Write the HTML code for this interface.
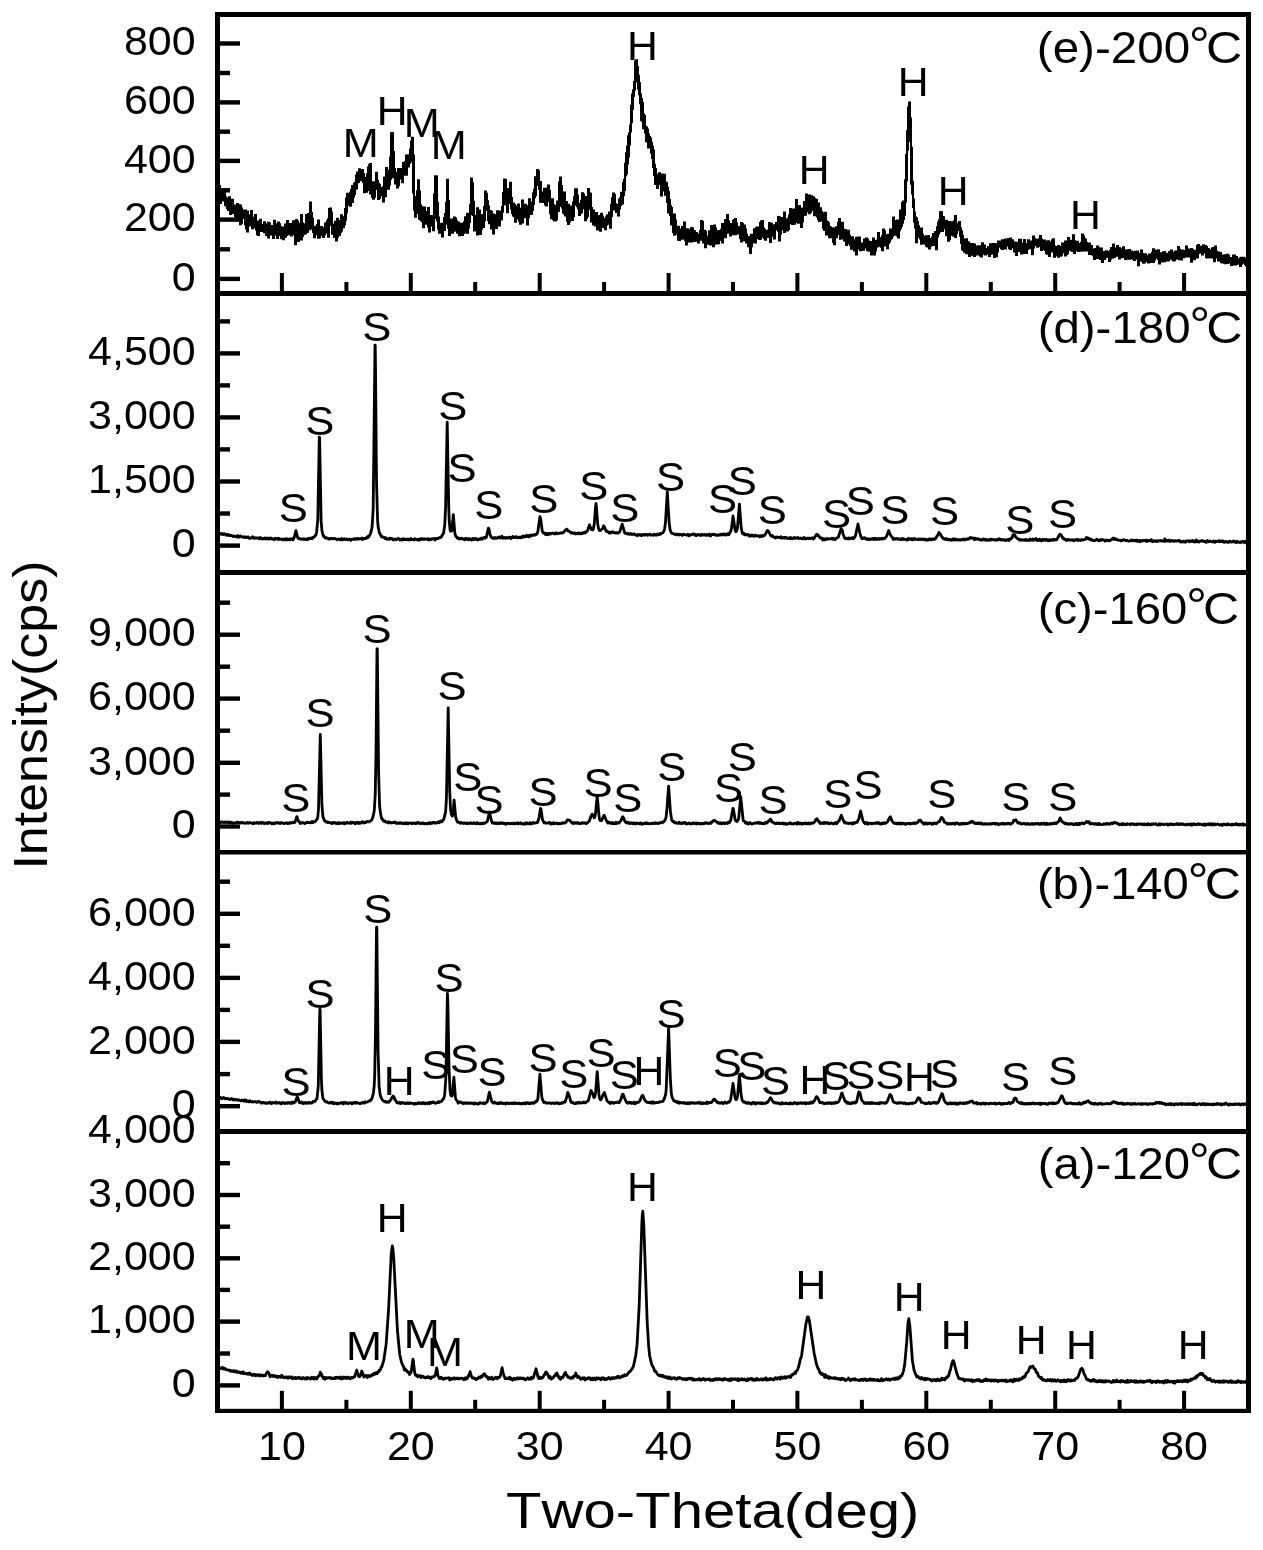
<!DOCTYPE html>
<html><head><meta charset="utf-8"><style>
html,body{margin:0;padding:0;background:#fff;width:1263px;height:1550px;overflow:hidden}
svg{display:block;will-change:transform}
text{font-family:"Liberation Sans",sans-serif;font-kerning:none;fill:#000}
</style></head><body>
<svg width="1263" height="1550" viewBox="0 0 1263 1550">
<rect width="1263" height="1550" fill="#fff"/>
<path d="M217.5,533.4L218.0,534.1 218.8,533.1 219.0,533.5 219.3,533.1 220.6,534.2 220.9,533.6 221.1,534.1 221.4,533.6 221.6,534.2 221.9,533.7 222.1,533.9 222.7,533.6 223.4,534.6 224.2,533.7 224.5,534.4 224.7,533.9 225.2,534.0 226.3,535.2 227.3,534.4 227.8,535.3 228.6,534.7 229.4,535.1 229.6,535.7 231.2,535.3 233.2,536.5 234.3,536.0 234.5,536.3 235.0,536.1 236.3,536.5 236.6,537.0 237.9,535.5 238.6,537.3 240.4,535.9 242.0,537.2 243.3,536.9 244.0,537.5 245.1,536.8 245.9,537.5 247.1,537.5 247.9,536.8 249.5,538.4 250.0,537.9 250.2,538.3 251.0,537.8 251.8,538.0 252.6,536.6 254.1,538.3 255.1,537.6 255.9,538.2 256.7,537.8 257.7,538.1 258.7,537.8 259.5,538.8 260.3,537.6 260.8,538.6 261.3,538.0 262.1,539.0 262.9,539.0 263.6,538.3 264.4,538.6 264.7,537.9 265.4,539.0 266.2,538.2 267.0,538.5 267.5,538.1 268.3,539.2 268.8,538.5 269.8,538.9 270.1,538.0 270.9,538.4 271.4,538.1 272.1,539.1 272.4,538.7 272.7,539.2 273.7,539.0 274.5,539.8 275.2,538.3 276.5,538.9 277.0,538.4 278.1,539.3 278.8,538.3 279.6,539.4 281.4,539.0 282.2,539.9 282.7,539.8 283.0,539.2 283.5,539.1 284.0,539.7 285.5,538.8 286.3,540.0 287.1,538.6 287.6,539.3 288.9,539.5 289.2,539.0 289.7,539.1 289.9,539.8 291.5,538.6 293.0,539.9 294.3,537.1 295.9,530.7 297.7,537.7 298.2,538.4 298.4,538.0 298.9,538.2 300.2,539.1 301.5,538.9 303.1,539.3 303.6,538.7 304.4,539.3 305.1,539.0 305.7,539.4 306.4,539.6 306.7,539.2 307.2,539.6 308.0,538.6 308.7,539.2 309.3,538.3 310.3,538.7 311.3,537.9 312.1,538.7 312.6,537.5 313.1,537.2 313.6,537.5 313.9,536.9 314.4,536.8 316.0,534.7 316.7,531.7 317.8,519.3 319.3,437.1 319.6,437.3 321.1,520.4 321.9,530.5 323.2,535.8 323.7,536.6 324.0,536.2 325.2,538.0 325.8,538.1 326.0,537.6 326.5,537.8 329.1,539.3 329.6,538.4 330.4,538.9 331.2,538.4 332.7,538.8 334.3,538.3 337.1,539.7 337.6,539.1 338.4,539.0 339.9,539.9 340.2,539.4 340.7,539.8 341.5,538.4 342.3,539.7 343.5,539.0 343.8,539.4 344.6,538.8 345.6,539.5 346.6,538.9 347.7,539.9 349.7,539.0 350.8,540.4 352.0,539.1 353.3,539.3 354.4,538.6 355.1,539.4 355.7,538.9 356.4,538.9 356.7,538.4 357.5,539.2 358.2,538.5 358.5,539.2 360.8,538.6 361.3,538.8 361.8,538.1 362.6,539.5 363.1,538.2 363.6,538.8 364.2,538.3 365.7,538.6 366.2,537.6 367.0,538.0 367.8,536.5 368.0,537.4 368.5,537.4 370.6,533.3 372.1,527.1 373.2,508.3 375.0,345.1 375.2,345.2 375.5,367.2 376.5,481.6 377.6,520.5 378.1,526.6 379.4,533.1 380.1,533.8 381.4,536.6 381.9,536.4 383.0,537.3 383.2,536.9 384.5,537.7 385.0,538.6 385.8,537.8 386.8,539.3 387.9,538.8 388.9,539.4 389.7,538.2 390.2,538.1 391.0,539.0 391.5,538.5 392.3,539.0 392.5,538.8 393.3,540.0 394.1,539.2 395.1,539.1 395.9,539.2 396.1,539.8 398.4,538.3 400.0,540.2 400.8,539.3 401.5,539.8 402.0,539.1 402.8,540.0 403.6,538.6 404.6,539.5 405.7,539.7 405.9,539.3 406.7,539.8 407.7,539.0 409.3,540.0 409.8,539.2 410.3,539.2 410.8,538.5 411.3,539.7 413.4,539.3 414.2,540.0 414.9,538.8 417.3,539.9 417.8,539.3 418.3,540.1 418.8,539.6 419.3,540.2 420.3,538.7 420.9,539.4 421.9,538.6 422.7,539.4 424.0,539.3 424.2,538.8 424.7,539.3 425.5,538.9 427.1,539.2 427.8,539.7 428.3,538.6 429.4,539.9 430.1,539.2 431.2,539.4 431.4,538.9 432.2,539.2 433.0,538.6 433.8,539.0 434.0,538.5 435.0,540.0 435.8,538.5 436.1,538.9 437.1,538.5 438.1,538.7 438.9,537.6 440.5,537.7 441.5,536.4 441.7,536.5 442.5,534.7 443.5,533.5 444.8,524.5 445.6,507.0 447.2,422.2 448.7,506.0 449.2,520.2 450.0,529.5 450.5,531.2 451.5,531.2 451.8,530.6 453.3,514.7 454.9,533.5 455.7,536.0 456.2,536.9 456.7,536.9 457.2,538.0 457.5,537.9 457.7,538.3 458.0,537.8 458.8,538.9 459.3,538.6 459.8,539.1 460.6,538.4 460.8,538.7 461.1,538.1 463.1,539.3 464.2,538.7 464.9,539.9 466.0,538.2 466.5,538.9 467.0,538.7 467.8,539.8 468.8,538.5 470.1,539.8 470.9,539.0 471.6,540.1 472.7,538.6 472.9,538.9 473.2,538.5 474.0,539.6 474.7,538.5 475.0,539.1 476.0,538.5 476.8,539.6 477.6,539.5 477.8,540.0 478.9,538.8 480.4,539.3 481.2,538.1 481.7,538.0 482.0,539.2 482.5,539.1 482.7,538.4 483.8,538.2 484.0,537.6 484.5,537.4 484.8,538.0 485.3,538.1 486.3,537.4 488.4,528.1 488.9,528.5 489.9,534.2 491.0,536.9 492.0,537.9 492.5,537.7 493.6,538.5 494.6,537.4 494.8,538.0 495.1,537.8 495.9,538.4 497.2,537.7 497.4,538.0 498.2,537.1 499.0,537.7 499.5,537.0 500.3,538.0 501.8,536.2 502.8,538.3 503.1,537.8 503.9,537.9 504.1,537.4 504.4,537.8 505.4,537.8 505.7,538.4 506.4,537.4 508.0,538.0 509.8,537.1 510.6,538.7 511.1,538.6 511.6,537.4 512.1,537.1 512.4,537.4 512.9,536.4 513.7,537.5 514.4,537.1 515.2,537.6 516.0,536.6 517.0,536.8 517.8,537.9 518.3,537.4 519.1,537.5 519.3,537.1 520.6,537.8 521.4,536.8 521.9,537.4 523.2,536.1 524.0,537.0 524.5,536.2 525.5,536.7 526.5,535.3 527.3,536.6 528.3,535.6 529.1,536.9 530.4,535.1 531.4,536.1 532.2,535.0 533.0,535.2 534.0,534.7 534.8,535.2 535.6,534.2 536.3,534.6 537.1,533.8 537.9,531.1 539.9,516.7 540.7,519.0 542.3,531.5 543.6,533.1 544.3,533.0 545.1,534.3 545.9,533.3 546.4,534.5 547.2,533.5 547.7,534.8 549.0,533.3 549.7,534.2 550.5,533.4 551.3,533.3 551.5,533.7 552.3,533.0 554.1,533.4 554.6,534.0 555.9,532.8 556.7,533.7 557.7,533.2 559.8,533.3 561.1,532.7 561.9,533.2 563.7,532.3 564.9,530.4 565.2,530.5 566.2,529.4 567.0,529.1 568.0,531.0 568.3,530.8 570.1,531.9 570.9,533.0 571.6,532.5 573.5,533.5 574.0,533.0 574.5,533.3 575.0,532.9 575.8,533.9 576.3,533.4 577.8,533.8 578.6,532.8 579.4,533.6 580.4,533.4 580.7,533.8 581.2,533.2 582.0,533.5 582.2,532.9 583.0,533.2 583.2,532.7 584.0,532.9 584.5,532.5 585.3,533.0 586.1,531.5 587.4,531.1 589.4,524.8 591.5,529.7 592.3,529.5 592.8,529.9 593.3,529.2 594.3,523.6 595.6,506.0 596.1,503.5 597.7,524.0 598.5,528.5 599.5,530.7 600.5,530.6 602.6,528.6 603.6,525.8 604.6,527.3 605.9,530.7 606.4,531.4 606.7,530.9 607.0,531.3 607.2,531.0 608.2,531.8 609.0,533.0 609.5,532.4 610.3,533.1 611.1,532.0 612.1,532.5 612.9,531.8 613.1,532.3 615.0,532.8 615.5,532.6 616.0,533.1 616.8,532.6 618.0,533.1 619.8,531.7 622.2,524.1 624.7,532.8 625.3,533.3 626.0,533.1 626.5,533.7 627.3,533.1 628.1,534.0 628.6,533.7 629.6,534.2 630.4,533.4 632.0,534.7 632.7,534.1 633.8,534.2 634.3,533.8 635.1,534.9 636.6,534.9 637.1,535.6 637.9,534.5 638.9,535.1 639.7,534.5 640.2,535.3 641.0,534.7 641.8,535.6 642.3,534.7 643.0,534.9 643.8,534.5 644.6,535.3 645.4,534.3 646.7,535.0 647.2,534.5 647.7,535.4 648.2,534.7 649.5,534.2 650.3,534.4 650.8,535.2 652.1,535.1 652.6,534.7 653.6,535.2 654.4,534.2 655.4,535.1 656.2,534.5 657.0,535.1 658.0,534.0 658.3,534.6 659.3,534.7 660.1,533.5 660.8,534.1 661.3,533.4 662.9,532.8 664.2,530.4 664.7,528.3 665.5,522.1 667.3,492.0 669.1,522.1 670.1,529.8 671.1,532.5 672.7,533.6 674.0,533.8 674.7,534.5 675.8,533.9 676.6,534.8 677.6,534.1 678.9,534.4 679.4,535.0 680.2,534.4 680.7,534.7 681.2,534.4 682.2,535.4 683.3,534.2 683.5,534.5 684.5,534.4 685.3,534.9 687.4,535.1 687.9,534.2 688.7,535.8 689.2,535.7 689.7,534.8 690.7,535.1 691.0,534.7 692.5,534.4 693.3,533.8 693.6,534.5 694.6,534.7 694.9,535.2 695.6,534.6 696.4,535.6 696.9,534.8 697.7,535.1 699.0,534.4 699.2,534.8 700.0,534.8 700.5,535.6 701.6,534.3 701.8,534.5 702.1,534.2 702.8,535.1 703.6,535.1 704.4,534.5 704.6,534.9 705.2,534.8 705.9,535.4 706.2,534.6 707.0,535.0 707.2,534.7 708.0,535.3 708.3,534.6 708.5,535.0 709.3,534.0 710.6,536.0 711.9,534.3 712.1,534.8 712.9,534.3 713.4,534.8 714.2,534.1 715.5,535.2 716.0,534.7 716.8,535.2 717.0,535.0 718.1,535.3 719.1,534.6 719.9,535.1 720.4,534.3 721.4,535.0 721.7,534.4 722.4,534.6 722.7,534.0 723.2,534.1 723.7,535.0 724.5,533.9 725.8,534.5 726.0,535.1 726.6,534.9 727.3,533.6 727.8,534.3 728.6,534.0 728.9,534.7 729.6,532.9 730.4,532.2 731.5,528.5 733.0,516.0 735.3,531.0 735.8,531.6 736.4,531.5 737.1,529.6 737.6,526.1 739.4,504.1 741.2,528.0 742.3,533.3 742.5,533.5 743.1,533.1 743.6,534.2 744.1,533.5 744.3,533.7 744.9,534.8 746.9,534.5 747.7,535.1 748.5,534.5 749.5,536.2 750.3,535.6 750.8,536.0 751.6,535.1 752.3,535.8 752.6,535.3 752.8,535.5 753.6,536.3 755.2,535.1 755.4,535.7 755.9,535.5 756.7,536.1 757.7,535.6 758.5,535.8 759.5,536.9 760.3,535.8 761.6,536.6 762.4,535.4 762.9,536.1 763.4,535.5 764.2,535.8 766.0,533.3 766.8,531.2 767.5,530.5 768.6,531.3 770.4,535.3 770.6,535.1 771.4,536.2 772.2,535.6 773.0,536.8 773.2,536.5 774.0,537.2 774.5,537.1 775.3,538.0 776.0,537.0 776.3,537.5 777.1,537.0 778.1,537.6 778.4,537.3 779.4,537.5 779.9,537.2 780.2,537.7 780.9,536.6 782.0,538.3 784.0,537.4 784.8,538.2 785.3,537.2 785.8,538.0 787.1,537.7 787.6,538.5 789.2,538.0 789.4,538.5 790.2,537.4 790.7,538.6 791.5,537.9 792.8,538.7 794.3,537.4 794.6,538.2 795.1,538.3 795.4,537.9 797.7,538.2 798.0,537.5 798.7,538.6 800.5,538.0 801.6,538.7 802.6,538.9 803.6,537.7 803.9,538.2 804.1,537.5 804.4,538.2 804.7,537.9 804.9,538.9 805.2,538.5 805.4,538.8 805.7,538.3 806.5,538.8 807.2,538.1 808.8,538.7 809.3,538.0 810.1,538.7 812.4,537.8 813.2,539.1 813.7,538.1 814.4,538.0 816.3,534.6 816.8,534.3 817.3,535.3 818.1,534.9 818.3,535.2 819.9,537.8 820.9,538.3 821.2,537.8 821.7,537.8 822.7,540.0 823.2,539.1 823.5,538.8 823.7,539.1 824.0,538.7 825.0,540.0 826.6,538.6 826.8,539.0 827.6,538.7 827.9,539.2 829.4,538.8 830.9,538.8 831.7,538.2 832.5,539.3 833.3,538.2 833.5,538.7 834.3,538.6 834.6,539.5 835.1,539.7 836.4,538.2 838.4,537.0 841.0,528.7 842.3,530.4 843.1,534.2 844.9,538.5 845.9,538.6 847.2,538.2 848.0,539.0 848.7,537.9 850.0,538.9 851.8,537.8 852.1,538.2 852.3,537.8 853.1,538.8 854.1,538.1 855.4,536.0 858.0,524.0 859.8,532.9 861.1,537.3 862.1,538.8 862.6,538.6 862.9,537.9 864.5,538.4 864.7,537.8 865.0,538.4 865.2,537.9 866.8,539.5 867.3,538.7 868.1,539.5 868.8,538.8 869.9,539.6 870.9,539.3 871.4,538.6 872.2,539.1 872.7,538.4 873.5,539.5 874.2,538.4 874.8,538.3 875.5,539.3 875.8,538.4 876.6,539.5 877.6,538.9 877.9,539.1 878.6,538.4 879.4,539.4 879.9,538.6 880.7,538.9 881.5,538.4 882.0,539.1 882.5,538.3 883.3,538.8 884.3,538.6 885.8,537.4 886.6,536.3 888.7,530.5 889.5,533.2 891.8,537.1 892.3,537.1 893.1,539.2 893.3,538.9 893.6,539.4 893.8,539.0 894.6,539.2 895.1,538.5 895.4,539.2 896.2,538.5 896.4,538.9 897.2,538.4 898.0,539.1 898.7,539.4 899.5,538.8 901.1,539.7 901.8,538.7 902.6,538.4 903.4,539.5 904.4,539.1 906.7,540.0 907.5,538.9 907.8,540.0 908.5,538.3 910.1,539.4 911.1,538.7 911.6,539.4 912.4,538.7 912.9,539.8 914.2,538.4 915.0,539.4 915.2,538.9 917.5,539.7 918.1,539.7 918.8,538.8 920.1,539.7 920.9,538.9 921.7,539.4 922.4,539.0 923.0,539.7 923.5,539.3 924.3,539.8 924.8,539.1 925.5,539.9 925.8,539.4 926.6,539.3 927.3,540.2 927.6,539.9 927.9,540.2 928.4,540.0 929.1,538.8 929.7,538.9 930.2,539.8 931.2,538.9 931.7,539.7 933.3,538.8 933.8,539.5 935.8,538.4 936.9,536.2 937.7,535.6 938.9,532.4 940.7,534.7 942.0,537.3 942.8,537.6 943.3,538.8 943.8,538.7 944.9,539.4 945.6,538.5 946.2,539.7 946.7,539.7 946.9,538.9 948.2,539.9 948.7,540.0 949.0,539.4 950.3,539.4 951.1,540.2 951.8,540.3 952.6,539.1 953.1,539.8 953.9,538.8 954.1,539.7 954.7,540.1 954.9,539.3 955.7,539.5 956.0,539.1 957.2,540.1 958.8,539.7 959.6,540.1 960.1,539.5 960.9,540.1 962.7,539.1 962.9,539.7 963.7,539.1 964.2,539.9 964.7,539.5 965.2,539.9 966.5,538.9 967.6,539.4 968.3,538.5 968.8,538.5 969.1,538.9 970.1,537.5 971.2,538.1 971.7,537.8 972.2,538.4 973.5,538.0 974.5,539.7 975.3,538.3 975.8,539.4 977.3,538.7 977.6,539.1 978.4,538.9 979.4,539.8 980.4,539.6 981.2,540.2 981.7,539.5 982.5,539.8 983.3,538.9 984.0,540.0 984.8,539.9 985.3,539.3 986.1,540.3 986.9,539.5 988.4,540.4 989.2,539.6 990.0,540.1 990.7,539.1 991.3,539.8 991.8,539.4 992.0,539.9 993.6,539.4 994.4,540.0 994.9,539.7 995.6,540.1 996.4,539.5 996.9,540.0 998.0,539.8 998.5,538.9 999.3,539.2 999.5,538.7 1000.3,540.0 1001.6,539.5 1002.3,540.0 1002.9,539.6 1003.6,539.7 1004.4,540.3 1005.4,539.7 1006.2,540.6 1008.0,539.3 1009.1,540.4 1010.3,538.7 1010.9,538.9 1011.6,537.8 1012.1,537.8 1012.9,534.9 1013.4,534.7 1014.7,535.0 1015.8,537.0 1017.3,538.6 1018.3,538.8 1019.1,540.0 1019.6,539.3 1020.9,540.2 1021.2,539.7 1022.2,540.2 1023.0,539.7 1024.0,540.3 1025.3,539.5 1025.8,539.6 1026.1,540.4 1026.8,539.7 1027.6,540.4 1028.4,539.9 1029.4,540.5 1030.2,539.0 1031.5,540.1 1032.0,540.1 1032.8,539.0 1033.5,540.3 1034.8,539.2 1035.1,539.5 1035.9,538.5 1036.9,540.5 1037.7,539.6 1038.7,540.5 1039.7,539.2 1041.5,540.9 1042.6,539.2 1043.3,540.3 1044.4,539.5 1044.6,540.0 1045.4,539.5 1045.9,540.4 1046.7,539.5 1047.7,540.6 1048.5,539.7 1049.5,540.8 1050.3,539.7 1050.8,540.4 1051.3,540.4 1051.6,539.6 1052.4,540.1 1053.4,539.3 1054.2,540.2 1054.9,539.6 1056.5,539.3 1056.7,539.8 1059.8,534.2 1060.3,534.2 1061.4,535.3 1062.7,538.3 1063.4,538.0 1064.2,539.4 1065.0,539.6 1065.5,539.2 1066.8,540.6 1067.3,539.7 1068.1,539.9 1068.3,539.4 1069.9,540.2 1071.2,539.7 1073.0,540.4 1073.2,539.8 1074.0,540.8 1074.8,540.0 1076.3,539.8 1076.8,539.2 1077.6,539.6 1077.9,540.5 1078.4,540.4 1078.6,539.8 1080.2,540.6 1081.5,539.6 1081.7,540.0 1082.5,539.8 1082.8,540.1 1085.1,539.2 1085.6,539.3 1086.1,537.7 1086.9,538.5 1087.1,537.8 1087.7,537.7 1088.4,538.8 1088.7,538.3 1089.2,538.5 1090.0,539.6 1090.2,539.1 1090.8,539.1 1091.0,539.7 1091.3,539.2 1092.3,540.5 1092.6,540.3 1094.4,540.7 1095.1,540.2 1095.4,540.5 1095.9,539.8 1096.7,539.9 1096.9,539.3 1098.5,540.7 1099.3,540.9 1100.0,539.7 1100.3,540.1 1100.6,539.7 1101.1,539.9 1101.3,540.4 1102.1,539.5 1103.9,539.9 1104.9,541.1 1106.2,540.7 1106.7,539.9 1107.5,540.5 1108.8,540.4 1109.1,540.8 1109.6,540.2 1110.3,540.5 1111.6,539.2 1112.2,539.0 1112.7,539.3 1113.4,537.9 1114.5,539.3 1114.7,538.7 1115.2,538.6 1116.0,539.6 1116.5,539.2 1117.8,540.1 1120.1,540.1 1120.9,540.9 1121.2,540.3 1122.5,540.6 1123.5,539.6 1125.8,540.7 1126.6,540.2 1128.6,541.2 1129.2,540.8 1130.7,540.9 1131.5,540.0 1132.0,540.0 1132.5,540.9 1132.8,540.5 1134.1,540.3 1134.3,540.6 1135.1,540.1 1135.3,541.0 1136.6,540.1 1137.4,541.4 1137.7,541.0 1138.4,541.1 1139.2,540.4 1139.7,541.8 1140.5,540.4 1140.8,541.2 1141.5,540.9 1141.8,541.2 1142.3,541.1 1142.6,540.5 1142.8,540.8 1143.1,540.3 1144.9,540.6 1145.7,540.2 1146.2,541.3 1146.9,540.3 1147.5,541.4 1148.2,540.5 1148.8,540.7 1150.0,540.5 1150.6,540.9 1151.3,539.6 1152.1,541.5 1152.6,541.6 1154.2,540.9 1154.4,541.2 1155.2,540.6 1156.7,541.6 1157.3,540.6 1157.8,541.1 1159.8,540.5 1160.1,541.0 1160.6,540.9 1160.9,540.4 1162.4,541.1 1163.7,540.8 1164.0,541.3 1164.7,538.9 1165.5,541.3 1166.5,540.2 1167.8,541.1 1169.1,540.1 1169.9,541.5 1171.9,540.4 1172.2,540.9 1173.0,540.8 1173.5,541.3 1174.3,540.8 1174.5,541.3 1175.6,540.7 1176.8,541.2 1177.6,540.6 1178.4,540.9 1179.2,540.4 1180.2,541.9 1180.7,541.2 1181.5,541.8 1181.7,541.3 1182.3,541.3 1182.8,542.0 1183.5,541.3 1185.4,542.3 1186.1,540.9 1187.2,541.2 1188.4,540.7 1189.2,541.8 1190.0,540.8 1191.5,541.4 1192.3,540.6 1192.6,541.0 1192.8,540.8 1193.1,541.5 1193.6,540.9 1194.4,541.9 1194.6,541.2 1195.4,542.0 1196.2,540.0 1196.9,541.6 1197.5,541.0 1198.0,541.0 1198.8,542.1 1199.8,541.2 1200.8,541.2 1201.6,540.5 1202.9,541.3 1203.7,540.9 1204.4,541.5 1205.7,541.3 1206.2,542.4 1207.3,540.5 1208.0,541.9 1209.1,541.7 1209.8,540.9 1210.1,541.3 1210.9,541.3 1211.1,541.7 1211.9,541.5 1212.2,541.9 1213.4,541.0 1213.7,541.4 1214.0,541.0 1214.7,542.4 1215.8,541.3 1216.5,541.7 1217.6,541.1 1218.9,541.5 1219.1,540.8 1219.6,540.7 1219.9,541.7 1220.1,541.3 1220.4,541.7 1221.4,541.5 1222.2,540.7 1222.7,541.7 1223.5,541.3 1224.3,542.3 1225.3,541.5 1225.6,541.9 1226.3,541.5 1227.4,542.4 1228.1,541.8 1228.9,542.2 1229.4,541.2 1230.2,541.8 1231.0,541.6 1231.5,542.1 1232.8,541.7 1233.3,541.0 1234.1,542.0 1234.6,541.8 1234.8,542.1 1235.1,541.5 1236.4,542.6 1237.2,541.2 1237.4,541.8 1238.4,542.2 1239.2,542.0 1240.0,542.7 1240.5,541.9 1240.8,541.8 1241.0,542.3 1242.1,542.1 1242.8,541.3 1243.6,542.0 1243.9,541.6 1244.6,542.8 1245.9,541.3 1247.5,542.0 1248.5,541.5" fill="none" stroke="#000" stroke-width="2.8" stroke-linejoin="round"/>
<path d="M217.5,822.0L218.5,822.7 219.0,822.1 219.8,822.9 220.3,822.0 220.9,822.6 221.6,821.8 223.7,822.6 224.5,821.9 225.7,822.5 226.8,822.0 227.8,822.7 228.6,822.0 228.8,822.4 229.9,822.1 230.1,822.7 231.4,822.2 232.2,823.6 233.5,822.8 236.3,822.8 237.1,822.1 237.6,822.7 238.1,822.3 239.9,822.6 240.7,823.1 241.5,822.2 242.2,822.8 243.3,822.6 244.6,823.4 244.8,823.1 246.4,823.0 246.9,822.5 248.2,823.3 249.5,822.4 252.3,823.5 253.6,822.8 254.1,823.5 254.6,823.0 255.6,823.2 256.7,822.4 256.9,823.1 258.2,822.6 259.0,823.4 259.5,822.7 260.3,822.7 260.5,822.4 261.3,823.4 262.6,822.3 262.9,822.9 263.6,822.9 264.2,823.8 264.7,823.1 265.4,823.2 265.7,822.7 266.5,823.4 267.2,823.0 267.5,823.5 268.3,822.5 268.8,823.0 269.3,822.4 269.8,823.1 271.1,823.0 271.9,823.9 273.2,822.8 273.7,822.8 273.9,823.6 274.5,823.8 275.2,823.5 275.5,822.8 276.5,822.5 277.0,823.0 277.8,822.6 278.6,823.2 279.1,822.8 279.9,823.5 280.6,822.6 281.2,823.0 281.7,822.6 284.0,823.7 285.0,823.1 286.1,823.2 286.3,822.7 287.1,823.4 287.4,822.9 288.1,823.5 289.4,822.7 290.2,823.2 290.7,822.5 291.5,822.9 292.8,822.7 293.0,822.3 293.8,822.8 294.6,822.1 294.8,822.4 296.9,816.6 298.4,820.9 298.9,821.9 299.5,821.8 300.2,823.4 301.3,823.3 301.5,822.7 302.6,822.5 305.1,823.6 306.2,822.5 307.2,822.2 308.0,822.7 308.5,822.4 310.3,822.9 310.8,822.4 311.6,822.6 312.1,821.4 313.1,822.7 313.9,821.7 315.4,821.4 317.2,818.8 317.8,816.8 318.5,809.1 320.3,734.4 321.9,804.3 322.9,816.6 324.5,820.8 325.8,822.0 326.5,821.4 327.8,822.7 328.3,822.2 330.1,822.6 331.7,823.6 332.5,822.6 333.0,823.2 334.0,822.5 335.0,822.7 335.3,823.2 336.1,822.9 336.6,823.5 337.4,823.1 338.1,823.6 338.9,822.6 339.7,823.6 341.2,822.8 343.0,823.5 343.8,822.6 344.6,823.8 345.1,823.2 346.4,822.7 346.6,822.9 346.9,822.5 347.4,822.5 347.7,823.1 349.5,822.9 349.7,823.2 350.5,822.1 351.3,823.4 352.0,822.3 352.8,822.7 353.3,822.3 354.9,823.8 355.4,822.9 356.2,823.3 356.7,822.2 357.5,823.1 358.2,822.6 358.7,823.5 359.5,822.6 360.3,823.3 361.3,822.2 362.4,822.4 362.6,821.6 363.4,823.0 364.4,822.4 365.4,822.8 366.7,821.4 367.5,821.8 368.5,821.5 369.1,821.9 371.9,819.8 372.9,817.0 374.2,811.3 375.2,795.1 376.0,753.7 377.0,648.9 377.3,648.7 378.6,772.8 379.6,806.2 380.7,814.4 381.4,817.8 382.2,819.4 382.7,819.1 383.5,821.1 384.0,821.4 385.0,821.0 385.8,822.2 387.4,822.2 387.9,822.8 388.6,821.7 389.4,822.7 390.2,822.3 391.7,823.1 393.0,822.4 394.1,822.7 394.8,821.9 396.1,823.4 397.4,822.7 398.2,823.5 399.2,823.3 400.0,822.4 400.8,823.2 401.3,822.9 402.0,823.6 402.3,823.1 402.8,823.1 403.6,823.7 404.1,822.9 404.9,823.7 405.7,823.0 406.2,823.6 406.9,822.8 408.0,823.9 408.5,823.2 409.8,823.0 411.1,823.1 411.8,823.7 412.4,823.0 413.1,823.4 413.4,822.9 414.2,823.5 415.5,822.9 416.0,823.6 416.7,823.4 417.8,822.2 419.6,823.6 420.9,823.0 421.6,823.7 422.2,823.7 422.9,822.9 424.0,823.3 424.2,823.9 425.0,823.4 425.2,823.8 426.8,823.2 427.6,824.0 428.3,823.2 429.1,823.3 429.6,822.6 430.4,823.7 431.2,822.8 432.2,823.3 433.2,822.2 433.8,822.7 434.5,822.5 435.0,823.3 435.6,822.6 437.1,823.0 438.4,821.7 439.4,822.7 439.9,821.5 440.7,820.9 442.0,821.8 443.8,819.1 445.6,812.1 446.4,799.4 448.2,707.9 449.7,791.1 450.5,808.7 451.3,814.1 452.3,816.1 453.1,812.4 454.1,800.2 455.7,817.1 456.7,820.5 457.7,822.3 459.3,822.2 460.6,823.4 461.6,822.5 463.7,823.5 464.4,822.8 466.2,823.6 467.3,823.0 468.5,823.8 469.3,823.1 470.1,823.1 470.4,822.6 471.1,823.5 471.6,823.1 472.4,823.6 473.4,823.1 473.7,823.3 474.0,822.8 475.8,823.8 477.1,822.6 477.8,823.6 478.6,823.4 479.1,823.9 479.9,823.3 480.7,823.8 481.4,823.3 482.5,823.7 483.0,823.0 483.8,823.5 484.5,822.9 485.3,823.0 487.4,821.3 489.4,812.0 491.5,820.9 492.5,823.1 493.0,823.2 493.3,822.8 494.1,823.4 494.6,822.8 495.9,823.5 496.9,822.9 497.7,823.8 498.2,822.9 500.3,823.6 501.0,822.6 503.1,823.5 503.9,822.9 504.6,823.9 505.1,824.0 505.9,823.6 506.2,824.2 507.5,823.1 509.5,823.8 509.8,823.4 510.6,823.7 511.1,823.3 511.9,823.9 513.7,823.1 514.7,823.9 514.9,823.3 516.0,823.6 517.5,822.7 518.3,823.9 520.6,822.8 521.4,823.8 522.2,823.4 522.9,824.2 523.7,823.5 525.3,824.2 526.0,822.8 526.5,823.3 527.3,822.9 527.6,823.7 528.3,823.4 529.1,823.8 530.2,822.6 530.9,824.0 531.4,823.4 532.5,823.5 533.2,822.5 533.8,823.0 535.0,823.1 536.1,822.9 536.6,822.2 537.4,822.6 537.9,822.0 539.2,817.0 540.5,808.3 541.0,809.3 542.5,819.7 544.1,822.9 544.8,822.4 546.1,823.2 547.7,823.2 549.5,822.4 550.8,824.2 552.3,822.9 552.8,823.8 553.6,822.7 554.6,823.8 556.7,823.0 557.5,824.0 558.8,823.4 559.5,823.8 559.8,823.5 560.0,823.8 560.3,823.5 561.1,823.7 562.1,823.0 562.9,823.3 564.2,822.6 564.9,823.1 566.2,822.1 567.0,820.4 567.8,819.7 568.0,820.1 569.6,820.2 570.9,822.0 571.6,821.8 572.2,823.0 573.2,823.1 573.5,823.7 574.5,822.5 576.5,823.4 577.6,822.4 577.8,822.8 578.6,822.9 579.1,823.7 581.2,823.1 581.4,823.4 582.2,822.6 583.8,823.3 584.5,822.7 585.1,822.8 586.1,823.8 586.9,822.9 587.9,822.4 588.9,821.0 589.2,821.4 589.4,821.0 591.0,816.1 592.0,814.3 592.3,814.2 592.8,815.5 593.3,815.9 594.1,817.8 594.6,817.6 595.6,812.9 597.2,795.7 599.0,815.6 599.5,819.2 600.5,820.6 601.3,820.2 601.5,820.6 603.9,815.3 604.4,815.4 606.2,820.4 608.0,823.1 608.8,822.0 609.8,823.0 611.1,822.8 611.6,823.5 612.1,822.4 613.4,823.7 614.2,822.9 614.4,823.4 615.5,823.6 616.0,822.2 616.8,823.4 618.3,822.3 619.1,823.0 620.6,821.1 622.7,816.7 623.7,818.0 624.5,820.7 625.3,821.4 625.5,822.3 625.8,822.1 626.0,822.6 626.3,822.2 627.1,823.1 628.6,822.2 629.4,823.6 630.4,823.4 631.2,822.7 633.0,823.7 633.8,822.8 635.6,824.0 636.3,823.0 636.6,823.5 637.4,823.2 639.2,823.8 640.0,823.2 640.7,823.7 641.0,823.0 641.8,824.4 642.3,823.8 642.5,824.1 643.0,824.0 643.3,823.5 643.8,823.6 644.6,823.1 644.8,823.6 645.4,823.7 645.9,822.8 646.7,823.6 647.2,823.7 647.7,823.0 648.5,823.7 649.5,823.9 651.0,823.2 651.8,823.6 652.1,823.2 652.8,823.7 654.6,822.9 655.2,823.5 655.7,822.8 656.2,823.3 657.0,823.1 658.5,823.6 659.3,822.7 659.8,823.1 661.6,822.1 662.4,822.8 663.1,821.8 663.9,821.7 665.0,820.2 666.0,817.6 667.0,808.4 668.6,786.1 670.4,811.4 671.7,820.1 672.9,821.6 673.5,821.2 673.7,821.4 674.5,822.7 674.7,822.5 675.3,822.9 676.0,822.4 676.6,823.1 677.6,823.4 679.1,822.3 679.6,823.4 680.9,823.2 681.4,823.6 682.0,822.8 682.5,823.4 683.0,823.3 683.3,822.9 683.5,823.1 685.1,822.4 685.8,823.9 686.6,823.5 687.6,823.9 688.9,823.0 690.0,823.3 690.2,823.9 691.0,824.0 692.0,823.5 692.8,823.7 693.3,822.7 693.6,823.1 694.3,823.1 694.9,823.7 695.9,823.0 696.7,824.0 697.2,823.2 697.9,823.0 698.7,823.7 700.0,823.5 700.8,824.1 701.6,823.2 703.6,823.9 704.4,822.9 705.2,823.3 706.5,822.6 706.7,823.1 708.5,823.6 709.5,822.9 710.8,823.3 711.3,822.2 712.1,822.2 713.2,820.7 714.4,820.2 715.2,821.1 716.0,821.1 716.5,822.1 717.3,822.1 718.1,823.2 718.8,822.7 719.9,823.5 720.4,823.5 720.9,822.8 721.7,823.8 722.2,823.9 722.7,823.1 723.7,822.7 724.2,822.8 724.8,823.7 726.8,822.7 727.3,822.8 727.6,823.6 728.6,822.0 729.4,822.6 730.7,820.6 733.0,808.3 733.5,809.5 735.1,819.5 735.6,820.8 736.9,821.6 737.1,820.9 738.2,819.9 738.7,818.4 740.7,796.7 743.1,819.7 743.6,820.9 744.9,821.7 745.6,823.2 745.9,823.4 746.9,822.6 748.2,824.2 749.0,823.1 749.2,823.5 750.0,822.5 750.3,823.3 752.1,824.1 754.4,822.9 755.2,823.3 755.7,823.0 757.2,823.1 757.5,822.5 758.3,823.1 758.8,822.4 759.5,823.4 760.6,822.7 760.8,823.2 761.1,822.9 761.9,823.6 763.2,823.3 764.2,823.9 764.7,823.0 765.2,823.2 765.7,822.2 766.5,823.2 766.8,822.5 767.3,822.8 768.6,820.6 769.3,820.8 770.4,819.3 771.1,819.7 771.9,822.0 772.7,822.0 774.5,823.4 774.8,823.2 775.5,823.7 776.6,822.9 777.1,823.5 778.1,823.4 778.4,822.9 779.7,823.8 779.9,823.2 781.2,823.7 782.5,822.9 783.8,824.1 785.1,823.2 785.8,824.4 786.1,824.0 786.4,824.4 786.9,824.2 787.1,823.6 787.9,824.1 790.0,822.8 790.7,823.8 791.3,823.2 792.3,824.0 793.3,824.2 794.1,823.4 795.4,823.4 795.9,822.9 796.9,824.2 797.7,822.4 798.2,823.7 799.0,822.9 799.5,823.8 800.5,823.3 800.8,823.7 801.6,823.3 802.1,824.3 802.6,823.4 803.9,823.7 804.1,823.2 805.2,823.0 805.9,823.6 806.5,823.3 807.0,823.9 807.5,823.3 808.3,823.5 808.5,822.9 809.6,824.1 810.8,822.9 811.4,823.5 812.1,822.9 813.2,823.2 815.0,821.5 815.7,819.6 817.0,818.8 818.8,821.8 819.1,821.4 819.9,823.3 820.6,823.3 820.9,823.7 821.9,822.8 823.5,823.6 824.0,822.4 824.8,823.3 825.5,822.6 825.8,823.0 827.1,823.3 827.6,822.6 828.1,823.5 828.9,823.1 829.9,823.7 830.9,822.8 833.3,824.0 835.6,822.5 836.4,823.9 838.4,821.3 839.2,820.8 841.3,815.2 844.1,822.3 844.9,822.0 845.4,823.1 846.2,822.7 847.2,823.4 848.0,823.2 848.7,823.6 849.5,823.0 851.3,823.4 851.6,823.2 852.3,824.1 853.1,822.8 853.9,823.6 854.7,823.3 855.4,822.3 856.5,822.1 857.2,822.4 858.0,820.1 858.8,819.1 860.6,811.0 862.9,820.6 863.7,822.1 865.0,823.7 865.2,822.9 865.5,823.1 865.7,822.8 866.0,823.4 867.0,822.6 867.3,823.9 867.8,824.3 869.1,823.2 870.1,823.5 871.2,823.1 871.7,823.9 873.7,823.1 875.3,823.5 876.1,822.7 876.8,823.3 877.3,822.6 878.1,823.4 879.1,822.8 880.2,824.1 880.9,823.6 881.2,824.1 882.0,823.0 882.5,823.6 883.0,823.0 883.8,823.5 884.8,822.7 885.6,823.4 887.6,821.7 889.5,817.6 890.5,816.8 892.0,820.9 893.1,822.3 894.6,823.5 895.4,823.1 896.9,823.9 898.0,822.9 898.7,823.9 899.0,823.7 899.8,823.9 900.3,823.0 901.1,824.1 901.8,823.3 902.6,823.7 903.6,823.2 903.9,823.9 904.4,824.0 904.7,823.7 905.4,824.4 905.7,824.0 906.0,824.3 906.7,823.3 908.8,823.6 909.3,823.1 910.6,824.0 911.1,823.3 911.9,823.5 912.7,823.1 913.9,823.6 914.7,822.7 916.0,823.5 917.8,822.1 918.1,822.3 918.8,820.4 919.6,820.6 919.9,820.2 920.1,820.6 920.4,820.2 922.4,822.9 923.0,822.6 923.7,824.1 924.3,823.8 924.5,824.1 925.3,823.1 926.1,823.8 926.3,823.2 926.8,823.2 927.3,824.1 928.4,823.2 929.1,823.7 929.9,823.1 931.0,823.1 932.0,824.2 932.2,823.8 933.3,824.0 933.5,823.2 934.0,822.9 934.3,823.4 934.8,823.0 936.1,823.9 938.7,821.4 939.5,821.6 941.3,817.5 941.8,817.4 943.3,819.3 944.4,822.2 944.9,822.1 947.2,824.0 947.7,823.4 948.5,823.4 949.0,824.0 949.5,823.6 950.0,824.0 950.5,823.4 951.3,824.0 952.1,823.4 952.6,823.9 954.1,823.1 954.9,824.3 955.2,823.7 956.5,822.8 957.2,823.4 957.5,823.0 958.3,824.0 958.8,823.6 959.8,824.5 960.9,823.5 961.6,823.6 961.9,824.0 962.9,823.3 963.7,823.9 963.9,823.4 965.0,823.4 965.5,824.0 966.0,823.5 967.3,823.6 968.1,823.0 968.3,823.3 969.1,822.8 969.9,822.8 971.2,821.3 971.9,822.2 972.7,821.5 974.8,823.6 975.5,823.2 976.8,823.6 977.6,822.9 978.1,823.6 979.2,823.0 979.9,823.7 980.4,822.9 981.2,824.0 981.7,823.9 982.0,823.3 983.5,824.3 984.6,823.6 985.3,824.1 985.9,823.7 986.6,824.2 987.4,823.8 988.7,824.2 989.5,823.7 991.5,824.1 992.0,823.4 992.8,823.7 993.1,823.2 993.8,823.5 994.9,823.2 995.6,824.2 996.2,823.6 996.7,823.6 996.9,824.1 997.2,823.5 997.5,823.9 997.7,823.6 998.5,824.7 999.0,824.0 999.8,824.3 1000.3,823.8 1000.8,824.2 1002.6,823.2 1002.9,823.7 1003.4,824.0 1003.9,823.5 1004.7,824.3 1006.2,823.4 1007.0,824.0 1007.8,823.3 1008.5,823.7 1009.6,823.5 1010.3,824.2 1012.7,822.7 1013.7,820.3 1014.5,820.9 1015.8,819.7 1018.1,823.1 1019.4,823.2 1019.6,822.6 1021.2,824.2 1023.7,823.4 1024.5,823.9 1025.0,823.5 1025.8,824.1 1026.1,823.8 1026.8,824.3 1027.9,823.4 1029.4,824.3 1030.2,823.9 1030.7,824.3 1031.0,823.7 1031.7,823.9 1032.2,823.4 1033.0,824.3 1033.8,823.8 1034.6,824.2 1035.1,823.5 1036.9,823.7 1037.4,824.1 1037.9,823.4 1038.7,823.5 1039.5,824.4 1040.2,823.9 1040.8,824.3 1041.5,823.2 1042.3,824.0 1043.1,823.6 1043.3,824.1 1044.4,823.1 1045.7,824.5 1046.7,823.2 1047.5,824.4 1049.0,823.7 1050.0,824.3 1050.8,823.5 1051.3,823.8 1052.1,823.5 1052.4,823.8 1053.1,823.8 1054.7,822.7 1055.4,823.7 1056.5,823.6 1057.2,822.5 1058.5,821.8 1060.1,817.9 1062.1,821.8 1062.9,821.9 1063.7,823.0 1064.0,822.4 1065.2,823.9 1066.0,823.3 1067.3,824.2 1067.8,823.7 1068.6,824.1 1069.1,823.7 1069.9,824.3 1071.4,823.6 1071.9,824.1 1073.2,823.8 1073.7,824.7 1074.5,824.2 1075.0,824.4 1075.8,823.4 1076.3,823.4 1077.1,824.6 1077.6,824.6 1078.4,824.4 1078.9,823.3 1079.4,823.6 1079.7,824.6 1080.7,823.6 1082.5,822.9 1083.8,823.8 1084.6,822.9 1085.3,823.0 1085.9,822.0 1086.6,822.2 1086.9,821.5 1087.9,821.8 1088.4,822.7 1089.2,821.7 1090.2,824.0 1090.8,823.6 1092.6,823.3 1093.6,824.1 1094.6,823.7 1094.9,824.2 1095.4,824.2 1095.9,823.5 1096.9,824.1 1097.2,824.7 1097.7,824.7 1098.5,823.5 1098.7,824.1 1099.0,823.8 1099.3,824.2 1099.5,823.5 1100.8,824.7 1103.6,824.3 1103.9,823.8 1105.2,824.3 1106.5,823.5 1107.0,824.1 1108.0,823.5 1109.3,824.4 1111.4,823.0 1111.9,823.0 1112.7,823.8 1113.7,822.5 1114.2,822.9 1115.0,822.5 1116.5,823.4 1116.8,823.0 1117.6,823.6 1117.8,823.3 1118.6,824.3 1119.6,824.8 1120.4,823.9 1120.7,824.4 1120.9,824.1 1121.9,824.7 1122.7,823.5 1124.0,824.6 1124.8,824.0 1126.3,824.8 1126.8,823.8 1127.4,823.7 1127.6,824.0 1129.7,824.1 1130.2,824.8 1131.2,823.7 1131.5,824.1 1132.3,823.8 1133.5,824.5 1134.3,823.9 1135.1,824.7 1135.6,824.3 1136.4,824.7 1136.9,824.0 1137.4,824.3 1138.7,823.9 1139.2,824.3 1140.2,823.9 1141.0,824.4 1142.0,823.9 1142.8,824.8 1144.1,824.0 1144.9,824.1 1145.1,824.7 1146.7,824.1 1147.5,824.9 1148.2,823.6 1148.8,824.3 1149.5,824.5 1149.8,824.2 1150.6,825.0 1151.1,824.3 1152.1,823.9 1152.9,824.5 1153.6,823.7 1154.4,824.2 1155.7,823.7 1157.3,825.0 1158.3,824.9 1159.3,823.8 1160.1,824.9 1160.9,823.9 1161.4,824.4 1162.2,823.9 1162.9,824.7 1164.2,824.6 1165.0,824.0 1166.8,824.5 1167.3,824.0 1168.1,825.2 1168.9,824.1 1169.6,824.5 1170.7,823.8 1171.4,824.6 1171.7,824.1 1172.7,824.6 1173.2,824.1 1174.0,824.8 1175.8,824.1 1176.6,824.3 1177.1,823.5 1177.6,824.3 1178.6,824.2 1179.2,824.7 1180.2,823.8 1181.0,824.3 1181.7,823.9 1182.5,824.4 1183.0,823.9 1184.3,824.7 1185.6,824.9 1185.9,824.5 1186.6,824.8 1187.4,824.0 1188.4,824.8 1190.2,824.0 1191.0,825.1 1191.8,824.0 1192.1,825.2 1193.3,823.8 1194.4,824.0 1194.6,824.5 1196.2,824.3 1196.7,824.7 1197.2,824.2 1198.0,824.2 1198.2,823.6 1199.0,824.5 1200.0,824.0 1202.4,825.1 1202.9,824.4 1203.7,824.6 1204.2,823.9 1204.9,825.4 1205.7,824.2 1206.2,824.8 1207.0,824.1 1207.5,824.1 1208.0,824.8 1208.8,823.7 1209.3,824.4 1210.1,824.2 1210.4,824.7 1211.1,823.6 1212.4,825.0 1213.2,823.8 1214.5,825.0 1215.3,824.0 1216.8,824.5 1217.6,823.9 1219.6,825.1 1220.4,824.6 1221.2,824.9 1221.4,824.4 1222.2,825.5 1223.5,824.1 1224.0,824.7 1225.6,824.2 1226.1,824.8 1226.8,824.4 1227.1,824.9 1227.9,823.6 1228.9,824.7 1230.5,824.8 1231.2,824.2 1231.5,825.0 1232.0,825.0 1232.3,824.3 1232.8,824.1 1233.6,824.8 1234.6,824.1 1235.4,824.6 1236.4,823.6 1237.4,824.9 1238.2,824.5 1239.0,825.0 1239.2,824.4 1240.0,824.0 1240.8,824.9 1241.5,824.4 1242.3,824.9 1243.1,823.8 1243.9,825.3 1245.1,824.7 1245.7,824.8 1246.2,824.2 1246.4,824.8 1247.0,824.9 1247.2,824.3 1247.7,824.8 1248.5,824.6" fill="none" stroke="#000" stroke-width="2.8" stroke-linejoin="round"/>
<path d="M217.5,1098.2L218.3,1097.2 218.5,1098.0 219.0,1098.3 220.3,1097.3 221.6,1098.7 223.7,1097.5 225.0,1098.7 226.0,1098.8 226.8,1098.3 227.8,1098.9 228.6,1098.8 228.8,1099.3 229.4,1099.4 229.9,1098.9 230.6,1099.4 231.7,1098.6 232.2,1099.3 233.5,1100.0 234.0,1099.8 234.3,1099.2 235.0,1099.8 235.5,1099.5 236.6,1099.9 237.3,1099.7 237.6,1100.2 239.2,1100.0 240.7,1100.9 241.2,1100.9 242.0,1100.0 243.8,1101.2 244.6,1100.0 245.3,1100.0 245.9,1100.2 246.6,1101.7 247.4,1100.8 247.9,1100.8 249.2,1101.9 250.0,1100.7 250.5,1101.4 251.8,1101.9 252.0,1101.5 252.8,1102.2 254.9,1101.5 256.9,1102.4 258.0,1101.4 258.5,1101.8 259.3,1101.6 259.5,1102.2 260.5,1102.0 261.3,1103.2 261.8,1102.6 263.4,1102.4 264.2,1103.1 264.9,1103.2 265.2,1102.8 266.0,1103.3 266.5,1102.9 267.0,1103.4 268.8,1102.5 269.3,1102.5 269.6,1103.0 270.3,1102.1 271.4,1103.7 272.7,1102.5 273.7,1103.0 274.7,1102.8 275.8,1102.0 276.5,1103.2 277.0,1102.6 278.8,1103.1 279.4,1102.6 279.9,1103.3 280.6,1103.0 281.2,1103.9 282.2,1102.5 282.7,1103.1 284.3,1103.0 285.0,1103.6 285.8,1102.6 287.1,1103.4 287.9,1102.6 288.4,1103.1 289.2,1102.5 289.7,1103.2 290.2,1103.3 290.4,1102.8 291.2,1103.5 292.2,1101.9 293.0,1102.9 293.8,1103.0 294.6,1102.0 295.3,1102.0 296.9,1097.4 297.4,1096.8 299.5,1102.7 300.0,1102.1 300.8,1102.8 301.5,1102.0 302.0,1102.9 302.6,1102.5 303.1,1103.6 303.8,1102.7 304.1,1103.3 305.1,1102.5 305.7,1103.2 306.2,1103.3 306.9,1102.6 307.7,1103.2 309.3,1102.2 309.8,1103.0 311.6,1103.2 312.9,1101.5 313.6,1102.0 314.2,1101.4 314.7,1101.5 315.2,1101.1 316.2,1099.3 317.0,1098.8 318.3,1085.5 319.8,1009.2 320.1,1009.3 321.4,1079.4 321.9,1090.0 322.9,1098.3 325.5,1101.9 326.8,1101.7 328.3,1102.8 329.6,1103.2 330.4,1102.4 331.4,1102.1 332.7,1103.4 333.5,1102.6 334.0,1103.7 335.5,1103.1 336.8,1103.8 337.4,1103.0 338.1,1103.7 338.4,1103.4 339.2,1103.6 341.5,1102.5 343.0,1104.0 343.5,1103.7 344.1,1102.3 344.8,1103.2 345.6,1103.3 346.1,1102.5 346.9,1103.3 347.7,1102.9 348.4,1103.7 349.2,1102.8 350.2,1102.9 350.8,1102.6 351.8,1103.9 352.3,1103.3 352.6,1103.6 353.1,1103.3 353.3,1102.6 355.1,1102.5 355.4,1103.2 356.2,1102.2 356.7,1103.1 358.5,1103.0 360.0,1103.6 360.8,1103.0 361.6,1103.3 362.6,1102.4 364.2,1103.1 364.7,1102.9 365.2,1101.8 365.7,1102.4 367.5,1102.0 368.5,1101.2 369.6,1101.1 370.1,1100.2 370.9,1100.3 372.4,1097.1 373.4,1093.0 374.2,1085.8 374.7,1075.0 375.5,1032.4 376.5,927.3 376.8,927.2 378.1,1051.8 379.1,1086.1 380.1,1094.5 381.4,1098.5 382.5,1100.0 384.5,1101.7 384.8,1101.8 385.6,1101.3 386.3,1102.3 387.6,1101.9 388.6,1102.4 389.7,1100.9 389.9,1101.2 393.0,1095.9 394.1,1097.1 394.8,1099.7 396.1,1100.9 396.9,1102.7 397.2,1102.4 398.7,1103.1 399.5,1102.3 400.5,1103.6 401.3,1102.5 401.5,1103.2 403.1,1102.7 403.9,1103.3 404.1,1102.9 405.1,1103.5 405.9,1103.1 406.2,1103.6 407.7,1102.8 408.0,1103.2 408.5,1103.5 408.8,1103.2 409.0,1103.5 409.3,1102.9 410.6,1102.8 411.1,1103.4 413.1,1103.4 414.4,1104.3 415.2,1103.2 416.0,1103.8 416.2,1103.4 417.0,1103.9 418.3,1102.7 418.5,1103.3 419.1,1103.4 419.3,1102.9 419.6,1103.4 420.3,1103.0 420.9,1103.7 421.4,1103.2 421.9,1103.4 422.7,1102.6 423.7,1103.6 424.7,1103.0 425.2,1103.9 425.8,1102.9 426.3,1103.4 427.1,1103.2 427.3,1103.7 428.9,1102.5 429.6,1103.7 430.4,1102.2 430.9,1103.1 431.4,1103.1 431.9,1102.2 432.7,1102.5 433.0,1102.0 433.8,1102.7 434.0,1102.2 434.8,1103.0 435.8,1103.3 436.6,1102.6 437.9,1102.7 438.6,1101.5 439.4,1102.4 441.0,1101.3 441.7,1101.3 442.5,1099.6 443.3,1099.2 444.3,1096.7 444.8,1093.3 445.9,1076.7 447.4,993.3 447.9,1004.8 449.0,1067.0 450.0,1090.1 450.8,1095.3 451.8,1096.1 452.3,1095.1 453.9,1077.1 455.4,1097.2 455.9,1099.4 457.5,1101.4 458.2,1103.1 459.0,1102.1 459.5,1101.9 460.3,1102.2 460.8,1101.9 461.3,1102.5 462.1,1102.6 462.4,1103.3 462.9,1103.6 463.9,1102.7 465.2,1103.4 465.7,1102.7 466.5,1103.4 468.0,1102.8 468.8,1103.5 469.6,1102.9 470.1,1103.3 471.1,1102.9 471.9,1103.4 472.9,1103.1 473.7,1103.9 474.5,1102.8 475.0,1102.9 475.2,1103.8 476.0,1103.1 477.8,1104.3 478.6,1103.2 479.4,1103.6 480.1,1102.5 480.4,1103.0 482.2,1103.4 482.7,1102.9 483.8,1102.9 484.0,1103.7 484.5,1103.9 484.8,1103.3 485.3,1103.5 485.8,1102.7 486.6,1102.5 487.4,1101.4 489.4,1092.1 491.7,1101.6 492.5,1102.1 492.8,1102.8 494.1,1103.1 494.8,1102.1 495.1,1102.8 496.9,1103.5 497.7,1103.0 498.2,1103.9 499.5,1102.7 499.7,1103.1 500.8,1103.3 501.3,1102.4 502.1,1103.3 502.3,1102.9 503.6,1103.7 504.6,1103.2 505.7,1104.0 505.9,1103.6 506.2,1103.8 506.4,1102.8 508.0,1103.5 508.8,1103.0 509.3,1103.6 511.6,1103.0 512.1,1103.7 512.9,1103.0 513.4,1103.8 514.9,1102.7 515.7,1103.8 517.0,1103.2 518.3,1103.6 519.1,1103.1 519.6,1103.7 519.8,1103.3 520.6,1103.8 521.1,1103.5 521.4,1103.9 522.2,1103.5 522.4,1103.8 523.7,1102.9 524.5,1103.8 525.5,1102.9 525.8,1103.3 526.0,1103.1 526.3,1103.8 527.1,1102.7 527.8,1102.6 528.9,1103.6 529.6,1103.2 529.9,1103.7 530.4,1103.2 531.4,1102.9 531.7,1103.3 532.5,1102.7 533.2,1103.3 533.5,1102.8 534.3,1103.1 534.5,1102.6 535.3,1102.3 535.8,1101.1 536.6,1101.5 537.4,1100.5 537.9,1098.1 539.9,1074.2 541.7,1096.2 542.3,1099.1 543.8,1102.5 545.1,1102.1 545.9,1103.1 548.2,1102.8 549.5,1103.2 550.5,1102.8 551.5,1103.5 553.3,1102.8 554.4,1103.5 554.9,1103.5 555.2,1103.1 556.2,1103.1 556.4,1102.7 557.7,1103.0 558.2,1103.6 558.8,1103.1 559.5,1103.9 560.8,1103.1 561.6,1103.4 562.1,1102.5 562.9,1103.0 563.7,1102.1 564.9,1102.1 566.2,1099.0 567.8,1092.4 568.8,1094.4 570.6,1101.0 571.1,1102.2 571.9,1102.7 572.7,1102.2 573.7,1103.4 575.0,1103.7 575.5,1103.7 576.3,1102.6 576.8,1103.1 577.6,1102.6 577.8,1103.2 578.1,1102.7 578.3,1103.0 579.4,1102.2 580.2,1103.2 582.2,1102.9 583.5,1102.0 584.3,1102.8 584.8,1102.2 585.6,1102.8 588.4,1100.4 591.0,1090.5 592.8,1093.9 593.8,1097.5 594.6,1097.3 594.8,1096.7 595.6,1092.4 597.2,1071.6 599.0,1094.9 599.5,1097.8 600.5,1099.9 601.3,1099.3 603.1,1094.6 604.4,1092.4 607.0,1100.8 608.8,1102.5 609.3,1102.2 610.1,1103.6 610.8,1102.5 611.1,1103.0 611.6,1102.9 611.9,1102.1 613.1,1103.2 613.7,1102.8 614.2,1103.1 614.7,1102.5 617.0,1102.6 617.3,1102.1 617.8,1102.0 619.1,1102.8 620.9,1099.4 622.2,1094.8 622.7,1094.2 622.9,1094.7 623.2,1094.3 624.0,1096.9 626.5,1102.3 627.1,1102.4 627.6,1103.2 628.4,1102.4 628.9,1102.8 629.4,1102.3 630.4,1103.0 631.2,1102.5 632.0,1103.5 632.5,1102.8 633.5,1103.2 634.3,1102.1 635.1,1103.8 635.6,1102.7 636.9,1102.8 637.6,1102.1 638.4,1102.4 639.7,1101.1 642.0,1095.7 642.8,1095.3 644.8,1100.2 646.7,1102.3 647.4,1102.1 648.5,1102.7 649.7,1102.2 650.8,1103.1 651.3,1102.2 652.1,1103.0 652.8,1101.8 653.6,1103.2 654.4,1102.5 655.4,1102.9 656.2,1102.5 657.7,1102.7 658.8,1102.4 659.3,1101.7 660.1,1102.0 662.9,1101.4 664.2,1099.0 665.7,1094.2 666.2,1089.3 668.6,1028.4 670.4,1080.2 671.4,1094.0 672.2,1097.6 674.0,1101.0 674.2,1100.7 675.0,1101.4 675.5,1101.1 676.6,1102.2 677.1,1101.6 677.8,1102.8 678.4,1102.9 678.9,1102.0 679.4,1102.4 679.6,1103.3 680.7,1102.3 682.7,1103.2 683.5,1102.4 683.8,1102.9 684.3,1103.1 684.5,1102.7 685.6,1103.5 685.8,1102.9 687.4,1103.7 687.9,1102.8 689.2,1103.7 689.7,1102.6 690.5,1103.2 690.7,1102.8 691.5,1103.0 691.8,1102.6 692.5,1103.1 693.0,1102.7 693.6,1103.2 694.9,1103.3 695.1,1103.0 696.7,1103.1 697.7,1102.4 698.5,1103.2 699.5,1102.3 699.8,1103.1 700.0,1102.8 700.8,1103.6 701.6,1103.5 702.1,1102.7 702.8,1103.7 703.1,1103.0 703.6,1102.8 704.4,1103.4 705.7,1103.1 706.2,1103.5 707.0,1101.9 708.0,1103.4 709.5,1102.3 711.3,1102.7 713.9,1099.1 714.7,1099.3 715.7,1100.9 716.2,1100.6 717.0,1102.2 717.8,1102.9 718.8,1102.4 720.1,1103.4 721.9,1102.4 722.9,1103.7 724.8,1102.1 725.5,1103.0 726.6,1103.0 727.3,1102.5 727.6,1102.8 728.6,1101.6 729.4,1102.0 730.7,1099.3 733.0,1083.5 735.1,1097.7 735.6,1099.4 736.4,1099.6 737.1,1098.1 737.6,1095.7 739.4,1074.7 741.0,1094.0 742.0,1099.6 742.5,1100.8 743.8,1102.2 744.3,1102.3 744.6,1101.7 746.4,1103.3 747.4,1102.7 747.9,1103.2 748.5,1102.6 749.0,1103.3 750.0,1103.1 751.3,1104.1 752.6,1102.4 753.4,1103.3 754.1,1102.4 755.4,1104.1 756.2,1103.1 756.7,1103.5 757.5,1102.7 758.8,1103.3 759.3,1102.8 760.1,1103.5 761.4,1102.7 762.1,1103.8 762.9,1103.1 763.2,1103.5 764.4,1103.2 765.2,1103.5 766.0,1102.7 766.5,1102.9 767.0,1102.6 767.3,1102.0 767.5,1102.5 770.4,1097.6 773.2,1102.1 774.2,1102.4 774.5,1102.8 774.8,1102.6 775.0,1103.1 776.0,1102.6 776.8,1103.2 777.6,1103.0 777.8,1103.4 778.6,1102.9 780.4,1104.2 780.7,1103.4 780.9,1103.6 781.2,1103.2 781.5,1103.6 782.0,1102.5 782.7,1103.7 783.5,1103.4 784.5,1103.6 786.1,1102.9 786.9,1103.8 787.9,1103.4 789.2,1104.1 790.0,1102.7 790.7,1103.8 791.5,1103.2 792.5,1103.8 793.1,1103.4 793.6,1103.5 794.3,1102.4 795.1,1103.2 795.9,1102.9 796.7,1103.9 796.9,1103.6 797.2,1103.8 798.0,1102.8 799.8,1103.4 800.8,1102.8 801.0,1103.1 801.8,1102.8 802.3,1103.6 804.1,1102.6 805.2,1104.0 805.9,1102.7 806.7,1103.5 807.2,1103.0 808.5,1103.5 809.3,1102.6 809.8,1103.3 810.6,1102.2 811.4,1103.2 811.9,1103.1 812.6,1101.7 813.4,1102.3 814.4,1100.8 816.3,1096.8 816.8,1096.6 817.8,1097.8 819.9,1102.7 820.4,1102.2 821.9,1102.8 822.4,1102.5 823.2,1103.5 823.5,1102.9 824.8,1103.7 825.5,1103.1 826.6,1103.6 827.1,1102.9 828.1,1102.9 828.4,1103.2 829.1,1102.8 829.7,1103.3 830.2,1102.8 830.4,1103.2 831.2,1103.0 831.7,1103.9 832.7,1102.8 833.5,1103.1 833.8,1102.7 834.8,1103.5 835.6,1102.3 836.1,1102.5 836.6,1102.2 837.4,1102.8 838.7,1101.7 840.5,1097.3 841.5,1093.5 842.0,1093.0 845.1,1101.5 846.2,1101.4 846.9,1103.2 847.4,1102.5 848.0,1102.5 848.2,1103.2 848.7,1103.4 849.0,1102.7 849.5,1103.0 849.8,1103.7 851.0,1103.2 851.6,1103.5 852.3,1102.5 852.9,1103.1 853.6,1102.6 853.9,1103.0 854.7,1102.0 855.4,1103.0 856.7,1101.5 858.5,1092.8 859.0,1091.7 860.1,1093.1 861.1,1098.1 862.1,1100.7 863.4,1101.8 864.2,1103.2 865.0,1102.9 866.0,1103.6 867.0,1102.6 867.3,1103.3 867.8,1103.5 868.3,1103.1 869.1,1103.3 869.3,1102.7 870.4,1103.6 871.4,1102.4 871.9,1103.2 872.4,1102.7 873.2,1103.4 873.7,1103.0 874.5,1103.4 875.5,1103.1 876.3,1103.7 877.6,1103.1 878.1,1103.6 878.6,1103.2 879.4,1103.9 879.9,1103.5 880.2,1102.5 880.4,1102.8 880.7,1102.5 880.9,1103.0 881.2,1102.6 882.2,1103.0 882.5,1102.6 883.3,1103.1 884.0,1102.9 885.1,1103.3 885.3,1103.0 885.6,1103.3 885.8,1102.7 886.1,1103.0 887.1,1101.9 890.0,1094.4 891.3,1095.8 893.3,1101.9 896.7,1103.3 897.7,1102.9 898.2,1103.2 899.0,1102.5 899.8,1103.2 901.8,1102.7 903.6,1103.6 904.4,1102.8 906.0,1104.0 906.7,1103.3 908.3,1104.0 908.5,1103.7 909.3,1103.9 910.3,1103.1 911.6,1103.2 912.1,1103.6 912.7,1102.9 914.2,1103.0 915.7,1102.2 918.3,1097.7 918.8,1098.2 919.6,1098.1 921.4,1102.4 921.7,1101.9 923.2,1102.9 925.0,1103.2 925.3,1103.9 925.8,1103.8 926.1,1103.1 926.8,1103.6 927.6,1103.4 929.1,1102.3 929.9,1103.7 931.5,1103.2 931.7,1103.4 933.5,1102.3 934.0,1102.9 934.8,1102.2 936.1,1103.4 936.9,1102.5 937.7,1103.0 938.7,1101.4 941.8,1093.5 942.6,1094.2 943.8,1099.2 944.9,1101.6 945.4,1102.4 946.7,1103.3 946.9,1103.1 947.7,1104.0 949.0,1103.3 949.8,1103.7 950.5,1102.7 951.8,1104.0 953.1,1102.9 953.9,1103.7 954.7,1103.0 954.9,1103.4 955.2,1103.1 956.0,1104.3 956.7,1103.1 957.5,1103.6 957.8,1103.4 958.0,1104.2 958.3,1103.7 958.5,1104.0 958.8,1103.1 959.0,1103.6 960.1,1102.7 961.6,1103.5 962.9,1103.4 963.4,1102.7 964.7,1103.7 965.5,1103.1 966.0,1103.4 966.5,1102.4 967.6,1103.1 968.3,1102.2 969.4,1102.4 970.1,1101.5 970.4,1101.8 971.2,1101.1 972.4,1101.2 973.7,1103.2 975.8,1102.8 976.3,1103.2 976.8,1102.4 977.6,1104.1 979.4,1103.2 980.7,1104.3 981.2,1104.2 982.0,1103.1 983.0,1103.8 983.8,1103.0 985.1,1104.2 985.9,1103.2 986.4,1103.7 988.2,1103.6 988.7,1104.1 990.0,1103.2 992.3,1103.7 994.4,1103.5 994.6,1103.0 995.6,1104.2 996.9,1103.4 998.2,1103.6 999.3,1103.0 999.5,1103.6 1000.5,1103.4 1001.3,1104.3 1002.1,1103.8 1002.3,1104.0 1002.6,1103.5 1003.4,1104.0 1004.4,1103.5 1007.2,1103.7 1007.8,1103.1 1008.5,1103.0 1008.8,1102.4 1010.3,1103.7 1011.4,1102.5 1012.7,1102.6 1013.2,1102.1 1013.9,1099.1 1015.0,1097.9 1016.0,1098.4 1016.8,1100.6 1017.8,1101.9 1020.6,1103.5 1021.2,1102.6 1021.9,1103.5 1022.2,1102.9 1023.0,1103.9 1023.2,1103.3 1024.0,1103.8 1024.8,1103.6 1025.0,1104.1 1025.8,1103.5 1026.3,1104.1 1027.1,1103.2 1027.9,1104.0 1029.2,1103.4 1029.9,1103.9 1030.4,1103.2 1031.2,1103.8 1032.2,1103.2 1032.5,1103.6 1032.8,1102.9 1033.0,1103.4 1033.3,1102.9 1035.1,1104.0 1035.9,1103.3 1036.6,1103.7 1038.9,1103.4 1039.2,1104.1 1040.0,1103.1 1040.8,1104.6 1041.0,1103.9 1042.3,1103.3 1044.1,1103.7 1044.4,1103.4 1045.1,1103.9 1045.9,1103.5 1047.7,1104.4 1048.0,1103.8 1049.3,1102.9 1050.0,1103.6 1051.3,1103.0 1051.6,1103.5 1052.1,1103.6 1052.6,1103.0 1053.1,1103.0 1053.4,1103.8 1054.2,1102.9 1054.7,1103.6 1056.7,1103.1 1057.5,1102.4 1058.3,1102.5 1061.6,1095.7 1062.4,1096.4 1064.7,1102.4 1065.8,1103.4 1066.5,1103.5 1066.8,1103.0 1068.1,1103.7 1068.8,1103.1 1070.4,1103.1 1071.2,1103.4 1071.4,1103.0 1072.5,1103.9 1073.2,1103.4 1073.5,1103.8 1073.7,1103.3 1074.3,1103.3 1074.8,1103.9 1076.3,1103.6 1077.4,1104.0 1078.1,1103.2 1078.6,1103.9 1079.4,1102.7 1080.7,1104.3 1081.2,1103.8 1082.0,1103.9 1082.5,1103.2 1083.0,1103.4 1083.5,1102.3 1084.8,1102.9 1085.6,1101.7 1086.1,1102.3 1086.9,1101.3 1087.4,1101.3 1088.2,1100.7 1089.7,1102.8 1090.8,1102.7 1091.5,1103.8 1092.0,1103.2 1092.8,1103.7 1093.6,1103.7 1094.1,1104.4 1094.6,1104.1 1094.9,1103.2 1096.4,1104.1 1097.2,1103.6 1098.0,1104.4 1099.0,1103.4 1099.3,1103.8 1100.8,1103.1 1101.6,1104.3 1102.1,1103.8 1103.6,1104.1 1108.0,1103.4 1109.1,1103.9 1110.3,1103.6 1110.6,1103.1 1111.4,1103.4 1112.2,1102.2 1112.9,1102.4 1113.7,1101.5 1114.5,1102.4 1115.2,1102.2 1115.5,1102.8 1116.3,1102.4 1117.3,1103.4 1118.1,1102.9 1118.6,1103.8 1120.1,1103.2 1121.2,1103.2 1121.7,1103.7 1122.2,1103.1 1123.0,1104.3 1123.7,1103.6 1124.0,1104.2 1124.8,1103.8 1125.3,1104.1 1125.8,1103.6 1126.6,1104.0 1127.6,1103.3 1128.1,1103.9 1128.9,1103.4 1131.0,1104.6 1131.7,1103.5 1132.8,1104.0 1133.5,1103.6 1134.1,1104.2 1134.8,1103.3 1135.6,1104.1 1136.4,1104.2 1137.7,1104.2 1138.2,1103.6 1139.5,1103.7 1140.8,1104.4 1141.5,1103.6 1142.0,1104.3 1142.8,1103.6 1143.6,1104.2 1145.9,1103.5 1147.5,1104.6 1149.0,1103.6 1149.3,1104.0 1150.0,1103.6 1150.3,1103.9 1151.8,1103.7 1152.6,1104.2 1153.4,1103.6 1154.2,1103.6 1154.4,1103.1 1155.5,1103.6 1156.2,1102.3 1157.0,1102.7 1157.3,1102.4 1158.0,1103.1 1159.1,1102.2 1160.1,1103.5 1161.4,1102.4 1162.7,1103.9 1163.7,1103.9 1164.0,1103.3 1164.5,1103.3 1165.5,1104.7 1166.0,1104.8 1167.3,1103.9 1168.1,1104.5 1168.3,1104.2 1168.6,1104.6 1169.1,1103.7 1169.9,1104.2 1170.4,1103.4 1171.4,1104.7 1172.7,1104.0 1174.3,1105.0 1174.8,1103.9 1176.1,1103.8 1176.8,1104.3 1177.4,1103.8 1178.1,1104.5 1179.2,1104.0 1179.9,1104.0 1180.7,1103.4 1181.2,1103.6 1181.7,1104.7 1182.5,1103.7 1185.1,1104.4 1185.4,1104.1 1185.6,1104.5 1186.1,1104.5 1186.4,1103.8 1186.6,1104.2 1187.4,1103.6 1188.7,1104.5 1189.5,1103.5 1190.8,1104.5 1191.5,1103.8 1192.1,1104.4 1192.6,1103.5 1193.1,1103.8 1193.3,1104.8 1194.4,1103.3 1195.4,1104.8 1196.2,1104.3 1197.2,1104.9 1197.7,1104.2 1199.5,1103.7 1200.6,1104.0 1201.1,1104.7 1203.1,1103.5 1203.9,1104.6 1204.4,1104.7 1205.2,1103.8 1206.0,1104.8 1206.5,1103.9 1207.0,1104.5 1207.5,1103.9 1209.1,1104.6 1210.1,1104.1 1210.9,1104.6 1212.2,1104.1 1212.9,1105.0 1213.7,1103.9 1214.5,1104.5 1215.0,1104.1 1215.8,1104.5 1217.3,1103.5 1218.1,1104.3 1218.6,1103.9 1219.4,1104.4 1220.7,1103.8 1221.4,1105.0 1221.7,1104.7 1222.2,1104.9 1223.0,1104.0 1223.8,1104.3 1224.5,1103.6 1225.0,1104.3 1226.3,1103.1 1227.6,1104.5 1228.1,1104.5 1228.9,1105.2 1229.7,1103.9 1230.2,1104.2 1230.7,1103.9 1231.2,1104.7 1232.3,1104.3 1233.6,1104.7 1234.1,1103.9 1234.6,1103.9 1234.8,1104.5 1235.4,1103.9 1236.1,1104.4 1236.9,1104.0 1237.7,1104.4 1239.0,1103.7 1240.3,1105.0 1242.3,1103.8 1243.3,1104.7 1243.6,1104.0 1243.9,1104.2 1244.1,1103.9 1244.6,1104.3 1245.4,1104.0 1245.7,1104.4 1246.4,1103.5 1246.7,1103.9 1247.2,1103.4 1248.5,1104.5" fill="none" stroke="#000" stroke-width="2.8" stroke-linejoin="round"/>
<path d="M217.5,1368.3L218.5,1367.5 219.0,1368.4 219.8,1368.0 220.3,1368.6 220.6,1368.2 221.6,1368.3 222.4,1367.3 223.7,1369.1 224.2,1368.2 224.7,1369.1 225.5,1368.6 226.5,1369.8 228.3,1369.8 229.1,1370.5 229.4,1370.2 230.1,1371.1 230.9,1370.5 232.2,1371.6 233.0,1370.8 233.2,1371.1 234.0,1370.7 234.5,1371.9 235.0,1371.2 236.1,1370.9 236.6,1372.3 237.3,1371.6 237.6,1372.2 238.1,1372.3 239.7,1371.9 240.4,1373.0 241.0,1372.7 241.7,1373.2 243.0,1371.8 243.8,1373.6 244.3,1373.4 244.6,1372.9 245.9,1373.8 247.4,1373.3 248.2,1374.3 249.2,1373.1 250.0,1374.0 250.2,1373.4 250.5,1374.3 250.7,1373.9 251.0,1374.7 251.8,1374.5 252.3,1375.5 253.1,1374.4 253.8,1375.1 254.6,1374.3 255.4,1375.9 256.4,1374.9 257.2,1375.2 257.7,1374.7 258.2,1375.5 258.7,1375.1 259.0,1375.7 260.0,1374.8 260.8,1375.9 261.1,1375.4 261.8,1375.6 262.3,1374.9 263.1,1376.0 263.9,1375.4 264.7,1375.6 264.9,1375.3 265.4,1375.7 266.2,1373.6 267.5,1371.7 268.8,1373.0 270.1,1376.7 270.6,1375.4 271.6,1376.1 272.4,1375.2 272.9,1376.4 273.7,1375.7 274.5,1375.7 275.2,1376.8 276.3,1375.9 277.3,1376.7 277.6,1377.6 278.3,1376.6 278.6,1377.0 279.1,1376.3 279.9,1377.1 280.1,1376.8 280.6,1377.2 281.7,1375.2 282.5,1377.3 283.0,1376.5 283.7,1377.6 284.3,1377.2 285.0,1377.7 285.8,1376.9 286.1,1377.6 286.3,1377.1 287.1,1376.9 287.9,1378.2 289.2,1376.8 289.4,1377.6 290.2,1377.1 290.4,1377.8 291.2,1378.2 291.7,1377.8 292.0,1376.9 292.8,1378.8 294.1,1377.7 295.1,1378.5 295.6,1377.5 296.4,1378.6 296.9,1377.6 297.7,1378.2 299.2,1377.3 299.5,1378.1 299.7,1377.9 300.5,1378.7 301.0,1378.0 301.5,1377.9 302.3,1378.9 302.8,1377.7 303.6,1377.6 304.9,1379.1 305.4,1379.0 306.2,1377.6 306.9,1379.0 307.7,1377.5 308.5,1378.3 309.8,1378.2 310.5,1379.1 311.6,1377.2 312.1,1377.5 312.6,1378.6 313.4,1377.4 314.2,1379.1 314.7,1377.6 315.7,1377.7 316.0,1377.4 316.7,1379.0 318.5,1376.1 319.3,1375.8 320.3,1372.3 321.9,1375.0 322.4,1376.8 323.2,1377.6 323.4,1378.7 324.2,1377.5 325.0,1379.3 325.8,1377.5 326.8,1378.4 327.8,1377.6 328.3,1377.9 329.4,1377.5 329.9,1378.1 330.7,1377.6 331.4,1378.1 331.7,1378.8 332.5,1378.1 333.2,1378.2 333.5,1378.6 334.3,1377.9 334.8,1378.6 335.3,1378.3 335.5,1377.5 335.8,1377.9 336.6,1377.4 337.1,1378.1 337.6,1377.3 339.4,1378.3 340.2,1377.0 341.0,1378.8 341.2,1378.2 341.7,1378.3 342.0,1378.9 343.0,1377.0 343.8,1378.4 344.3,1377.4 344.6,1378.1 344.8,1377.6 345.1,1377.9 345.3,1377.1 345.6,1378.3 346.6,1377.3 347.4,1378.6 348.2,1377.1 348.7,1377.9 349.7,1377.6 350.2,1378.9 351.3,1377.5 352.0,1377.3 352.8,1377.9 353.6,1377.0 354.6,1376.9 356.7,1370.1 358.5,1376.1 359.5,1376.7 360.6,1375.1 361.8,1371.0 363.9,1377.0 364.2,1376.4 364.7,1376.3 365.4,1375.5 365.7,1375.8 366.0,1375.5 367.3,1377.5 368.3,1375.5 369.3,1376.4 370.1,1375.8 370.6,1376.4 371.9,1374.6 372.7,1375.2 372.9,1374.5 374.2,1373.3 374.7,1374.4 376.3,1372.5 377.0,1373.7 378.3,1371.5 378.6,1371.3 378.9,1371.8 379.1,1371.5 379.6,1370.0 380.4,1369.7 381.2,1367.2 381.7,1367.0 383.7,1360.7 386.1,1344.6 388.6,1309.2 391.2,1254.4 392.3,1245.9 393.0,1249.3 393.8,1259.2 397.4,1330.0 399.7,1354.2 401.5,1362.3 402.6,1365.0 403.3,1366.0 404.4,1369.8 404.6,1370.1 405.4,1369.0 405.9,1370.3 406.4,1370.8 406.7,1370.5 407.5,1372.1 408.2,1372.2 408.5,1371.9 409.5,1374.6 410.0,1373.5 410.8,1373.0 411.3,1371.2 412.9,1359.1 413.4,1360.6 414.4,1370.9 415.2,1374.7 415.7,1375.2 416.0,1374.8 416.2,1375.7 417.0,1374.9 417.8,1376.9 418.5,1376.0 419.1,1376.4 420.1,1375.5 421.1,1377.6 422.2,1376.1 423.7,1376.8 424.0,1377.5 425.5,1378.0 426.5,1376.9 426.8,1377.4 427.1,1377.1 427.3,1377.7 427.8,1377.7 428.3,1376.6 428.9,1377.3 430.4,1377.7 430.7,1378.7 431.4,1377.0 431.7,1377.5 432.2,1377.4 434.0,1376.1 434.5,1376.6 435.6,1373.7 436.6,1367.9 437.1,1369.4 437.9,1375.7 439.4,1378.5 440.2,1377.8 440.7,1378.2 441.2,1377.3 442.0,1378.5 442.5,1378.9 442.8,1378.2 443.5,1379.3 444.1,1378.6 444.3,1378.9 445.1,1378.1 445.4,1378.6 447.2,1378.0 448.7,1378.3 449.0,1377.8 449.7,1380.0 450.5,1378.6 451.0,1379.0 451.8,1378.3 452.1,1379.2 452.8,1378.4 453.6,1378.8 454.1,1377.8 454.9,1379.0 456.2,1378.1 456.9,1378.8 457.2,1378.2 458.0,1378.5 458.5,1378.0 459.0,1379.0 461.1,1378.2 462.1,1378.2 463.7,1379.7 464.4,1378.3 464.9,1379.4 465.7,1377.7 466.2,1379.0 467.5,1378.3 468.3,1376.0 468.5,1376.4 470.1,1371.6 471.4,1376.2 472.4,1378.0 473.7,1377.9 474.5,1378.7 474.7,1378.1 476.0,1379.0 476.3,1379.7 477.1,1378.4 477.8,1378.6 478.9,1377.1 479.1,1377.7 480.1,1377.9 481.2,1376.1 482.2,1376.7 483.0,1374.7 483.5,1374.3 484.0,1374.5 484.5,1373.6 485.8,1376.3 486.1,1375.9 486.8,1377.1 487.6,1377.0 488.4,1379.2 489.2,1377.6 489.4,1378.3 490.2,1378.2 490.7,1378.9 491.7,1377.1 493.0,1379.6 493.6,1378.8 494.1,1378.9 494.8,1377.7 495.1,1378.4 495.9,1377.3 496.4,1378.3 497.2,1378.7 497.9,1377.3 498.4,1377.9 499.5,1377.2 500.3,1376.1 502.1,1367.7 503.3,1373.8 505.1,1378.5 506.7,1378.2 507.0,1378.7 507.5,1378.7 508.0,1378.0 508.8,1378.8 509.8,1377.1 510.6,1379.2 511.1,1378.2 511.9,1379.3 512.1,1379.1 512.6,1380.2 514.2,1378.2 514.9,1378.5 515.2,1379.5 516.0,1378.4 516.7,1379.1 517.5,1377.7 518.0,1378.7 518.8,1378.4 519.1,1378.8 519.6,1378.7 520.1,1377.8 520.4,1378.4 520.9,1378.5 521.1,1378.1 521.4,1378.6 521.9,1378.4 522.4,1378.7 523.2,1377.9 524.2,1379.3 525.0,1379.2 525.5,1379.9 526.5,1378.5 527.1,1378.2 527.3,1378.5 527.8,1377.8 528.6,1379.2 529.4,1378.3 530.7,1379.2 531.4,1377.3 532.2,1378.3 532.7,1377.8 533.2,1378.0 536.1,1368.8 537.9,1376.8 538.9,1378.5 539.7,1377.0 540.7,1378.4 541.0,1378.0 541.7,1378.1 542.0,1377.4 542.8,1377.5 544.6,1374.2 544.8,1374.7 545.6,1372.3 546.1,1371.9 546.9,1373.3 547.4,1373.5 549.0,1377.7 549.2,1377.9 550.0,1376.5 551.3,1379.1 552.3,1377.9 553.1,1377.5 553.3,1377.8 554.1,1376.0 554.4,1376.2 555.2,1375.6 555.9,1373.6 556.2,1374.1 557.0,1373.0 557.7,1375.7 558.0,1376.2 558.2,1375.7 559.0,1378.0 559.5,1376.9 560.6,1379.3 561.6,1377.6 561.9,1377.7 562.1,1377.3 562.4,1377.8 562.9,1377.5 564.4,1373.7 565.5,1372.3 566.2,1375.1 567.0,1375.2 567.8,1377.1 568.3,1377.4 568.6,1376.7 569.1,1377.7 569.8,1377.6 570.4,1378.4 570.9,1378.4 571.6,1377.6 571.9,1377.9 572.4,1376.9 572.9,1378.0 573.7,1376.2 574.0,1376.8 574.2,1376.0 574.5,1376.2 575.8,1373.0 576.5,1376.0 576.8,1375.3 577.6,1377.5 578.9,1376.5 580.7,1379.4 581.2,1378.7 582.2,1378.4 582.5,1377.8 583.0,1378.8 583.5,1379.0 584.3,1377.7 585.1,1380.0 585.8,1378.6 586.1,1379.1 586.9,1379.1 588.1,1377.7 589.2,1378.6 589.9,1377.8 590.7,1379.7 591.5,1378.6 591.8,1379.2 592.3,1378.1 593.0,1379.7 593.6,1378.4 593.8,1378.7 594.3,1378.1 595.6,1379.8 596.7,1377.8 597.4,1378.9 598.5,1378.0 599.2,1378.9 600.0,1378.2 601.0,1379.9 602.3,1377.7 603.1,1378.5 603.6,1378.5 603.9,1377.9 604.6,1379.6 604.9,1379.3 605.2,1379.6 605.4,1379.0 605.9,1379.3 606.7,1378.8 607.0,1379.3 608.8,1377.5 609.5,1378.3 609.8,1377.9 610.6,1379.3 611.1,1378.1 611.6,1378.3 611.9,1377.8 612.4,1378.6 612.9,1378.5 613.1,1377.7 613.7,1378.3 613.9,1377.8 614.7,1378.2 615.5,1377.4 615.7,1378.0 616.0,1377.6 616.2,1378.0 616.5,1377.1 616.8,1377.6 617.8,1376.2 618.3,1377.2 619.1,1376.9 619.6,1377.9 620.4,1376.6 620.9,1377.4 621.9,1376.3 622.4,1376.7 622.9,1375.7 623.7,1376.3 624.7,1374.6 625.5,1375.4 626.5,1375.5 628.6,1372.6 629.1,1372.0 629.4,1372.2 629.9,1371.2 630.4,1371.3 631.2,1369.8 632.0,1369.2 633.5,1366.0 635.8,1355.3 637.1,1344.2 639.2,1305.6 641.8,1224.8 642.3,1214.6 642.8,1211.2 643.8,1225.0 647.2,1322.7 648.7,1346.6 649.7,1356.0 651.8,1364.8 653.9,1368.6 654.6,1371.1 655.4,1371.0 657.7,1374.6 659.0,1375.5 659.5,1375.5 660.1,1374.9 661.3,1376.2 661.9,1375.4 662.6,1376.3 662.9,1375.5 663.1,1376.0 663.4,1375.8 663.7,1376.9 663.9,1376.2 664.2,1376.7 664.4,1376.4 664.7,1377.3 665.2,1376.8 666.0,1377.4 666.5,1376.7 667.3,1378.1 667.8,1377.1 668.3,1378.5 669.6,1376.9 670.4,1378.6 671.1,1378.0 671.7,1378.9 672.2,1378.0 672.7,1378.5 673.2,1378.1 673.7,1378.2 674.2,1377.6 675.0,1378.8 675.3,1378.9 675.8,1378.3 676.6,1379.2 677.8,1377.8 678.6,1378.6 679.4,1377.5 679.9,1378.3 680.2,1378.0 680.4,1378.3 680.7,1377.9 681.4,1378.6 682.2,1378.6 682.5,1379.2 682.7,1378.7 683.0,1379.4 683.5,1379.4 683.8,1378.8 684.0,1379.3 684.3,1378.7 685.6,1379.7 686.6,1378.6 687.4,1379.5 687.9,1378.7 688.7,1378.9 688.9,1378.3 689.4,1378.2 690.0,1378.9 690.2,1378.7 691.0,1379.0 691.5,1378.1 693.0,1380.2 693.8,1379.0 694.3,1379.9 694.6,1379.6 695.4,1380.0 696.9,1379.4 697.7,1380.0 697.9,1379.5 698.7,1379.7 699.2,1378.6 700.3,1380.2 700.5,1379.3 701.0,1379.3 701.3,1380.1 703.1,1378.5 703.9,1379.5 704.1,1378.9 704.9,1380.2 705.9,1379.4 706.5,1379.2 707.2,1379.7 708.8,1378.9 709.5,1379.0 710.3,1380.5 710.6,1379.9 711.3,1380.1 711.6,1379.6 712.6,1380.5 713.4,1379.1 713.7,1379.9 714.4,1379.6 714.7,1380.1 715.5,1378.6 716.2,1379.3 717.0,1378.9 717.5,1379.8 718.3,1378.7 718.6,1379.4 719.3,1378.8 720.1,1379.6 720.9,1379.0 722.2,1380.1 722.7,1379.3 723.5,1380.1 724.0,1378.7 725.0,1378.6 726.6,1379.9 727.3,1379.2 727.8,1380.0 728.6,1379.4 729.4,1380.6 730.2,1378.9 731.2,1380.4 731.7,1378.7 732.7,1378.8 733.3,1379.4 734.3,1379.4 734.8,1378.7 736.4,1379.7 736.6,1379.1 737.4,1380.3 737.9,1378.7 738.9,1380.5 739.7,1379.3 740.0,1379.6 740.2,1379.2 741.0,1379.8 741.5,1378.9 742.0,1378.7 743.3,1380.0 744.3,1379.0 745.1,1379.3 745.9,1380.5 746.4,1380.0 747.2,1380.5 747.9,1378.7 748.7,1380.0 750.0,1378.8 750.5,1378.6 751.3,1379.3 751.8,1378.5 752.6,1380.1 752.8,1379.7 753.1,1380.0 753.4,1379.2 754.1,1380.0 754.7,1379.4 755.2,1380.4 755.9,1379.0 756.2,1379.8 757.0,1378.5 757.5,1379.9 758.3,1379.4 758.5,1380.0 759.0,1380.1 760.8,1379.0 761.6,1379.9 762.1,1379.0 763.2,1379.9 763.9,1378.7 765.2,1379.7 766.0,1377.9 766.8,1380.1 767.3,1379.0 768.1,1379.8 768.3,1379.4 768.6,1379.7 768.8,1379.0 769.6,1379.7 770.4,1378.4 770.9,1379.2 771.7,1378.9 771.9,1379.5 773.0,1379.8 773.2,1379.5 773.5,1379.9 773.7,1379.0 774.0,1379.2 774.2,1378.6 774.5,1379.1 775.3,1377.8 775.8,1378.6 776.0,1378.2 776.8,1379.1 777.6,1377.8 778.4,1378.3 779.1,1377.7 779.9,1379.2 780.9,1376.9 781.7,1378.2 782.0,1377.8 782.5,1378.3 783.0,1378.1 783.3,1377.4 783.5,1377.8 784.0,1377.5 784.5,1376.6 785.1,1378.1 785.6,1378.3 786.6,1376.8 787.1,1377.5 787.9,1376.6 789.2,1377.0 789.7,1376.1 790.5,1377.5 791.5,1374.9 792.5,1375.1 792.8,1374.1 793.6,1374.1 793.8,1373.8 794.1,1374.1 794.9,1372.3 795.6,1373.4 796.1,1371.3 797.4,1370.2 798.7,1366.6 800.5,1358.4 801.0,1357.8 801.6,1355.5 805.9,1324.0 807.5,1316.9 808.3,1317.0 809.3,1320.3 814.2,1353.5 816.5,1364.3 818.1,1368.7 818.6,1369.0 820.1,1373.0 820.4,1372.8 821.2,1374.3 821.9,1373.2 822.7,1374.8 823.2,1374.2 823.7,1374.4 824.8,1377.4 825.5,1374.8 825.8,1374.9 826.8,1377.4 827.6,1377.7 828.4,1376.4 829.1,1378.5 829.9,1377.2 831.2,1378.2 832.2,1377.8 833.0,1378.4 833.5,1377.8 834.0,1377.9 834.3,1378.5 835.3,1377.6 836.6,1378.9 837.4,1378.5 838.2,1379.0 838.9,1378.5 839.5,1379.0 840.0,1378.8 840.5,1379.8 841.8,1378.2 842.0,1379.4 842.8,1378.8 843.6,1379.1 843.8,1378.6 844.9,1380.3 845.4,1380.0 845.9,1380.5 846.9,1379.5 847.4,1379.6 848.5,1378.0 850.5,1380.6 851.3,1379.6 851.8,1380.1 852.6,1379.0 853.6,1378.8 854.4,1379.9 855.2,1378.7 855.9,1379.8 857.2,1379.8 858.0,1380.2 858.5,1380.0 859.0,1380.5 859.8,1380.2 860.1,1380.4 860.6,1379.5 861.4,1379.9 861.9,1379.1 862.4,1380.3 863.2,1379.4 863.4,1380.4 864.2,1378.9 864.7,1379.6 865.0,1379.0 866.0,1380.1 866.3,1379.5 866.5,1380.7 868.1,1380.1 868.6,1379.4 869.3,1380.2 870.4,1378.8 871.2,1380.1 871.7,1380.2 872.7,1379.3 873.5,1380.3 874.2,1379.3 874.5,1379.9 876.1,1380.3 877.6,1379.4 878.1,1380.7 879.4,1380.2 879.9,1380.9 880.9,1379.7 881.2,1380.0 881.5,1378.7 882.2,1380.6 882.8,1380.8 883.5,1379.8 884.3,1380.1 885.1,1379.4 885.8,1379.4 886.4,1378.7 886.6,1379.4 887.1,1379.8 887.4,1379.4 887.6,1380.0 888.4,1379.1 888.7,1379.7 889.5,1379.2 890.0,1380.2 890.5,1379.4 891.0,1379.7 891.8,1378.9 893.1,1379.1 893.3,1378.6 893.8,1378.7 894.4,1379.4 895.1,1378.0 895.6,1379.4 896.9,1377.8 897.7,1379.0 898.0,1378.3 898.2,1378.7 898.7,1378.5 899.5,1376.7 900.0,1377.7 900.8,1375.8 901.6,1375.8 902.6,1373.7 903.6,1370.3 904.7,1364.6 906.7,1342.2 908.0,1322.9 908.8,1318.7 909.8,1325.4 912.4,1360.7 914.2,1370.8 916.8,1377.0 917.0,1376.4 917.3,1376.9 917.5,1376.2 918.1,1376.4 918.8,1377.7 919.1,1377.4 919.9,1378.4 920.1,1377.9 920.9,1378.9 921.7,1377.4 922.2,1378.4 922.7,1378.3 923.2,1379.2 924.3,1379.7 925.0,1378.3 926.3,1379.8 927.3,1378.4 928.1,1379.0 928.9,1378.9 929.7,1379.7 930.4,1379.4 931.7,1381.0 932.0,1380.4 932.8,1380.4 933.0,1379.7 934.0,1380.2 934.8,1379.6 935.3,1380.6 935.6,1380.1 936.1,1380.0 936.4,1380.9 937.7,1379.1 938.2,1379.8 938.7,1379.7 939.2,1380.7 939.7,1379.8 940.7,1379.5 941.0,1380.2 941.3,1380.1 941.8,1378.1 942.8,1379.6 944.1,1378.8 944.4,1379.8 944.9,1379.9 945.6,1377.9 946.2,1377.6 946.7,1378.1 947.4,1376.4 948.2,1376.5 948.7,1375.7 949.8,1371.2 950.5,1369.9 951.6,1364.2 952.9,1360.7 953.4,1360.7 953.9,1362.1 956.7,1373.1 958.8,1378.5 959.0,1378.0 960.9,1379.2 961.9,1378.9 962.4,1379.3 963.2,1378.9 963.7,1380.3 963.9,1379.4 964.2,1380.3 964.5,1380.0 964.7,1381.1 965.5,1379.8 965.7,1380.1 966.0,1379.7 966.8,1380.0 967.6,1379.7 968.1,1380.3 968.8,1379.6 969.9,1380.4 970.1,1380.2 970.4,1380.7 970.6,1380.4 970.9,1380.9 971.7,1379.7 972.7,1381.7 973.5,1380.6 974.3,1381.2 974.8,1380.3 975.8,1380.9 976.8,1379.7 977.6,1380.3 977.9,1379.8 978.6,1380.8 979.4,1379.6 980.4,1381.3 981.0,1381.6 981.5,1380.8 982.0,1381.2 982.8,1380.7 983.0,1381.4 983.8,1380.0 984.6,1380.8 985.9,1378.9 986.6,1380.6 987.1,1380.8 987.9,1379.7 988.9,1380.4 989.5,1380.0 990.0,1380.8 990.5,1379.9 991.0,1381.1 992.3,1379.9 993.1,1381.0 994.1,1381.2 994.6,1380.0 995.1,1380.0 996.4,1380.8 996.7,1380.2 997.5,1381.6 998.0,1380.9 998.2,1381.4 999.0,1380.3 999.8,1381.1 1001.1,1380.2 1001.6,1380.2 1001.8,1380.7 1002.9,1380.3 1003.1,1380.9 1003.4,1380.5 1003.6,1380.8 1004.4,1380.5 1004.7,1381.0 1005.4,1380.1 1005.7,1380.4 1006.0,1380.0 1006.7,1381.7 1007.5,1380.9 1008.3,1381.2 1008.8,1380.7 1009.3,1381.2 1009.8,1380.2 1010.6,1380.2 1010.9,1379.8 1012.1,1381.3 1012.4,1380.9 1012.7,1381.9 1013.2,1381.7 1013.9,1379.2 1014.5,1380.8 1014.7,1380.4 1015.0,1380.9 1015.2,1380.2 1015.5,1380.8 1015.8,1379.5 1016.3,1379.2 1016.5,1380.1 1017.3,1379.8 1018.3,1380.5 1019.1,1378.7 1019.9,1379.9 1021.2,1378.5 1021.4,1379.0 1021.9,1378.9 1022.5,1377.3 1023.2,1377.9 1024.0,1376.4 1024.5,1376.4 1024.8,1377.2 1026.3,1373.1 1027.9,1372.0 1030.2,1366.6 1031.0,1367.4 1031.7,1366.8 1032.0,1367.0 1032.8,1366.1 1034.1,1368.5 1035.1,1369.1 1036.4,1372.6 1036.9,1372.3 1037.4,1372.8 1038.7,1376.4 1040.2,1377.3 1040.8,1378.5 1041.5,1377.4 1042.8,1380.3 1043.6,1379.5 1043.8,1379.9 1044.4,1379.7 1045.1,1380.5 1046.7,1380.8 1047.7,1379.5 1048.2,1380.0 1049.0,1379.9 1049.3,1380.6 1050.3,1380.2 1050.5,1379.5 1051.6,1381.2 1052.4,1379.7 1052.6,1380.0 1052.9,1379.7 1053.9,1380.9 1054.7,1379.7 1055.2,1381.1 1055.7,1381.2 1056.0,1380.8 1056.2,1381.4 1057.5,1380.5 1057.8,1379.8 1059.1,1381.1 1059.8,1380.8 1060.3,1381.7 1060.9,1380.2 1061.6,1381.5 1062.4,1380.4 1062.7,1381.2 1062.9,1381.0 1063.2,1381.5 1064.0,1379.9 1064.5,1380.0 1065.2,1381.7 1066.0,1380.3 1066.8,1381.5 1067.8,1379.6 1068.3,1380.6 1068.8,1380.4 1069.4,1380.8 1069.9,1380.0 1070.7,1380.5 1070.9,1381.2 1071.7,1380.0 1071.9,1380.5 1073.2,1380.5 1073.5,1380.1 1074.8,1380.3 1075.8,1378.5 1076.1,1378.7 1077.1,1378.0 1078.1,1376.9 1080.7,1369.3 1081.0,1369.8 1081.7,1368.2 1082.8,1369.4 1083.8,1373.2 1085.6,1376.6 1086.4,1379.2 1086.9,1378.8 1087.7,1380.0 1088.4,1379.6 1090.2,1381.1 1090.5,1380.6 1090.8,1380.8 1091.0,1380.5 1091.8,1381.1 1092.6,1379.9 1092.8,1380.9 1093.6,1379.5 1093.8,1380.6 1094.4,1381.1 1095.1,1380.2 1095.9,1381.5 1096.7,1380.9 1097.5,1381.9 1098.2,1380.8 1098.5,1381.2 1099.3,1380.5 1099.8,1381.6 1100.0,1380.9 1100.3,1381.2 1100.6,1380.8 1100.8,1381.2 1101.3,1380.8 1101.6,1381.7 1101.8,1381.6 1102.4,1380.8 1102.9,1381.9 1103.1,1381.0 1103.6,1381.0 1103.9,1382.0 1104.7,1381.0 1105.2,1382.0 1105.7,1380.8 1106.2,1381.5 1106.7,1380.8 1107.3,1381.3 1109.1,1381.0 1109.6,1381.8 1110.3,1381.6 1111.4,1382.5 1111.9,1381.6 1112.7,1381.8 1113.2,1380.4 1114.0,1382.0 1114.7,1381.2 1115.0,1381.7 1115.5,1381.4 1116.5,1380.0 1117.3,1381.8 1118.3,1381.2 1118.9,1381.6 1119.6,1381.1 1120.4,1382.1 1120.9,1381.7 1121.2,1380.5 1122.2,1380.8 1122.7,1381.5 1123.2,1380.8 1123.5,1381.3 1123.7,1380.9 1124.8,1382.2 1125.6,1381.1 1126.3,1381.4 1126.8,1382.3 1127.6,1380.2 1128.4,1382.2 1129.2,1380.9 1130.5,1381.8 1131.2,1380.5 1131.7,1381.4 1132.3,1381.1 1133.0,1381.7 1133.5,1381.1 1134.6,1380.7 1135.3,1382.4 1136.4,1380.8 1137.2,1382.3 1138.2,1381.5 1139.0,1382.0 1140.0,1380.9 1140.2,1381.5 1140.5,1380.9 1141.3,1382.1 1141.8,1381.1 1142.6,1382.1 1143.1,1381.6 1143.6,1382.4 1144.1,1381.2 1144.9,1382.0 1145.9,1381.2 1146.2,1381.5 1146.9,1380.7 1147.2,1381.1 1147.5,1380.9 1148.2,1381.3 1148.8,1380.8 1149.0,1381.4 1149.8,1380.2 1150.6,1381.5 1150.8,1381.7 1151.1,1381.1 1151.8,1382.7 1152.4,1381.2 1153.1,1381.7 1153.6,1381.2 1154.4,1381.9 1155.2,1381.3 1156.0,1382.5 1156.5,1382.2 1156.7,1381.1 1157.3,1380.9 1157.5,1381.8 1158.3,1380.9 1158.8,1382.0 1159.8,1381.5 1160.1,1382.3 1160.9,1381.6 1161.1,1382.1 1161.6,1382.1 1161.9,1381.5 1162.2,1382.4 1162.9,1381.1 1163.7,1383.0 1165.5,1380.5 1166.0,1380.8 1166.5,1382.5 1167.8,1380.4 1168.6,1381.8 1168.9,1381.3 1169.6,1382.1 1170.1,1381.2 1170.7,1381.6 1171.7,1381.2 1171.9,1381.9 1172.2,1381.6 1173.0,1382.5 1174.0,1381.2 1174.8,1383.1 1176.3,1381.1 1176.6,1381.4 1176.8,1381.1 1177.1,1381.6 1177.4,1380.8 1177.6,1381.5 1177.9,1381.0 1178.1,1381.7 1178.4,1380.9 1179.4,1381.5 1179.9,1380.6 1181.0,1381.3 1182.0,1380.8 1182.3,1381.8 1182.5,1381.3 1182.8,1381.7 1183.8,1380.3 1184.3,1381.3 1184.8,1381.5 1185.4,1379.9 1185.9,1380.1 1186.1,1380.9 1186.6,1380.8 1187.4,1382.0 1188.2,1380.2 1188.7,1380.1 1189.5,1380.9 1189.7,1380.5 1190.0,1380.8 1191.0,1379.0 1191.5,1380.1 1192.1,1379.3 1192.8,1379.1 1194.4,1377.7 1194.6,1378.2 1194.9,1377.9 1195.4,1378.3 1196.2,1376.2 1196.9,1377.2 1197.5,1375.4 1198.0,1375.1 1198.2,1375.5 1199.8,1373.7 1200.8,1374.5 1201.3,1373.3 1201.8,1374.2 1202.6,1373.5 1203.4,1375.6 1204.7,1376.1 1205.5,1377.8 1206.2,1376.9 1207.3,1379.7 1208.3,1378.8 1209.1,1379.7 1210.1,1378.6 1211.6,1381.3 1212.7,1381.3 1213.7,1380.2 1214.0,1380.9 1215.5,1382.2 1216.3,1381.1 1217.3,1381.6 1217.8,1381.2 1218.6,1382.3 1219.4,1381.0 1220.4,1382.2 1220.7,1381.3 1221.7,1382.1 1222.5,1380.9 1222.7,1382.1 1223.2,1382.3 1224.0,1380.7 1224.8,1382.0 1225.0,1381.5 1225.8,1381.6 1226.6,1380.9 1227.6,1382.0 1227.9,1381.5 1228.1,1382.2 1228.7,1382.4 1229.2,1381.3 1230.2,1381.9 1231.0,1380.6 1231.7,1382.5 1232.5,1381.3 1233.3,1382.3 1234.1,1381.7 1235.1,1382.3 1235.9,1381.8 1236.4,1382.5 1236.9,1381.2 1237.7,1382.0 1238.2,1380.6 1239.5,1382.1 1240.0,1382.2 1240.3,1381.6 1241.0,1382.6 1241.5,1381.2 1242.8,1382.3 1243.3,1382.3 1243.9,1381.7 1244.1,1382.2 1244.9,1381.7 1245.4,1381.9 1245.7,1381.2 1246.4,1382.8 1247.0,1382.6 1247.7,1381.4 1248.5,1382.2" fill="none" stroke="#000" stroke-width="2.8" stroke-linejoin="round"/>
<path d="M217.0,191.6L218.0,191.6 218.0,185.0 219.0,185.0 219.0,185.0 220.0,185.0 220.0,185.0 221.0,185.0 221.0,189.1 222.0,189.1 222.0,188.0 223.0,188.0 223.0,188.0 224.0,188.0 224.0,188.0 225.0,188.0 225.0,191.5 226.0,191.5 226.0,196.5 227.0,196.5 227.0,197.4 228.0,197.4 228.0,196.2 229.0,196.2 229.0,196.2 230.0,196.2 230.0,196.2 231.0,196.2 231.0,198.7 232.0,198.7 232.0,198.7 233.0,198.7 233.0,198.7 234.0,198.7 234.0,204.4 235.0,204.4 235.0,204.4 236.0,204.4 236.0,202.9 237.0,202.9 237.0,202.9 238.0,202.9 238.0,202.9 239.0,202.9 239.0,204.3 240.0,204.3 240.0,204.3 241.0,204.3 241.0,204.5 242.0,204.5 242.0,207.6 243.0,207.6 243.0,209.5 244.0,209.5 244.0,209.4 245.0,209.4 245.0,209.4 246.0,209.4 246.0,209.4 247.0,209.4 247.0,210.5 248.0,210.5 248.0,210.5 249.0,210.5 249.0,214.6 250.0,214.6 250.0,210.0 251.0,210.0 251.0,210.0 252.0,210.0 252.0,210.0 253.0,210.0 253.0,216.8 254.0,216.8 254.0,213.9 255.0,213.9 255.0,213.9 256.0,213.9 256.0,213.9 257.0,213.9 257.0,220.4 258.0,220.4 258.0,220.4 259.0,220.4 259.0,218.8 260.0,218.8 260.0,218.8 261.0,218.8 261.0,218.8 262.0,218.8 262.0,224.1 263.0,224.1 263.0,221.3 264.0,221.3 264.0,221.3 265.0,221.3 265.0,221.3 266.0,221.3 266.0,223.2 267.0,223.2 267.0,221.7 268.0,221.7 268.0,221.7 269.0,221.7 269.0,221.7 270.0,221.7 270.0,222.6 271.0,222.6 271.0,225.0 272.0,225.0 272.0,225.0 273.0,225.0 273.0,219.7 274.0,219.7 274.0,219.7 275.0,219.7 275.0,219.7 276.0,219.7 276.0,223.2 277.0,223.2 277.0,221.4 278.0,221.4 278.0,221.4 279.0,221.4 279.0,221.4 280.0,221.4 280.0,223.3 281.0,223.3 281.0,226.1 282.0,226.1 282.0,226.6 283.0,226.6 283.0,226.6 284.0,226.6 284.0,223.5 285.0,223.5 285.0,223.5 286.0,223.5 286.0,220.1 287.0,220.1 287.0,220.1 288.0,220.1 288.0,220.1 289.0,220.1 289.0,223.1 290.0,223.1 290.0,223.1 291.0,223.1 291.0,223.1 292.0,223.1 292.0,220.3 293.0,220.3 293.0,220.2 294.0,220.2 294.0,220.2 295.0,220.2 295.0,218.9 296.0,218.9 296.0,218.9 297.0,218.9 297.0,218.9 298.0,218.9 298.0,220.4 299.0,220.4 299.0,222.7 300.0,222.7 300.0,214.0 301.0,214.0 301.0,214.0 302.0,214.0 302.0,214.0 303.0,214.0 303.0,222.5 304.0,222.5 304.0,223.2 305.0,223.2 305.0,214.1 306.0,214.1 306.0,214.1 307.0,214.1 307.0,213.1 308.0,213.1 308.0,213.1 309.0,213.1 309.0,201.6 310.0,201.6 310.0,201.6 311.0,201.6 311.0,201.6 312.0,201.6 312.0,212.0 313.0,212.0 313.0,217.7 314.0,217.7 314.0,225.7 315.0,225.7 315.0,225.8 316.0,225.8 316.0,224.0 317.0,224.0 317.0,219.5 318.0,219.5 318.0,219.5 319.0,219.5 319.0,219.5 320.0,219.5 320.0,226.1 321.0,226.1 321.0,226.1 322.0,226.1 322.0,226.1 323.0,226.1 323.0,227.3 324.0,227.3 324.0,222.6 325.0,222.6 325.0,222.6 326.0,222.6 326.0,220.1 327.0,220.1 327.0,218.2 328.0,218.2 328.0,207.9 329.0,207.9 329.0,207.5 330.0,207.5 330.0,207.5 331.0,207.5 331.0,207.5 332.0,207.5 332.0,211.6 333.0,211.6 333.0,223.5 334.0,223.5 334.0,220.7 335.0,220.7 335.0,220.7 336.0,220.7 336.0,217.8 337.0,217.8 337.0,217.8 338.0,217.8 338.0,217.8 339.0,217.8 339.0,220.0 340.0,220.0 340.0,214.3 341.0,214.3 341.0,214.3 342.0,214.3 342.0,214.3 343.0,214.3 343.0,216.3 344.0,216.3 344.0,208.0 345.0,208.0 345.0,197.6 346.0,197.6 346.0,192.8 347.0,192.8 347.0,192.8 348.0,192.8 348.0,192.8 349.0,192.8 349.0,191.8 350.0,191.8 350.0,189.1 351.0,189.1 351.0,185.0 352.0,185.0 352.0,185.0 353.0,185.0 353.0,182.7 354.0,182.7 354.0,181.7 355.0,181.7 355.0,174.4 356.0,174.4 356.0,171.5 357.0,171.5 357.0,171.5 358.0,171.5 358.0,168.3 359.0,168.3 359.0,168.3 360.0,168.3 360.0,168.3 361.0,168.3 361.0,169.1 362.0,169.1 362.0,169.1 363.0,169.1 363.0,169.1 364.0,169.1 364.0,173.3 365.0,173.3 365.0,177.0 366.0,177.0 366.0,173.2 367.0,173.2 367.0,166.5 368.0,166.5 368.0,164.3 369.0,164.3 369.0,163.1 370.0,163.1 370.0,163.1 371.0,163.1 371.0,163.1 372.0,163.1 372.0,181.2 373.0,181.2 373.0,181.2 374.0,181.2 374.0,181.2 375.0,181.2 375.0,171.7 376.0,171.7 376.0,171.7 377.0,171.7 377.0,171.7 378.0,171.7 378.0,179.7 379.0,179.7 379.0,182.8 380.0,182.8 380.0,184.1 381.0,184.1 381.0,187.1 382.0,187.1 382.0,186.2 383.0,186.2 383.0,176.5 384.0,176.5 384.0,176.5 385.0,176.5 385.0,167.0 386.0,167.0 386.0,167.0 387.0,167.0 387.0,167.0 388.0,167.0 388.0,169.8 389.0,169.8 389.0,156.4 390.0,156.4 390.0,132.3 391.0,132.3 391.0,132.1 392.0,132.1 392.0,132.1 393.0,132.1 393.0,132.1 394.0,132.1 394.0,151.0 395.0,151.0 395.0,167.9 396.0,167.9 396.0,171.8 397.0,171.8 397.0,168.1 398.0,168.1 398.0,168.1 399.0,168.1 399.0,168.1 400.0,168.1 400.0,167.9 401.0,167.9 401.0,167.9 402.0,167.9 402.0,162.1 403.0,162.1 403.0,162.1 404.0,162.1 404.0,161.1 405.0,161.1 405.0,154.5 406.0,154.5 406.0,154.5 407.0,154.5 407.0,154.3 408.0,154.3 408.0,154.3 409.0,154.3 409.0,148.5 410.0,148.5 410.0,140.5 411.0,140.5 411.0,136.7 412.0,136.7 412.0,136.7 413.0,136.7 413.0,136.7 414.0,136.7 414.0,154.5 415.0,154.5 415.0,195.9 416.0,195.9 416.0,190.1 417.0,190.1 417.0,179.3 418.0,179.3 418.0,179.3 419.0,179.3 419.0,179.3 420.0,179.3 420.0,190.6 421.0,190.6 421.0,204.2 422.0,204.2 422.0,205.9 423.0,205.9 423.0,206.6 424.0,206.6 424.0,206.6 425.0,206.6 425.0,206.6 426.0,206.6 426.0,210.9 427.0,210.9 427.0,207.0 428.0,207.0 428.0,207.0 429.0,207.0 429.0,207.0 430.0,207.0 430.0,215.1 431.0,215.1 431.0,215.1 432.0,215.1 432.0,215.1 433.0,215.1 433.0,193.4 434.0,193.4 434.0,175.3 435.0,175.3 435.0,175.3 436.0,175.3 436.0,175.3 437.0,175.3 437.0,175.6 438.0,175.6 438.0,201.7 439.0,201.7 439.0,216.6 440.0,216.6 440.0,222.9 441.0,222.9 441.0,222.8 442.0,222.8 442.0,222.8 443.0,222.8 443.0,217.1 444.0,217.1 444.0,213.0 445.0,213.0 445.0,201.7 446.0,201.7 446.0,178.7 447.0,178.7 447.0,178.7 448.0,178.7 448.0,178.7 449.0,178.7 449.0,199.9 450.0,199.9 450.0,218.5 451.0,218.5 451.0,218.5 452.0,218.5 452.0,218.5 453.0,218.5 453.0,216.6 454.0,216.6 454.0,216.6 455.0,216.6 455.0,216.6 456.0,216.6 456.0,217.4 457.0,217.4 457.0,220.2 458.0,220.2 458.0,221.4 459.0,221.4 459.0,221.4 460.0,221.4 460.0,222.7 461.0,222.7 461.0,222.7 462.0,222.7 462.0,222.7 463.0,222.7 463.0,221.2 464.0,221.2 464.0,216.2 465.0,216.2 465.0,216.2 466.0,216.2 466.0,212.8 467.0,212.8 467.0,212.8 468.0,212.8 468.0,212.8 469.0,212.8 469.0,203.8 470.0,203.8 470.0,177.6 471.0,177.6 471.0,177.6 472.0,177.6 472.0,177.6 473.0,177.6 473.0,182.2 474.0,182.2 474.0,200.8 475.0,200.8 475.0,215.0 476.0,215.0 476.0,207.3 477.0,207.3 477.0,207.3 478.0,207.3 478.0,207.3 479.0,207.3 479.0,209.4 480.0,209.4 480.0,209.4 481.0,209.4 481.0,214.0 482.0,214.0 482.0,214.0 483.0,214.0 483.0,205.9 484.0,205.9 484.0,190.6 485.0,190.6 485.0,190.6 486.0,190.6 486.0,190.6 487.0,190.6 487.0,192.7 488.0,192.7 488.0,200.2 489.0,200.2 489.0,205.4 490.0,205.4 490.0,209.9 491.0,209.9 491.0,209.9 492.0,209.9 492.0,211.0 493.0,211.0 493.0,213.4 494.0,213.4 494.0,213.4 495.0,213.4 495.0,214.3 496.0,214.3 496.0,210.3 497.0,210.3 497.0,210.3 498.0,210.3 498.0,210.3 499.0,210.3 499.0,210.4 500.0,210.4 500.0,210.4 501.0,210.4 501.0,206.0 502.0,206.0 502.0,191.9 503.0,191.9 503.0,178.5 504.0,178.5 504.0,178.5 505.0,178.5 505.0,178.5 506.0,178.5 506.0,179.0 507.0,179.0 507.0,188.1 508.0,188.1 508.0,188.1 509.0,188.1 509.0,181.8 510.0,181.8 510.0,181.8 511.0,181.8 511.0,181.8 512.0,181.8 512.0,197.0 513.0,197.0 513.0,202.4 514.0,202.4 514.0,202.4 515.0,202.4 515.0,204.0 516.0,204.0 516.0,205.4 517.0,205.4 517.0,203.4 518.0,203.4 518.0,203.4 519.0,203.4 519.0,203.4 520.0,203.4 520.0,207.8 521.0,207.8 521.0,199.5 522.0,199.5 522.0,199.5 523.0,199.5 523.0,199.5 524.0,199.5 524.0,203.7 525.0,203.7 525.0,203.7 526.0,203.7 526.0,203.7 527.0,203.7 527.0,205.3 528.0,205.3 528.0,198.3 529.0,198.3 529.0,198.3 530.0,198.3 530.0,198.3 531.0,198.3 531.0,201.5 532.0,201.5 532.0,192.5 533.0,192.5 533.0,188.7 534.0,188.7 534.0,176.3 535.0,176.3 535.0,176.3 536.0,176.3 536.0,169.1 537.0,169.1 537.0,169.1 538.0,169.1 538.0,169.1 539.0,169.1 539.0,170.2 540.0,170.2 540.0,181.1 541.0,181.1 541.0,181.1 542.0,181.1 542.0,191.6 543.0,191.6 543.0,187.7 544.0,187.7 544.0,187.7 545.0,187.7 545.0,187.7 546.0,187.7 546.0,187.6 547.0,187.6 547.0,184.6 548.0,184.6 548.0,184.6 549.0,184.6 549.0,184.6 550.0,184.6 550.0,189.9 551.0,189.9 551.0,198.3 552.0,198.3 552.0,198.3 553.0,198.3 553.0,198.3 554.0,198.3 554.0,204.1 555.0,204.1 555.0,205.1 556.0,205.1 556.0,200.5 557.0,200.5 557.0,200.5 558.0,200.5 558.0,181.6 559.0,181.6 559.0,176.6 560.0,176.6 560.0,176.6 561.0,176.6 561.0,176.6 562.0,176.6 562.0,185.1 563.0,185.1 563.0,191.4 564.0,191.4 564.0,191.4 565.0,191.4 565.0,191.4 566.0,191.4 566.0,200.9 567.0,200.9 567.0,200.9 568.0,200.9 568.0,203.7 569.0,203.7 569.0,203.7 570.0,203.7 570.0,205.5 571.0,205.5 571.0,205.5 572.0,205.5 572.0,201.6 573.0,201.6 573.0,196.2 574.0,196.2 574.0,188.2 575.0,188.2 575.0,188.2 576.0,188.2 576.0,188.2 577.0,188.2 577.0,188.3 578.0,188.3 578.0,194.7 579.0,194.7 579.0,202.9 580.0,202.9 580.0,199.7 581.0,199.7 581.0,192.2 582.0,192.2 582.0,192.2 583.0,192.2 583.0,192.2 584.0,192.2 584.0,193.6 585.0,193.6 585.0,196.1 586.0,196.1 586.0,196.1 587.0,196.1 587.0,187.9 588.0,187.9 588.0,187.9 589.0,187.9 589.0,187.9 590.0,187.9 590.0,192.3 591.0,192.3 591.0,192.7 592.0,192.7 592.0,207.0 593.0,207.0 593.0,209.5 594.0,209.5 594.0,209.5 595.0,209.5 595.0,211.9 596.0,211.9 596.0,211.9 597.0,211.9 597.0,211.9 598.0,211.9 598.0,215.1 599.0,215.1 599.0,215.1 600.0,215.1 600.0,212.7 601.0,212.7 601.0,212.7 602.0,212.7 602.0,212.7 603.0,212.7 603.0,215.6 604.0,215.6 604.0,218.0 605.0,218.0 605.0,216.3 606.0,216.3 606.0,214.2 607.0,214.2 607.0,214.2 608.0,214.2 608.0,211.6 609.0,211.6 609.0,211.6 610.0,211.6 610.0,203.8 611.0,203.8 611.0,197.2 612.0,197.2 612.0,192.5 613.0,192.5 613.0,192.5 614.0,192.5 614.0,192.5 615.0,192.5 615.0,194.1 616.0,194.1 616.0,203.2 617.0,203.2 617.0,203.9 618.0,203.9 618.0,198.5 619.0,198.5 619.0,197.2 620.0,197.2 620.0,191.7 621.0,191.7 621.0,191.7 622.0,191.7 622.0,182.1 623.0,182.1 623.0,178.7 624.0,178.7 624.0,162.7 625.0,162.7 625.0,152.3 626.0,152.3 626.0,145.4 627.0,145.4 627.0,135.2 628.0,135.2 628.0,132.6 629.0,132.6 629.0,124.6 630.0,124.6 630.0,104.8 631.0,104.8 631.0,93.5 632.0,93.5 632.0,89.3 633.0,89.3 633.0,80.9 634.0,80.9 634.0,60.5 635.0,60.5 635.0,59.3 636.0,59.3 636.0,59.3 637.0,59.3 637.0,59.3 638.0,59.3 638.0,65.9 639.0,65.9 639.0,74.8 640.0,74.8 640.0,82.2 641.0,82.2 641.0,93.6 642.0,93.6 642.0,98.1 643.0,98.1 643.0,101.9 644.0,101.9 644.0,113.6 645.0,113.6 645.0,115.1 646.0,115.1 646.0,125.8 647.0,125.8 647.0,126.4 648.0,126.4 648.0,128.4 649.0,128.4 649.0,133.4 650.0,133.4 650.0,135.9 651.0,135.9 651.0,137.6 652.0,137.6 652.0,141.7 653.0,141.7 653.0,145.7 654.0,145.7 654.0,149.6 655.0,149.6 655.0,163.8 656.0,163.8 656.0,168.0 657.0,168.0 657.0,173.8 658.0,173.8 658.0,172.3 659.0,172.3 659.0,172.3 660.0,172.3 660.0,172.3 661.0,172.3 661.0,173.4 662.0,173.4 662.0,173.4 663.0,173.4 663.0,173.4 664.0,173.4 664.0,173.7 665.0,173.7 665.0,173.7 666.0,173.7 666.0,181.7 667.0,181.7 667.0,181.7 668.0,181.7 668.0,186.7 669.0,186.7 669.0,191.0 670.0,191.0 670.0,199.1 671.0,199.1 671.0,205.3 672.0,205.3 672.0,207.1 673.0,207.1 673.0,213.6 674.0,213.6 674.0,213.6 675.0,213.6 675.0,213.6 676.0,213.6 676.0,219.6 677.0,219.6 677.0,225.7 678.0,225.7 678.0,225.7 679.0,225.7 679.0,225.7 680.0,225.7 680.0,228.5 681.0,228.5 681.0,226.1 682.0,226.1 682.0,226.1 683.0,226.1 683.0,221.5 684.0,221.5 684.0,221.5 685.0,221.5 685.0,221.5 686.0,221.5 686.0,228.3 687.0,228.3 687.0,228.3 688.0,228.3 688.0,228.3 689.0,228.3 689.0,229.3 690.0,229.3 690.0,226.9 691.0,226.9 691.0,226.9 692.0,226.9 692.0,226.9 693.0,226.9 693.0,227.4 694.0,227.4 694.0,229.9 695.0,229.9 695.0,230.3 696.0,230.3 696.0,231.9 697.0,231.9 697.0,231.9 698.0,231.9 698.0,233.4 699.0,233.4 699.0,230.0 700.0,230.0 700.0,220.0 701.0,220.0 701.0,220.0 702.0,220.0 702.0,220.0 703.0,220.0 703.0,220.9 704.0,220.9 704.0,229.7 705.0,229.7 705.0,229.7 706.0,229.7 706.0,230.8 707.0,230.8 707.0,235.5 708.0,235.5 708.0,230.2 709.0,230.2 709.0,230.2 710.0,230.2 710.0,224.9 711.0,224.9 711.0,224.9 712.0,224.9 712.0,224.9 713.0,224.9 713.0,224.6 714.0,224.6 714.0,224.6 715.0,224.6 715.0,224.6 716.0,224.6 716.0,227.5 717.0,227.5 717.0,230.0 718.0,230.0 718.0,230.0 719.0,230.0 719.0,230.0 720.0,230.0 720.0,228.8 721.0,228.8 721.0,223.1 722.0,223.1 722.0,223.1 723.0,223.1 723.0,223.1 724.0,223.1 724.0,219.0 725.0,219.0 725.0,219.0 726.0,219.0 726.0,213.9 727.0,213.9 727.0,213.9 728.0,213.9 728.0,213.9 729.0,213.9 729.0,220.3 730.0,220.3 730.0,222.9 731.0,222.9 731.0,222.9 732.0,222.9 732.0,219.7 733.0,219.7 733.0,219.0 734.0,219.0 734.0,218.0 735.0,218.0 735.0,218.0 736.0,218.0 736.0,218.0 737.0,218.0 737.0,222.5 738.0,222.5 738.0,225.9 739.0,225.9 739.0,226.2 740.0,226.2 740.0,221.9 741.0,221.9 741.0,221.9 742.0,221.9 742.0,221.9 743.0,221.9 743.0,223.0 744.0,223.0 744.0,224.6 745.0,224.6 745.0,224.6 746.0,224.6 746.0,228.5 747.0,228.5 747.0,233.6 748.0,233.6 748.0,235.9 749.0,235.9 749.0,235.8 750.0,235.8 750.0,233.8 751.0,233.8 751.0,233.8 752.0,233.8 752.0,233.8 753.0,233.8 753.0,228.3 754.0,228.3 754.0,228.3 755.0,228.3 755.0,226.9 756.0,226.9 756.0,226.5 757.0,226.5 757.0,226.5 758.0,226.5 758.0,226.5 759.0,226.5 759.0,222.1 760.0,222.1 760.0,220.4 761.0,220.4 761.0,220.1 762.0,220.1 762.0,220.1 763.0,220.1 763.0,220.1 764.0,220.1 764.0,227.5 765.0,227.5 765.0,228.8 766.0,228.8 766.0,230.0 767.0,230.0 767.0,229.4 768.0,229.4 768.0,222.1 769.0,222.1 769.0,222.1 770.0,222.1 770.0,222.1 771.0,222.1 771.0,222.7 772.0,222.7 772.0,222.7 773.0,222.7 773.0,224.5 774.0,224.5 774.0,224.1 775.0,224.1 775.0,221.9 776.0,221.9 776.0,221.9 777.0,221.9 777.0,215.9 778.0,215.9 778.0,215.9 779.0,215.9 779.0,215.9 780.0,215.9 780.0,216.5 781.0,216.5 781.0,217.0 782.0,217.0 782.0,217.0 783.0,217.0 783.0,211.6 784.0,211.6 784.0,211.6 785.0,211.6 785.0,211.6 786.0,211.6 786.0,218.4 787.0,218.4 787.0,217.4 788.0,217.4 788.0,214.2 789.0,214.2 789.0,207.9 790.0,207.9 790.0,207.9 791.0,207.9 791.0,207.9 792.0,207.9 792.0,208.4 793.0,208.4 793.0,208.4 794.0,208.4 794.0,208.4 795.0,208.4 795.0,199.0 796.0,199.0 796.0,199.0 797.0,199.0 797.0,199.0 798.0,199.0 798.0,204.9 799.0,204.9 799.0,204.9 800.0,204.9 800.0,204.9 801.0,204.9 801.0,207.7 802.0,207.7 802.0,207.5 803.0,207.5 803.0,201.1 804.0,201.1 804.0,201.1 805.0,201.1 805.0,193.6 806.0,193.6 806.0,193.6 807.0,193.6 807.0,193.6 808.0,193.6 808.0,194.6 809.0,194.6 809.0,194.6 810.0,194.6 810.0,194.6 811.0,194.6 811.0,195.2 812.0,195.2 812.0,195.2 813.0,195.2 813.0,196.3 814.0,196.3 814.0,196.3 815.0,196.3 815.0,198.1 816.0,198.1 816.0,198.8 817.0,198.8 817.0,198.8 818.0,198.8 818.0,202.6 819.0,202.6 819.0,202.6 820.0,202.6 820.0,207.3 821.0,207.3 821.0,207.3 822.0,207.3 822.0,211.0 823.0,211.0 823.0,212.2 824.0,212.2 824.0,211.8 825.0,211.8 825.0,211.8 826.0,211.8 826.0,211.8 827.0,211.8 827.0,220.6 828.0,220.6 828.0,220.9 829.0,220.9 829.0,222.5 830.0,222.5 830.0,226.1 831.0,226.1 831.0,226.6 832.0,226.6 832.0,227.2 833.0,227.2 833.0,227.2 834.0,227.2 834.0,227.5 835.0,227.5 835.0,226.2 836.0,226.2 836.0,226.2 837.0,226.2 837.0,221.7 838.0,221.7 838.0,218.0 839.0,218.0 839.0,218.0 840.0,218.0 840.0,218.0 841.0,218.0 841.0,221.7 842.0,221.7 842.0,221.7 843.0,221.7 843.0,221.7 844.0,221.7 844.0,228.7 845.0,228.7 845.0,229.0 846.0,229.0 846.0,229.0 847.0,229.0 847.0,229.7 848.0,229.7 848.0,229.7 849.0,229.7 849.0,229.7 850.0,229.7 850.0,234.7 851.0,234.7 851.0,236.2 852.0,236.2 852.0,236.2 853.0,236.2 853.0,236.2 854.0,236.2 854.0,239.3 855.0,239.3 855.0,236.8 856.0,236.8 856.0,236.8 857.0,236.8 857.0,236.4 858.0,236.4 858.0,236.4 859.0,236.4 859.0,236.4 860.0,236.4 860.0,236.8 861.0,236.8 861.0,242.4 862.0,242.4 862.0,242.4 863.0,242.4 863.0,238.4 864.0,238.4 864.0,238.4 865.0,238.4 865.0,237.6 866.0,237.6 866.0,237.6 867.0,237.6 867.0,237.6 868.0,237.6 868.0,238.6 869.0,238.6 869.0,240.6 870.0,240.6 870.0,241.0 871.0,241.0 871.0,241.0 872.0,241.0 872.0,237.5 873.0,237.5 873.0,237.5 874.0,237.5 874.0,237.5 875.0,237.5 875.0,240.1 876.0,240.1 876.0,239.5 877.0,239.5 877.0,231.9 878.0,231.9 878.0,231.9 879.0,231.9 879.0,231.9 880.0,231.9 880.0,237.3 881.0,237.3 881.0,235.3 882.0,235.3 882.0,228.6 883.0,228.6 883.0,228.6 884.0,228.6 884.0,228.6 885.0,228.6 885.0,230.6 886.0,230.6 886.0,234.2 887.0,234.2 887.0,233.8 888.0,233.8 888.0,233.8 889.0,233.8 889.0,228.4 890.0,228.4 890.0,228.4 891.0,228.4 891.0,228.4 892.0,228.4 892.0,216.6 893.0,216.6 893.0,216.6 894.0,216.6 894.0,216.6 895.0,216.6 895.0,220.1 896.0,220.1 896.0,219.6 897.0,219.6 897.0,219.6 898.0,219.6 898.0,219.6 899.0,219.6 899.0,209.5 900.0,209.5 900.0,209.5 901.0,209.5 901.0,202.1 902.0,202.1 902.0,200.6 903.0,200.6 903.0,200.6 904.0,200.6 904.0,179.3 905.0,179.3 905.0,153.9 906.0,153.9 906.0,130.3 907.0,130.3 907.0,106.4 908.0,106.4 908.0,101.6 909.0,101.6 909.0,101.6 910.0,101.6 910.0,101.6 911.0,101.6 911.0,117.6 912.0,117.6 912.0,146.7 913.0,146.7 913.0,180.8 914.0,180.8 914.0,198.5 915.0,198.5 915.0,211.4 916.0,211.4 916.0,216.6 917.0,216.6 917.0,217.6 918.0,217.6 918.0,221.1 919.0,221.1 919.0,225.3 920.0,225.3 920.0,227.6 921.0,227.6 921.0,227.6 922.0,227.6 922.0,227.6 923.0,227.6 923.0,233.7 924.0,233.7 924.0,235.8 925.0,235.8 925.0,235.2 926.0,235.2 926.0,235.2 927.0,235.2 927.0,235.0 928.0,235.0 928.0,235.0 929.0,235.0 929.0,235.0 930.0,235.0 930.0,238.0 931.0,238.0 931.0,236.2 932.0,236.2 932.0,233.1 933.0,233.1 933.0,233.1 934.0,233.1 934.0,231.0 935.0,231.0 935.0,231.0 936.0,231.0 936.0,226.2 937.0,226.2 937.0,221.7 938.0,221.7 938.0,219.2 939.0,219.2 939.0,211.1 940.0,211.1 940.0,211.1 941.0,211.1 941.0,211.1 942.0,211.1 942.0,211.2 943.0,211.2 943.0,215.9 944.0,215.9 944.0,216.3 945.0,216.3 945.0,219.8 946.0,219.8 946.0,219.8 947.0,219.8 947.0,219.8 948.0,219.8 948.0,220.9 949.0,220.9 949.0,220.9 950.0,220.9 950.0,220.9 951.0,220.9 951.0,221.2 952.0,221.2 952.0,221.2 953.0,221.2 953.0,220.2 954.0,220.2 954.0,215.1 955.0,215.1 955.0,215.1 956.0,215.1 956.0,215.1 957.0,215.1 957.0,222.7 958.0,222.7 958.0,221.0 959.0,221.0 959.0,221.0 960.0,221.0 960.0,221.0 961.0,221.0 961.0,227.6 962.0,227.6 962.0,230.2 963.0,230.2 963.0,234.8 964.0,234.8 964.0,238.4 965.0,238.4 965.0,238.3 966.0,238.3 966.0,238.3 967.0,238.3 967.0,238.3 968.0,238.3 968.0,241.2 969.0,241.2 969.0,241.2 970.0,241.2 970.0,242.9 971.0,242.9 971.0,242.9 972.0,242.9 972.0,242.9 973.0,242.9 973.0,242.9 974.0,242.9 974.0,243.5 975.0,243.5 975.0,243.5 976.0,243.5 976.0,245.4 977.0,245.4 977.0,245.2 978.0,245.2 978.0,245.2 979.0,245.2 979.0,245.2 980.0,245.2 980.0,245.0 981.0,245.0 981.0,242.2 982.0,242.2 982.0,242.2 983.0,242.2 983.0,242.2 984.0,242.2 984.0,244.4 985.0,244.4 985.0,244.4 986.0,244.4 986.0,247.9 987.0,247.9 987.0,246.0 988.0,246.0 988.0,246.0 989.0,246.0 989.0,243.2 990.0,243.2 990.0,243.2 991.0,243.2 991.0,243.2 992.0,243.2 992.0,243.1 993.0,243.1 993.0,243.1 994.0,243.1 994.0,243.1 995.0,243.1 995.0,243.1 996.0,243.1 996.0,243.1 997.0,243.1 997.0,240.4 998.0,240.4 998.0,240.4 999.0,240.4 999.0,240.4 1000.0,240.4 1000.0,240.4 1001.0,240.4 1001.0,239.3 1002.0,239.3 1002.0,239.3 1003.0,239.3 1003.0,239.3 1004.0,239.3 1004.0,238.6 1005.0,238.6 1005.0,238.6 1006.0,238.6 1006.0,238.6 1007.0,238.6 1007.0,238.1 1008.0,238.1 1008.0,238.1 1009.0,238.1 1009.0,237.6 1010.0,237.6 1010.0,237.6 1011.0,237.6 1011.0,237.6 1012.0,237.6 1012.0,239.2 1013.0,239.2 1013.0,239.2 1014.0,239.2 1014.0,241.4 1015.0,241.4 1015.0,241.4 1016.0,241.4 1016.0,241.8 1017.0,241.8 1017.0,241.8 1018.0,241.8 1018.0,238.8 1019.0,238.8 1019.0,238.8 1020.0,238.8 1020.0,238.8 1021.0,238.8 1021.0,238.8 1022.0,238.8 1022.0,242.5 1023.0,242.5 1023.0,238.9 1024.0,238.9 1024.0,238.9 1025.0,238.9 1025.0,238.9 1026.0,238.9 1026.0,242.9 1027.0,242.9 1027.0,239.2 1028.0,239.2 1028.0,239.2 1029.0,239.2 1029.0,239.2 1030.0,239.2 1030.0,240.4 1031.0,240.4 1031.0,240.4 1032.0,240.4 1032.0,235.5 1033.0,235.5 1033.0,235.5 1034.0,235.5 1034.0,235.5 1035.0,235.5 1035.0,237.9 1036.0,237.9 1036.0,238.8 1037.0,238.8 1037.0,238.8 1038.0,238.8 1038.0,238.3 1039.0,238.3 1039.0,235.0 1040.0,235.0 1040.0,235.0 1041.0,235.0 1041.0,235.0 1042.0,235.0 1042.0,238.6 1043.0,238.6 1043.0,239.5 1044.0,239.5 1044.0,239.5 1045.0,239.5 1045.0,239.5 1046.0,239.5 1046.0,240.4 1047.0,240.4 1047.0,240.3 1048.0,240.3 1048.0,240.3 1049.0,240.3 1049.0,240.3 1050.0,240.3 1050.0,241.5 1051.0,241.5 1051.0,239.3 1052.0,239.3 1052.0,238.2 1053.0,238.2 1053.0,238.2 1054.0,238.2 1054.0,238.2 1055.0,238.2 1055.0,245.6 1056.0,245.6 1056.0,246.1 1057.0,246.1 1057.0,245.0 1058.0,245.0 1058.0,245.0 1059.0,245.0 1059.0,245.0 1060.0,245.0 1060.0,245.7 1061.0,245.7 1061.0,242.6 1062.0,242.6 1062.0,242.6 1063.0,242.6 1063.0,242.4 1064.0,242.4 1064.0,240.5 1065.0,240.5 1065.0,240.5 1066.0,240.5 1066.0,240.5 1067.0,240.5 1067.0,237.0 1068.0,237.0 1068.0,237.0 1069.0,237.0 1069.0,237.0 1070.0,237.0 1070.0,239.8 1071.0,239.8 1071.0,239.8 1072.0,239.8 1072.0,234.3 1073.0,234.3 1073.0,234.3 1074.0,234.3 1074.0,234.3 1075.0,234.3 1075.0,240.2 1076.0,240.2 1076.0,240.7 1077.0,240.7 1077.0,240.7 1078.0,240.7 1078.0,240.7 1079.0,240.7 1079.0,243.0 1080.0,243.0 1080.0,241.7 1081.0,241.7 1081.0,233.4 1082.0,233.4 1082.0,233.4 1083.0,233.4 1083.0,233.4 1084.0,233.4 1084.0,235.5 1085.0,235.5 1085.0,238.1 1086.0,238.1 1086.0,238.8 1087.0,238.8 1087.0,241.9 1088.0,241.9 1088.0,242.6 1089.0,242.6 1089.0,242.6 1090.0,242.6 1090.0,242.6 1091.0,242.6 1091.0,245.0 1092.0,245.0 1092.0,245.0 1093.0,245.0 1093.0,248.4 1094.0,248.4 1094.0,248.1 1095.0,248.1 1095.0,248.1 1096.0,248.1 1096.0,245.5 1097.0,245.5 1097.0,245.5 1098.0,245.5 1098.0,245.5 1099.0,245.5 1099.0,246.9 1100.0,246.9 1100.0,247.6 1101.0,247.6 1101.0,247.6 1102.0,247.6 1102.0,247.6 1103.0,247.6 1103.0,250.9 1104.0,250.9 1104.0,250.9 1105.0,250.9 1105.0,250.3 1106.0,250.3 1106.0,250.3 1107.0,250.3 1107.0,250.3 1108.0,250.3 1108.0,250.9 1109.0,250.9 1109.0,249.7 1110.0,249.7 1110.0,246.9 1111.0,246.9 1111.0,246.9 1112.0,246.9 1112.0,243.4 1113.0,243.4 1113.0,243.4 1114.0,243.4 1114.0,243.4 1115.0,243.4 1115.0,247.5 1116.0,247.5 1116.0,245.0 1117.0,245.0 1117.0,245.0 1118.0,245.0 1118.0,245.0 1119.0,245.0 1119.0,246.9 1120.0,246.9 1120.0,246.9 1121.0,246.9 1121.0,248.3 1122.0,248.3 1122.0,246.3 1123.0,246.3 1123.0,246.3 1124.0,246.3 1124.0,246.3 1125.0,246.3 1125.0,249.4 1126.0,249.4 1126.0,249.3 1127.0,249.3 1127.0,249.3 1128.0,249.3 1128.0,248.9 1129.0,248.9 1129.0,248.9 1130.0,248.9 1130.0,248.9 1131.0,248.9 1131.0,250.6 1132.0,250.6 1132.0,250.6 1133.0,250.6 1133.0,251.2 1134.0,251.2 1134.0,250.8 1135.0,250.8 1135.0,250.8 1136.0,250.8 1136.0,250.5 1137.0,250.5 1137.0,250.5 1138.0,250.5 1138.0,250.5 1139.0,250.5 1139.0,252.8 1140.0,252.8 1140.0,249.4 1141.0,249.4 1141.0,249.4 1142.0,249.4 1142.0,249.4 1143.0,249.4 1143.0,252.9 1144.0,252.9 1144.0,253.2 1145.0,253.2 1145.0,253.2 1146.0,253.2 1146.0,253.2 1147.0,253.2 1147.0,255.2 1148.0,255.2 1148.0,253.6 1149.0,253.6 1149.0,253.6 1150.0,253.6 1150.0,253.6 1151.0,253.6 1151.0,251.7 1152.0,251.7 1152.0,248.3 1153.0,248.3 1153.0,248.3 1154.0,248.3 1154.0,248.3 1155.0,248.3 1155.0,249.7 1156.0,249.7 1156.0,249.7 1157.0,249.7 1157.0,249.3 1158.0,249.3 1158.0,249.3 1159.0,249.3 1159.0,249.3 1160.0,249.3 1160.0,252.2 1161.0,252.2 1161.0,252.2 1162.0,252.2 1162.0,251.6 1163.0,251.6 1163.0,251.1 1164.0,251.1 1164.0,251.1 1165.0,251.1 1165.0,251.1 1166.0,251.1 1166.0,252.8 1167.0,252.8 1167.0,252.8 1168.0,252.8 1168.0,251.0 1169.0,251.0 1169.0,251.0 1170.0,251.0 1170.0,249.5 1171.0,249.5 1171.0,249.5 1172.0,249.5 1172.0,249.5 1173.0,249.5 1173.0,251.8 1174.0,251.8 1174.0,250.5 1175.0,250.5 1175.0,250.5 1176.0,250.5 1176.0,250.5 1177.0,250.5 1177.0,245.9 1178.0,245.9 1178.0,245.9 1179.0,245.9 1179.0,245.9 1180.0,245.9 1180.0,248.7 1181.0,248.7 1181.0,249.4 1182.0,249.4 1182.0,249.4 1183.0,249.4 1183.0,249.4 1184.0,249.4 1184.0,250.1 1185.0,250.1 1185.0,245.6 1186.0,245.6 1186.0,245.6 1187.0,245.6 1187.0,245.6 1188.0,245.6 1188.0,248.6 1189.0,248.6 1189.0,248.6 1190.0,248.6 1190.0,248.1 1191.0,248.1 1191.0,248.1 1192.0,248.1 1192.0,248.1 1193.0,248.1 1193.0,249.0 1194.0,249.0 1194.0,249.8 1195.0,249.8 1195.0,249.8 1196.0,249.8 1196.0,245.0 1197.0,245.0 1197.0,244.0 1198.0,244.0 1198.0,244.0 1199.0,244.0 1199.0,244.0 1200.0,244.0 1200.0,245.7 1201.0,245.7 1201.0,245.7 1202.0,245.7 1202.0,244.3 1203.0,244.3 1203.0,244.3 1204.0,244.3 1204.0,244.3 1205.0,244.3 1205.0,244.9 1206.0,244.9 1206.0,244.9 1207.0,244.9 1207.0,246.0 1208.0,246.0 1208.0,248.0 1209.0,248.0 1209.0,248.0 1210.0,248.0 1210.0,249.3 1211.0,249.3 1211.0,247.4 1212.0,247.4 1212.0,247.0 1213.0,247.0 1213.0,247.0 1214.0,247.0 1214.0,245.6 1215.0,245.6 1215.0,245.6 1216.0,245.6 1216.0,245.6 1217.0,245.6 1217.0,250.8 1218.0,250.8 1218.0,251.4 1219.0,251.4 1219.0,251.4 1220.0,251.4 1220.0,252.0 1221.0,252.0 1221.0,252.0 1222.0,252.0 1222.0,254.8 1223.0,254.8 1223.0,254.3 1224.0,254.3 1224.0,254.3 1225.0,254.3 1225.0,254.3 1226.0,254.3 1226.0,253.8 1227.0,253.8 1227.0,253.8 1228.0,253.8 1228.0,253.8 1229.0,253.8 1229.0,254.7 1230.0,254.7 1230.0,257.1 1231.0,257.1 1231.0,257.1 1232.0,257.1 1232.0,254.6 1233.0,254.6 1233.0,254.5 1234.0,254.5 1234.0,254.5 1235.0,254.5 1235.0,254.5 1236.0,254.5 1236.0,255.9 1237.0,255.9 1237.0,255.9 1238.0,255.9 1238.0,258.3 1239.0,258.3 1239.0,257.2 1240.0,257.2 1240.0,256.8 1241.0,256.8 1241.0,256.8 1242.0,256.8 1242.0,256.7 1243.0,256.7 1243.0,256.7 1244.0,256.7 1244.0,256.7 1245.0,256.7 1245.0,257.4 1246.0,257.4 1246.0,257.1 1247.0,257.1 1247.0,257.1 1248.0,257.1 1248.0,257.1 1249.0,257.1 1249.0,265.0 1248.0,265.0 1248.0,266.6 1247.0,266.6 1247.0,266.6 1246.0,266.6 1246.0,266.6 1245.0,266.6 1245.0,265.3 1244.0,265.3 1244.0,263.7 1243.0,263.7 1243.0,264.7 1242.0,264.7 1242.0,267.0 1241.0,267.0 1241.0,267.0 1240.0,267.0 1240.0,267.0 1239.0,267.0 1239.0,264.6 1238.0,264.6 1238.0,265.0 1237.0,265.0 1237.0,265.4 1236.0,265.4 1236.0,265.4 1235.0,265.4 1235.0,265.4 1234.0,265.4 1234.0,265.4 1233.0,265.4 1233.0,266.0 1232.0,266.0 1232.0,266.0 1231.0,266.0 1231.0,266.0 1230.0,266.0 1230.0,263.4 1229.0,263.4 1229.0,264.1 1228.0,264.1 1228.0,264.1 1227.0,264.1 1227.0,264.3 1226.0,264.3 1226.0,264.3 1225.0,264.3 1225.0,264.3 1224.0,264.3 1224.0,263.8 1223.0,263.8 1223.0,263.5 1222.0,263.5 1222.0,263.5 1221.0,263.5 1221.0,263.0 1220.0,263.0 1220.0,261.4 1219.0,261.4 1219.0,261.4 1218.0,261.4 1218.0,261.4 1217.0,261.4 1217.0,258.5 1216.0,258.5 1216.0,262.3 1215.0,262.3 1215.0,262.3 1214.0,262.3 1214.0,262.3 1213.0,262.3 1213.0,258.4 1212.0,258.4 1212.0,258.4 1211.0,258.4 1211.0,258.4 1210.0,258.4 1210.0,258.3 1209.0,258.3 1209.0,258.4 1208.0,258.4 1208.0,258.4 1207.0,258.4 1207.0,258.4 1206.0,258.4 1206.0,258.0 1205.0,258.0 1205.0,253.6 1204.0,253.6 1204.0,255.5 1203.0,255.5 1203.0,255.5 1202.0,255.5 1202.0,255.5 1201.0,255.5 1201.0,253.5 1200.0,253.5 1200.0,254.1 1199.0,254.1 1199.0,258.4 1198.0,258.4 1198.0,258.4 1197.0,258.4 1197.0,258.4 1196.0,258.4 1196.0,260.3 1195.0,260.3 1195.0,260.3 1194.0,260.3 1194.0,260.3 1193.0,260.3 1193.0,262.7 1192.0,262.7 1192.0,262.7 1191.0,262.7 1191.0,262.7 1190.0,262.7 1190.0,257.4 1189.0,257.4 1189.0,257.4 1188.0,257.4 1188.0,257.4 1187.0,257.4 1187.0,257.5 1186.0,257.5 1186.0,257.5 1185.0,257.5 1185.0,258.2 1184.0,258.2 1184.0,258.2 1183.0,258.2 1183.0,260.4 1182.0,260.4 1182.0,260.4 1181.0,260.4 1181.0,260.4 1180.0,260.4 1180.0,260.3 1179.0,260.3 1179.0,260.3 1178.0,260.3 1178.0,259.6 1177.0,259.6 1177.0,259.8 1176.0,259.8 1176.0,261.3 1175.0,261.3 1175.0,261.4 1174.0,261.4 1174.0,261.4 1173.0,261.4 1173.0,261.4 1172.0,261.4 1172.0,260.2 1171.0,260.2 1171.0,259.6 1170.0,259.6 1170.0,261.4 1169.0,261.4 1169.0,261.4 1168.0,261.4 1168.0,261.4 1167.0,261.4 1167.0,261.5 1166.0,261.5 1166.0,262.2 1165.0,262.2 1165.0,262.2 1164.0,262.2 1164.0,262.4 1163.0,262.4 1163.0,262.4 1162.0,262.4 1162.0,262.4 1161.0,262.4 1161.0,264.6 1160.0,264.6 1160.0,264.6 1159.0,264.6 1159.0,264.6 1158.0,264.6 1158.0,260.1 1157.0,260.1 1157.0,258.6 1156.0,258.6 1156.0,260.7 1155.0,260.7 1155.0,262.9 1154.0,262.9 1154.0,262.9 1153.0,262.9 1153.0,262.9 1152.0,262.9 1152.0,263.1 1151.0,263.1 1151.0,263.1 1150.0,263.1 1150.0,263.4 1149.0,263.4 1149.0,263.4 1148.0,263.4 1148.0,263.4 1147.0,263.4 1147.0,262.0 1146.0,262.0 1146.0,263.2 1145.0,263.2 1145.0,263.7 1144.0,263.7 1144.0,263.7 1143.0,263.7 1143.0,263.7 1142.0,263.7 1142.0,261.9 1141.0,261.9 1141.0,261.4 1140.0,261.4 1140.0,266.2 1139.0,266.2 1139.0,266.2 1138.0,266.2 1138.0,266.2 1137.0,266.2 1137.0,259.5 1136.0,259.5 1136.0,260.9 1135.0,260.9 1135.0,260.9 1134.0,260.9 1134.0,260.9 1133.0,260.9 1133.0,260.1 1132.0,260.1 1132.0,259.2 1131.0,259.2 1131.0,259.8 1130.0,259.8 1130.0,259.8 1129.0,259.8 1129.0,259.8 1128.0,259.8 1128.0,259.7 1127.0,259.7 1127.0,259.9 1126.0,259.9 1126.0,259.9 1125.0,259.9 1125.0,259.9 1124.0,259.9 1124.0,258.1 1123.0,258.1 1123.0,258.3 1122.0,258.3 1122.0,258.3 1121.0,258.3 1121.0,259.5 1120.0,259.5 1120.0,259.5 1119.0,259.5 1119.0,259.5 1118.0,259.5 1118.0,256.8 1117.0,256.8 1117.0,256.8 1116.0,256.8 1116.0,258.0 1115.0,258.0 1115.0,258.0 1114.0,258.0 1114.0,258.8 1113.0,258.8 1113.0,258.8 1112.0,258.8 1112.0,259.7 1111.0,259.7 1111.0,262.0 1110.0,262.0 1110.0,262.0 1109.0,262.0 1109.0,262.0 1108.0,262.0 1108.0,257.7 1107.0,257.7 1107.0,258.2 1106.0,258.2 1106.0,260.1 1105.0,260.1 1105.0,260.1 1104.0,260.1 1104.0,263.1 1103.0,263.1 1103.0,263.1 1102.0,263.1 1102.0,263.1 1101.0,263.1 1101.0,260.0 1100.0,260.0 1100.0,260.0 1099.0,260.0 1099.0,258.9 1098.0,258.9 1098.0,258.9 1097.0,258.9 1097.0,258.9 1096.0,258.9 1096.0,259.9 1095.0,259.9 1095.0,259.9 1094.0,259.9 1094.0,259.9 1093.0,259.9 1093.0,256.2 1092.0,256.2 1092.0,255.2 1091.0,255.2 1091.0,255.1 1090.0,255.1 1090.0,254.9 1089.0,254.9 1089.0,254.9 1088.0,254.9 1088.0,251.4 1087.0,251.4 1087.0,251.4 1086.0,251.4 1086.0,251.4 1085.0,251.4 1085.0,251.4 1084.0,251.4 1084.0,251.4 1083.0,251.4 1083.0,251.4 1082.0,251.4 1082.0,251.8 1081.0,251.8 1081.0,251.8 1080.0,251.8 1080.0,252.1 1079.0,252.1 1079.0,252.1 1078.0,252.1 1078.0,252.1 1077.0,252.1 1077.0,251.2 1076.0,251.2 1076.0,254.1 1075.0,254.1 1075.0,254.1 1074.0,254.1 1074.0,254.1 1073.0,254.1 1073.0,252.0 1072.0,252.0 1072.0,252.0 1071.0,252.0 1071.0,251.3 1070.0,251.3 1070.0,251.0 1069.0,251.0 1069.0,254.3 1068.0,254.3 1068.0,255.1 1067.0,255.1 1067.0,256.5 1066.0,256.5 1066.0,256.5 1065.0,256.5 1065.0,256.5 1064.0,256.5 1064.0,253.3 1063.0,253.3 1063.0,255.8 1062.0,255.8 1062.0,256.7 1061.0,256.7 1061.0,256.7 1060.0,256.7 1060.0,257.7 1059.0,257.7 1059.0,257.7 1058.0,257.7 1058.0,257.7 1057.0,257.7 1057.0,256.2 1056.0,256.2 1056.0,257.8 1055.0,257.8 1055.0,257.8 1054.0,257.8 1054.0,257.8 1053.0,257.8 1053.0,252.5 1052.0,252.5 1052.0,252.5 1051.0,252.5 1051.0,256.9 1050.0,256.9 1050.0,256.9 1049.0,256.9 1049.0,256.9 1048.0,256.9 1048.0,254.8 1047.0,254.8 1047.0,254.8 1046.0,254.8 1046.0,254.0 1045.0,254.0 1045.0,250.9 1044.0,250.9 1044.0,250.2 1043.0,250.2 1043.0,250.9 1042.0,250.9 1042.0,250.9 1041.0,250.9 1041.0,250.9 1040.0,250.9 1040.0,246.9 1039.0,246.9 1039.0,247.7 1038.0,247.7 1038.0,247.7 1037.0,247.7 1037.0,247.7 1036.0,247.7 1036.0,246.0 1035.0,246.0 1035.0,248.4 1034.0,248.4 1034.0,255.2 1033.0,255.2 1033.0,255.2 1032.0,255.2 1032.0,255.2 1031.0,255.2 1031.0,249.2 1030.0,249.2 1030.0,249.2 1029.0,249.2 1029.0,250.1 1028.0,250.1 1028.0,254.1 1027.0,254.1 1027.0,254.1 1026.0,254.1 1026.0,254.1 1025.0,254.1 1025.0,254.0 1024.0,254.0 1024.0,254.0 1023.0,254.0 1023.0,254.4 1022.0,254.4 1022.0,254.4 1021.0,254.4 1021.0,254.4 1020.0,254.4 1020.0,252.0 1019.0,252.0 1019.0,252.0 1018.0,252.0 1018.0,255.9 1017.0,255.9 1017.0,255.9 1016.0,255.9 1016.0,255.9 1015.0,255.9 1015.0,252.5 1014.0,252.5 1014.0,252.5 1013.0,252.5 1013.0,248.3 1012.0,248.3 1012.0,249.9 1011.0,249.9 1011.0,249.9 1010.0,249.9 1010.0,249.9 1009.0,249.9 1009.0,249.1 1008.0,249.1 1008.0,246.4 1007.0,246.4 1007.0,249.6 1006.0,249.6 1006.0,249.6 1005.0,249.6 1005.0,249.6 1004.0,249.6 1004.0,250.1 1003.0,250.1 1003.0,250.1 1002.0,250.1 1002.0,250.1 1001.0,250.1 1001.0,249.3 1000.0,249.3 1000.0,247.8 999.0,247.8 999.0,252.5 998.0,252.5 998.0,257.3 997.0,257.3 997.0,257.3 996.0,257.3 996.0,258.0 995.0,258.0 995.0,258.0 994.0,258.0 994.0,258.0 993.0,258.0 993.0,254.4 992.0,254.4 992.0,255.1 991.0,255.1 991.0,257.0 990.0,257.0 990.0,257.0 989.0,257.0 989.0,257.0 988.0,257.0 988.0,254.6 987.0,254.6 987.0,255.4 986.0,255.4 986.0,255.4 985.0,255.4 985.0,255.4 984.0,255.4 984.0,254.8 983.0,254.8 983.0,257.4 982.0,257.4 982.0,257.4 981.0,257.4 981.0,257.4 980.0,257.4 980.0,256.6 979.0,256.6 979.0,255.6 978.0,255.6 978.0,255.6 977.0,255.6 977.0,255.6 976.0,255.6 976.0,256.9 975.0,256.9 975.0,256.9 974.0,256.9 974.0,256.9 973.0,256.9 973.0,255.8 972.0,255.8 972.0,255.8 971.0,255.8 971.0,257.0 970.0,257.0 970.0,257.0 969.0,257.0 969.0,257.0 968.0,257.0 968.0,254.2 967.0,254.2 967.0,254.2 966.0,254.2 966.0,254.2 965.0,254.2 965.0,252.7 964.0,252.7 964.0,252.7 963.0,252.7 963.0,251.1 962.0,251.1 962.0,250.4 961.0,250.4 961.0,244.1 960.0,244.1 960.0,236.7 959.0,236.7 959.0,230.9 958.0,230.9 958.0,234.2 957.0,234.2 957.0,237.9 956.0,237.9 956.0,237.9 955.0,237.9 955.0,237.9 954.0,237.9 954.0,236.6 953.0,236.6 953.0,236.6 952.0,236.6 952.0,235.8 951.0,235.8 951.0,240.0 950.0,240.0 950.0,241.8 949.0,241.8 949.0,241.8 948.0,241.8 948.0,241.8 947.0,241.8 947.0,236.2 946.0,236.2 946.0,236.2 945.0,236.2 945.0,229.2 944.0,229.2 944.0,231.9 943.0,231.9 943.0,231.9 942.0,231.9 942.0,231.9 941.0,231.9 941.0,232.6 940.0,232.6 940.0,234.5 939.0,234.5 939.0,237.4 938.0,237.4 938.0,250.2 937.0,250.2 937.0,250.2 936.0,250.2 936.0,250.2 935.0,250.2 935.0,246.1 934.0,246.1 934.0,246.1 933.0,246.1 933.0,246.1 932.0,246.1 932.0,247.1 931.0,247.1 931.0,249.4 930.0,249.4 930.0,249.4 929.0,249.4 929.0,249.4 928.0,249.4 928.0,247.4 927.0,247.4 927.0,247.4 926.0,247.4 926.0,246.7 925.0,246.7 925.0,244.4 924.0,244.4 924.0,244.4 923.0,244.4 923.0,244.7 922.0,244.7 922.0,244.7 921.0,244.7 921.0,244.7 920.0,244.7 920.0,239.6 919.0,239.6 919.0,237.8 918.0,237.8 918.0,243.2 917.0,243.2 917.0,243.2 916.0,243.2 916.0,243.2 915.0,243.2 915.0,228.4 914.0,228.4 914.0,222.7 913.0,222.7 913.0,208.0 912.0,208.0 912.0,194.5 911.0,194.5 911.0,184.7 910.0,184.7 910.0,141.9 909.0,141.9 909.0,150.8 908.0,150.8 908.0,181.4 907.0,181.4 907.0,202.5 906.0,202.5 906.0,215.8 905.0,215.8 905.0,220.0 904.0,220.0 904.0,223.8 903.0,223.8 903.0,226.7 902.0,226.7 902.0,229.0 901.0,229.0 901.0,231.2 900.0,231.2 900.0,238.6 899.0,238.6 899.0,238.6 898.0,238.6 898.0,238.6 897.0,238.6 897.0,236.4 896.0,236.4 896.0,235.8 895.0,235.8 895.0,235.8 894.0,235.8 894.0,236.7 893.0,236.7 893.0,239.1 892.0,239.1 892.0,239.7 891.0,239.7 891.0,242.4 890.0,242.4 890.0,243.9 889.0,243.9 889.0,249.2 888.0,249.2 888.0,249.2 887.0,249.2 887.0,249.2 886.0,249.2 886.0,246.6 885.0,246.6 885.0,246.6 884.0,246.6 884.0,251.2 883.0,251.2 883.0,251.2 882.0,251.2 882.0,251.2 881.0,251.2 881.0,247.7 880.0,247.7 880.0,246.8 879.0,246.8 879.0,247.4 878.0,247.4 878.0,247.4 877.0,247.4 877.0,251.6 876.0,251.6 876.0,255.6 875.0,255.6 875.0,255.6 874.0,255.6 874.0,255.6 873.0,255.6 873.0,255.4 872.0,255.4 872.0,255.4 871.0,255.4 871.0,255.4 870.0,255.4 870.0,251.7 869.0,251.7 869.0,251.7 868.0,251.7 868.0,251.2 867.0,251.2 867.0,251.2 866.0,251.2 866.0,248.4 865.0,248.4 865.0,250.7 864.0,250.7 864.0,250.7 863.0,250.7 863.0,251.0 862.0,251.0 862.0,251.3 861.0,251.3 861.0,251.3 860.0,251.3 860.0,251.3 859.0,251.3 859.0,249.4 858.0,249.4 858.0,255.5 857.0,255.5 857.0,255.5 856.0,255.5 856.0,255.5 855.0,255.5 855.0,251.4 854.0,251.4 854.0,251.4 853.0,251.4 853.0,249.7 852.0,249.7 852.0,249.7 851.0,249.7 851.0,249.7 850.0,249.7 850.0,246.0 849.0,246.0 849.0,244.4 848.0,244.4 848.0,246.0 847.0,246.0 847.0,246.0 846.0,246.0 846.0,246.0 845.0,246.0 845.0,241.6 844.0,241.6 844.0,241.6 843.0,241.6 843.0,239.2 842.0,239.2 842.0,239.8 841.0,239.8 841.0,239.8 840.0,239.8 840.0,239.8 839.0,239.8 839.0,235.1 838.0,235.1 838.0,238.2 837.0,238.2 837.0,238.2 836.0,238.2 836.0,245.2 835.0,245.2 835.0,245.2 834.0,245.2 834.0,245.2 833.0,245.2 833.0,243.0 832.0,243.0 832.0,238.2 831.0,238.2 831.0,238.3 830.0,238.3 830.0,238.3 829.0,238.3 829.0,238.3 828.0,238.3 828.0,235.6 827.0,235.6 827.0,235.6 826.0,235.6 826.0,235.6 825.0,235.6 825.0,231.0 824.0,231.0 824.0,231.0 823.0,231.0 823.0,228.8 822.0,228.8 822.0,221.4 821.0,221.4 821.0,222.0 820.0,222.0 820.0,222.0 819.0,222.0 819.0,222.0 818.0,222.0 818.0,220.3 817.0,220.3 817.0,217.5 816.0,217.5 816.0,216.3 815.0,216.3 815.0,216.3 814.0,216.3 814.0,216.3 813.0,216.3 813.0,210.7 812.0,210.7 812.0,213.1 811.0,213.1 811.0,214.2 810.0,214.2 810.0,214.2 809.0,214.2 809.0,214.2 808.0,214.2 808.0,212.5 807.0,212.5 807.0,215.7 806.0,215.7 806.0,215.7 805.0,215.7 805.0,216.0 804.0,216.0 804.0,222.6 803.0,222.6 803.0,228.1 802.0,228.1 802.0,228.1 801.0,228.1 801.0,228.1 800.0,228.1 800.0,223.8 799.0,223.8 799.0,223.8 798.0,223.8 798.0,223.8 797.0,223.8 797.0,222.9 796.0,222.9 796.0,224.7 795.0,224.7 795.0,224.7 794.0,224.7 794.0,225.1 793.0,225.1 793.0,225.1 792.0,225.1 792.0,225.1 791.0,225.1 791.0,224.0 790.0,224.0 790.0,229.9 789.0,229.9 789.0,231.4 788.0,231.4 788.0,231.4 787.0,231.4 787.0,231.4 786.0,231.4 786.0,233.0 785.0,233.0 785.0,233.0 784.0,233.0 784.0,233.0 783.0,233.0 783.0,230.3 782.0,230.3 782.0,234.5 781.0,234.5 781.0,241.5 780.0,241.5 780.0,241.5 779.0,241.5 779.0,241.5 778.0,241.5 778.0,231.7 777.0,231.7 777.0,230.5 776.0,230.5 776.0,239.6 775.0,239.6 775.0,239.6 774.0,239.6 774.0,239.6 773.0,239.6 773.0,236.7 772.0,236.7 772.0,243.0 771.0,243.0 771.0,243.0 770.0,243.0 770.0,243.0 769.0,243.0 769.0,237.9 768.0,237.9 768.0,237.9 767.0,237.9 767.0,240.8 766.0,240.8 766.0,240.8 765.0,240.8 765.0,240.8 764.0,240.8 764.0,239.0 763.0,239.0 763.0,237.5 762.0,237.5 762.0,239.8 761.0,239.8 761.0,239.9 760.0,239.9 760.0,239.9 759.0,239.9 759.0,239.9 758.0,239.9 758.0,239.1 757.0,239.1 757.0,243.6 756.0,243.6 756.0,243.6 755.0,243.6 755.0,243.6 754.0,243.6 754.0,243.5 753.0,243.5 753.0,247.3 752.0,247.3 752.0,253.9 751.0,253.9 751.0,253.9 750.0,253.9 750.0,253.9 749.0,253.9 749.0,247.2 748.0,247.2 748.0,247.2 747.0,247.2 747.0,243.6 746.0,243.6 746.0,243.6 745.0,243.6 745.0,241.2 744.0,241.2 744.0,241.2 743.0,241.2 743.0,242.5 742.0,242.5 742.0,242.5 741.0,242.5 741.0,242.5 740.0,242.5 740.0,239.0 739.0,239.0 739.0,234.4 738.0,234.4 738.0,234.4 737.0,234.4 737.0,235.3 736.0,235.3 736.0,235.3 735.0,235.3 735.0,235.3 734.0,235.3 734.0,235.2 733.0,235.2 733.0,235.2 732.0,235.2 732.0,236.4 731.0,236.4 731.0,236.4 730.0,236.4 730.0,236.4 729.0,236.4 729.0,233.7 728.0,233.7 728.0,233.8 727.0,233.8 727.0,238.2 726.0,238.2 726.0,238.2 725.0,238.2 725.0,238.2 724.0,238.2 724.0,243.5 723.0,243.5 723.0,243.5 722.0,243.5 722.0,243.5 721.0,243.5 721.0,240.9 720.0,240.9 720.0,244.0 719.0,244.0 719.0,244.6 718.0,244.6 718.0,244.6 717.0,244.6 717.0,244.6 716.0,244.6 716.0,244.8 715.0,244.8 715.0,247.3 714.0,247.3 714.0,247.3 713.0,247.3 713.0,247.3 712.0,247.3 712.0,245.4 711.0,245.4 711.0,245.4 710.0,245.4 710.0,245.4 709.0,245.4 709.0,244.7 708.0,244.7 708.0,244.7 707.0,244.7 707.0,248.3 706.0,248.3 706.0,248.3 705.0,248.3 705.0,248.3 704.0,248.3 704.0,243.5 703.0,243.5 703.0,243.5 702.0,243.5 702.0,240.7 701.0,240.7 701.0,240.7 700.0,240.7 700.0,243.6 699.0,243.6 699.0,243.6 698.0,243.6 698.0,243.6 697.0,243.6 697.0,241.8 696.0,241.8 696.0,242.0 695.0,242.0 695.0,242.0 694.0,242.0 694.0,242.0 693.0,242.0 693.0,242.6 692.0,242.6 692.0,242.6 691.0,242.6 691.0,242.6 690.0,242.6 690.0,242.6 689.0,242.6 689.0,242.6 688.0,242.6 688.0,245.4 687.0,245.4 687.0,245.4 686.0,245.4 686.0,245.4 685.0,245.4 685.0,241.2 684.0,241.2 684.0,239.6 683.0,239.6 683.0,239.8 682.0,239.8 682.0,239.8 681.0,239.8 681.0,241.1 680.0,241.1 680.0,241.1 679.0,241.1 679.0,241.1 678.0,241.1 678.0,240.8 677.0,240.8 677.0,234.8 676.0,234.8 676.0,235.7 675.0,235.7 675.0,235.7 674.0,235.7 674.0,235.7 673.0,235.7 673.0,232.9 672.0,232.9 672.0,225.6 671.0,225.6 671.0,225.6 670.0,225.6 670.0,216.1 669.0,216.1 669.0,213.8 668.0,213.8 668.0,213.2 667.0,213.2 667.0,203.0 666.0,203.0 666.0,195.7 665.0,195.7 665.0,195.7 664.0,195.7 664.0,191.4 663.0,191.4 663.0,196.4 662.0,196.4 662.0,196.4 661.0,196.4 661.0,196.4 660.0,196.4 660.0,185.0 659.0,185.0 659.0,188.9 658.0,188.9 658.0,188.9 657.0,188.9 657.0,188.9 656.0,188.9 656.0,185.0 655.0,185.0 655.0,185.0 654.0,185.0 654.0,175.9 653.0,175.9 653.0,168.0 652.0,168.0 652.0,159.0 651.0,159.0 651.0,153.8 650.0,153.8 650.0,148.5 649.0,148.5 649.0,148.5 648.0,148.5 648.0,148.5 647.0,148.5 647.0,142.3 646.0,142.3 646.0,142.3 645.0,142.3 645.0,133.4 644.0,133.4 644.0,129.2 643.0,129.2 643.0,129.2 642.0,129.2 642.0,121.7 641.0,121.7 641.0,121.1 640.0,121.1 640.0,104.2 639.0,104.2 639.0,95.3 638.0,95.3 638.0,89.5 637.0,89.5 637.0,82.4 636.0,82.4 636.0,90.6 635.0,90.6 635.0,97.0 634.0,97.0 634.0,109.9 633.0,109.9 633.0,123.2 632.0,123.2 632.0,132.6 631.0,132.6 631.0,145.4 630.0,145.4 630.0,157.4 629.0,157.4 629.0,164.6 628.0,164.6 628.0,174.6 627.0,174.6 627.0,176.4 626.0,176.4 626.0,191.0 625.0,191.0 625.0,196.3 624.0,196.3 624.0,204.5 623.0,204.5 623.0,204.7 622.0,204.7 622.0,206.0 621.0,206.0 621.0,209.4 620.0,209.4 620.0,216.5 619.0,216.5 619.0,216.5 618.0,216.5 618.0,216.5 617.0,216.5 617.0,212.9 616.0,212.9 616.0,212.9 615.0,212.9 615.0,210.4 614.0,210.4 614.0,210.6 613.0,210.6 613.0,217.1 612.0,217.1 612.0,228.8 611.0,228.8 611.0,228.8 610.0,228.8 610.0,228.8 609.0,228.8 609.0,224.7 608.0,224.7 608.0,225.4 607.0,225.4 607.0,230.3 606.0,230.3 606.0,230.3 605.0,230.3 605.0,230.3 604.0,230.3 604.0,228.0 603.0,228.0 603.0,228.0 602.0,228.0 602.0,231.7 601.0,231.7 601.0,231.7 600.0,231.7 600.0,231.7 599.0,231.7 599.0,230.6 598.0,230.6 598.0,230.6 597.0,230.6 597.0,230.6 596.0,230.6 596.0,226.4 595.0,226.4 595.0,226.4 594.0,226.4 594.0,225.4 593.0,225.4 593.0,225.4 592.0,225.4 592.0,222.6 591.0,222.6 591.0,222.6 590.0,222.6 590.0,210.0 589.0,210.0 589.0,216.9 588.0,216.9 588.0,219.1 587.0,219.1 587.0,221.2 586.0,221.2 586.0,221.2 585.0,221.2 585.0,221.2 584.0,221.2 584.0,209.2 583.0,209.2 583.0,213.2 582.0,213.2 582.0,214.0 581.0,214.0 581.0,216.1 580.0,216.1 580.0,216.1 579.0,216.1 579.0,216.1 578.0,216.1 578.0,209.4 577.0,209.4 577.0,207.2 576.0,207.2 576.0,205.6 575.0,205.6 575.0,217.2 574.0,217.2 574.0,221.1 573.0,221.1 573.0,221.1 572.0,221.1 572.0,221.1 571.0,221.1 571.0,222.5 570.0,222.5 570.0,225.1 569.0,225.1 569.0,225.1 568.0,225.1 568.0,225.1 567.0,225.1 567.0,221.7 566.0,221.7 566.0,216.5 565.0,216.5 565.0,216.5 564.0,216.5 564.0,214.4 563.0,214.4 563.0,213.4 562.0,213.4 562.0,208.4 561.0,208.4 561.0,206.8 560.0,206.8 560.0,211.9 559.0,211.9 559.0,212.0 558.0,212.0 558.0,220.5 557.0,220.5 557.0,221.3 556.0,221.3 556.0,221.6 555.0,221.6 555.0,221.6 554.0,221.6 554.0,221.6 553.0,221.6 553.0,220.3 552.0,220.3 552.0,219.3 551.0,219.3 551.0,219.3 550.0,219.3 550.0,214.2 549.0,214.2 549.0,202.1 548.0,202.1 548.0,206.4 547.0,206.4 547.0,206.4 546.0,206.4 546.0,206.4 545.0,206.4 545.0,205.5 544.0,205.5 544.0,203.1 543.0,203.1 543.0,203.1 542.0,203.1 542.0,203.1 541.0,203.1 541.0,202.8 540.0,202.8 540.0,202.8 539.0,202.8 539.0,189.9 538.0,189.9 538.0,186.0 537.0,186.0 537.0,196.2 536.0,196.2 536.0,198.3 535.0,198.3 535.0,204.9 534.0,204.9 534.0,211.0 533.0,211.0 533.0,215.0 532.0,215.0 532.0,215.0 531.0,215.0 531.0,215.0 530.0,215.0 530.0,218.3 529.0,218.3 529.0,225.5 528.0,225.5 528.0,225.5 527.0,225.5 527.0,225.5 526.0,225.5 526.0,218.0 525.0,218.0 525.0,218.6 524.0,218.6 524.0,223.6 523.0,223.6 523.0,223.6 522.0,223.6 522.0,224.7 521.0,224.7 521.0,224.7 520.0,224.7 520.0,224.7 519.0,224.7 519.0,221.8 518.0,221.8 518.0,219.4 517.0,219.4 517.0,222.7 516.0,222.7 516.0,222.7 515.0,222.7 515.0,222.7 514.0,222.7 514.0,217.2 513.0,217.2 513.0,216.4 512.0,216.4 512.0,213.9 511.0,213.9 511.0,209.4 510.0,209.4 510.0,203.9 509.0,203.9 509.0,213.2 508.0,213.2 508.0,213.2 507.0,213.2 507.0,213.2 506.0,213.2 506.0,205.4 505.0,205.4 505.0,205.3 504.0,205.3 504.0,212.8 503.0,212.8 503.0,220.5 502.0,220.5 502.0,220.5 501.0,220.5 501.0,226.6 500.0,226.6 500.0,226.6 499.0,226.6 499.0,226.6 498.0,226.6 498.0,229.1 497.0,229.1 497.0,229.1 496.0,229.1 496.0,229.1 495.0,229.1 495.0,234.4 494.0,234.4 494.0,234.4 493.0,234.4 493.0,234.4 492.0,234.4 492.0,229.5 491.0,229.5 491.0,229.5 490.0,229.5 490.0,224.2 489.0,224.2 489.0,224.2 488.0,224.2 488.0,221.1 487.0,221.1 487.0,211.1 486.0,211.1 486.0,221.2 485.0,221.2 485.0,227.9 484.0,227.9 484.0,227.9 483.0,227.9 483.0,229.7 482.0,229.7 482.0,235.0 481.0,235.0 481.0,235.0 480.0,235.0 480.0,235.0 479.0,235.0 479.0,235.4 478.0,235.4 478.0,235.4 477.0,235.4 477.0,235.4 476.0,235.4 476.0,231.6 475.0,231.6 475.0,231.6 474.0,231.6 474.0,231.6 473.0,231.6 473.0,216.0 472.0,216.0 472.0,215.2 471.0,215.2 471.0,222.9 470.0,222.9 470.0,228.5 469.0,228.5 469.0,233.8 468.0,233.8 468.0,233.8 467.0,233.8 467.0,233.8 466.0,233.8 466.0,233.5 465.0,233.5 465.0,233.9 464.0,233.9 464.0,235.9 463.0,235.9 463.0,235.9 462.0,235.9 462.0,235.9 461.0,235.9 461.0,236.3 460.0,236.3 460.0,236.3 459.0,236.3 459.0,236.3 458.0,236.3 458.0,233.7 457.0,233.7 457.0,233.7 456.0,233.7 456.0,231.5 455.0,231.5 455.0,231.9 454.0,231.9 454.0,233.7 453.0,233.7 453.0,233.7 452.0,233.7 452.0,233.7 451.0,233.7 451.0,236.0 450.0,236.0 450.0,236.0 449.0,236.0 449.0,236.0 448.0,236.0 448.0,228.8 447.0,228.8 447.0,224.7 446.0,224.7 446.0,231.1 445.0,231.1 445.0,231.1 444.0,231.1 444.0,237.5 443.0,237.5 443.0,237.5 442.0,237.5 442.0,237.5 441.0,237.5 441.0,233.7 440.0,233.7 440.0,233.7 439.0,233.7 439.0,233.7 438.0,233.7 438.0,229.4 437.0,229.4 437.0,221.5 436.0,221.5 436.0,219.0 435.0,219.0 435.0,231.2 434.0,231.2 434.0,231.2 433.0,231.2 433.0,231.2 432.0,231.2 432.0,226.6 431.0,226.6 431.0,232.6 430.0,232.6 430.0,232.6 429.0,232.6 429.0,232.6 428.0,232.6 428.0,227.5 427.0,227.5 427.0,224.8 426.0,224.8 426.0,224.7 425.0,224.7 425.0,228.2 424.0,228.2 424.0,228.2 423.0,228.2 423.0,228.2 422.0,228.2 422.0,222.2 421.0,222.2 421.0,221.3 420.0,221.3 420.0,220.3 419.0,220.3 419.0,219.7 418.0,219.7 418.0,213.9 417.0,213.9 417.0,217.8 416.0,217.8 416.0,217.8 415.0,217.8 415.0,217.8 414.0,217.8 414.0,210.4 413.0,210.4 413.0,193.6 412.0,193.6 412.0,162.2 411.0,162.2 411.0,163.7 410.0,163.7 410.0,167.5 409.0,167.5 409.0,167.5 408.0,167.5 408.0,175.7 407.0,175.7 407.0,175.7 406.0,175.7 406.0,175.7 405.0,175.7 405.0,175.7 404.0,175.7 404.0,183.3 403.0,183.3 403.0,183.3 402.0,183.3 402.0,183.3 401.0,183.3 401.0,179.6 400.0,179.6 400.0,186.2 399.0,186.2 399.0,188.5 398.0,188.5 398.0,188.5 397.0,188.5 397.0,188.5 396.0,188.5 396.0,184.5 395.0,184.5 395.0,184.5 394.0,184.5 394.0,178.3 393.0,178.3 393.0,178.3 392.0,178.3 392.0,179.7 391.0,179.7 391.0,185.4 390.0,185.4 390.0,189.7 389.0,189.7 389.0,189.7 388.0,189.7 388.0,189.7 387.0,189.7 387.0,197.3 386.0,197.3 386.0,197.3 385.0,197.3 385.0,202.5 384.0,202.5 384.0,202.5 383.0,202.5 383.0,202.5 382.0,202.5 382.0,196.3 381.0,196.3 381.0,199.0 380.0,199.0 380.0,199.9 379.0,199.9 379.0,199.9 378.0,199.9 378.0,199.9 377.0,199.9 377.0,190.1 376.0,190.1 376.0,197.7 375.0,197.7 375.0,199.7 374.0,199.7 374.0,199.7 373.0,199.7 373.0,199.7 372.0,199.7 372.0,198.0 371.0,198.0 371.0,194.5 370.0,194.5 370.0,194.5 369.0,194.5 369.0,191.0 368.0,191.0 368.0,192.8 367.0,192.8 367.0,192.8 366.0,192.8 366.0,193.2 365.0,193.2 365.0,193.2 364.0,193.2 364.0,193.2 363.0,193.2 363.0,182.9 362.0,182.9 362.0,181.3 361.0,181.3 361.0,181.1 360.0,181.1 360.0,183.0 359.0,183.0 359.0,183.3 358.0,183.3 358.0,189.6 357.0,189.6 357.0,189.7 356.0,189.7 356.0,195.1 355.0,195.1 355.0,197.8 354.0,197.8 354.0,203.1 353.0,203.1 353.0,203.1 352.0,203.1 352.0,206.8 351.0,206.8 351.0,206.8 350.0,206.8 350.0,206.8 349.0,206.8 349.0,205.8 348.0,205.8 348.0,213.4 347.0,213.4 347.0,220.7 346.0,220.7 346.0,225.2 345.0,225.2 345.0,228.2 344.0,228.2 344.0,228.2 343.0,228.2 343.0,231.4 342.0,231.4 342.0,232.9 341.0,232.9 341.0,236.0 340.0,236.0 340.0,236.0 339.0,236.0 339.0,237.8 338.0,237.8 338.0,241.5 337.0,241.5 337.0,241.5 336.0,241.5 336.0,241.5 335.0,241.5 335.0,238.1 334.0,238.1 334.0,238.1 333.0,238.1 333.0,234.8 332.0,234.8 332.0,234.8 331.0,234.8 331.0,226.1 330.0,226.1 330.0,237.8 329.0,237.8 329.0,237.8 328.0,237.8 328.0,237.8 327.0,237.8 327.0,233.5 326.0,233.5 326.0,235.4 325.0,235.4 325.0,237.9 324.0,237.9 324.0,237.9 323.0,237.9 323.0,237.9 322.0,237.9 322.0,235.9 321.0,235.9 321.0,238.5 320.0,238.5 320.0,238.7 319.0,238.7 319.0,238.7 318.0,238.7 318.0,238.7 317.0,238.7 317.0,235.2 316.0,235.2 316.0,238.2 315.0,238.2 315.0,238.2 314.0,238.2 314.0,238.2 313.0,238.2 313.0,233.0 312.0,233.0 312.0,229.5 311.0,229.5 311.0,230.2 310.0,230.2 310.0,230.2 309.0,230.2 309.0,232.7 308.0,232.7 308.0,233.1 307.0,233.1 307.0,234.4 306.0,234.4 306.0,234.5 305.0,234.5 305.0,234.9 304.0,234.9 304.0,237.1 303.0,237.1 303.0,240.4 302.0,240.4 302.0,240.4 301.0,240.4 301.0,240.4 300.0,240.4 300.0,241.9 299.0,241.9 299.0,241.9 298.0,241.9 298.0,241.9 297.0,241.9 297.0,245.3 296.0,245.3 296.0,245.3 295.0,245.3 295.0,245.3 294.0,245.3 294.0,235.2 293.0,235.2 293.0,236.4 292.0,236.4 292.0,236.4 291.0,236.4 291.0,236.4 290.0,236.4 290.0,235.2 289.0,235.2 289.0,235.2 288.0,235.2 288.0,236.1 287.0,236.1 287.0,237.8 286.0,237.8 286.0,237.8 285.0,237.8 285.0,240.3 284.0,240.3 284.0,240.3 283.0,240.3 283.0,240.3 282.0,240.3 282.0,239.3 281.0,239.3 281.0,239.3 280.0,239.3 280.0,236.0 279.0,236.0 279.0,239.0 278.0,239.0 278.0,239.0 277.0,239.0 277.0,239.0 276.0,239.0 276.0,235.4 275.0,235.4 275.0,239.1 274.0,239.1 274.0,239.1 273.0,239.1 273.0,239.1 272.0,239.1 272.0,235.6 271.0,235.6 271.0,235.6 270.0,235.6 270.0,238.5 269.0,238.5 269.0,238.5 268.0,238.5 268.0,238.5 267.0,238.5 267.0,236.0 266.0,236.0 266.0,236.0 265.0,236.0 265.0,233.3 264.0,233.3 264.0,233.3 263.0,233.3 263.0,232.0 262.0,232.0 262.0,232.0 261.0,232.0 261.0,232.0 260.0,232.0 260.0,236.1 259.0,236.1 259.0,236.1 258.0,236.1 258.0,236.1 257.0,236.1 257.0,235.2 256.0,235.2 256.0,230.4 255.0,230.4 255.0,228.2 254.0,228.2 254.0,229.3 253.0,229.3 253.0,229.3 252.0,229.3 252.0,229.3 251.0,229.3 251.0,226.6 250.0,226.6 250.0,226.6 249.0,226.6 249.0,232.4 248.0,232.4 248.0,232.4 247.0,232.4 247.0,232.4 246.0,232.4 246.0,229.3 245.0,229.3 245.0,225.2 244.0,225.2 244.0,219.0 243.0,219.0 243.0,223.8 242.0,223.8 242.0,225.3 241.0,225.3 241.0,225.3 240.0,225.3 240.0,225.3 239.0,225.3 239.0,220.6 238.0,220.6 238.0,221.5 237.0,221.5 237.0,221.5 236.0,221.5 236.0,221.5 235.0,221.5 235.0,217.1 234.0,217.1 234.0,214.0 233.0,214.0 233.0,214.0 232.0,214.0 232.0,215.1 231.0,215.1 231.0,215.1 230.0,215.1 230.0,215.1 229.0,215.1 229.0,211.0 228.0,211.0 228.0,211.0 227.0,211.0 227.0,209.1 226.0,209.1 226.0,206.5 225.0,206.5 225.0,206.1 224.0,206.1 224.0,201.4 223.0,201.4 223.0,201.4 222.0,201.4 222.0,204.0 221.0,204.0 221.0,204.0 220.0,204.0 220.0,204.0 219.0,204.0 219.0,203.0 218.0,203.0 218.0,203.0 217.0,203.0Z" fill="#000" stroke="none"/>
<g fill="#000">
<rect x="215" y="12" width="1036" height="5"/>
<rect x="215" y="291" width="1036" height="5"/>
<rect x="215" y="570" width="1036" height="5"/>
<rect x="215" y="850" width="1036" height="4.5"/>
<rect x="215" y="1129" width="1036" height="5"/>
<rect x="215" y="1408.8" width="1036" height="4.2"/>
<rect x="215" y="12" width="5" height="1401"/>
<rect x="1246" y="12" width="5" height="1401"/>
<rect x="219" y="41.3" width="21" height="4.4"/>
<text transform="matrix(1.0750 0 0 1.0000 123.94 55.27)" font-size="40.0">800</text>
<rect x="219" y="100.2" width="21" height="4.4"/>
<text transform="matrix(1.0750 0 0 1.0000 123.94 114.17)" font-size="40.0">600</text>
<rect x="219" y="158.7" width="21" height="4.4"/>
<text transform="matrix(1.0750 0 0 1.0000 123.94 172.67)" font-size="40.0">400</text>
<rect x="219" y="217.4" width="21" height="4.4"/>
<text transform="matrix(1.0750 0 0 1.0000 123.94 231.37)" font-size="40.0">200</text>
<rect x="219" y="276.7" width="21" height="4.4"/>
<text transform="matrix(1.0750 0 0 1.0000 171.77 290.67)" font-size="40.0">0</text>
<rect x="219" y="70.8" width="11" height="4.4"/>
<rect x="219" y="129.5" width="11" height="4.4"/>
<rect x="219" y="188.1" width="11" height="4.4"/>
<rect x="219" y="247.1" width="11" height="4.4"/>
<rect x="219" y="351.2" width="21" height="4.4"/>
<text transform="matrix(1.0750 0 0 1.0000 88.07 365.17)" font-size="40.0">4,500</text>
<rect x="219" y="415.2" width="21" height="4.4"/>
<text transform="matrix(1.0750 0 0 1.0000 88.07 429.17)" font-size="40.0">3,000</text>
<rect x="219" y="479.3" width="21" height="4.4"/>
<text transform="matrix(1.0750 0 0 1.0000 88.07 493.27)" font-size="40.0">1,500</text>
<rect x="219" y="543.4" width="21" height="4.4"/>
<text transform="matrix(1.0750 0 0 1.0000 171.77 557.37)" font-size="40.0">0</text>
<rect x="219" y="383.2" width="11" height="4.4"/>
<rect x="219" y="447.2" width="11" height="4.4"/>
<rect x="219" y="511.3" width="11" height="4.4"/>
<rect x="219" y="319.2" width="11" height="4.4"/>
<rect x="219" y="632.5" width="21" height="4.4"/>
<text transform="matrix(1.0750 0 0 1.0000 88.07 646.47)" font-size="40.0">9,000</text>
<rect x="219" y="696.4" width="21" height="4.4"/>
<text transform="matrix(1.0750 0 0 1.0000 88.07 710.37)" font-size="40.0">6,000</text>
<rect x="219" y="760.6" width="21" height="4.4"/>
<text transform="matrix(1.0750 0 0 1.0000 88.07 774.57)" font-size="40.0">3,000</text>
<rect x="219" y="824.3" width="21" height="4.4"/>
<text transform="matrix(1.0750 0 0 1.0000 171.77 838.27)" font-size="40.0">0</text>
<rect x="219" y="664.5" width="11" height="4.4"/>
<rect x="219" y="728.5" width="11" height="4.4"/>
<rect x="219" y="792.4" width="11" height="4.4"/>
<rect x="219" y="600.5" width="11" height="4.4"/>
<rect x="219" y="911.6" width="21" height="4.4"/>
<text transform="matrix(1.0750 0 0 1.0000 88.07 925.57)" font-size="40.0">6,000</text>
<rect x="219" y="975.7" width="21" height="4.4"/>
<text transform="matrix(1.0750 0 0 1.0000 88.07 989.67)" font-size="40.0">4,000</text>
<rect x="219" y="1039.7" width="21" height="4.4"/>
<text transform="matrix(1.0750 0 0 1.0000 88.07 1053.67)" font-size="40.0">2,000</text>
<rect x="219" y="1104.0" width="21" height="4.4"/>
<text transform="matrix(1.0750 0 0 1.0000 171.77 1117.97)" font-size="40.0">0</text>
<rect x="219" y="943.6" width="11" height="4.4"/>
<rect x="219" y="1007.7" width="11" height="4.4"/>
<rect x="219" y="1071.9" width="11" height="4.4"/>
<rect x="219" y="879.5" width="11" height="4.4"/>
<rect x="219" y="1129.3" width="21" height="4.4"/>
<text transform="matrix(1.0750 0 0 1.0000 88.07 1143.27)" font-size="40.0">4,000</text>
<rect x="219" y="1192.8" width="21" height="4.4"/>
<text transform="matrix(1.0750 0 0 1.0000 88.07 1206.77)" font-size="40.0">3,000</text>
<rect x="219" y="1256.1" width="21" height="4.4"/>
<text transform="matrix(1.0750 0 0 1.0000 88.07 1270.07)" font-size="40.0">2,000</text>
<rect x="219" y="1319.4" width="21" height="4.4"/>
<text transform="matrix(1.0750 0 0 1.0000 88.07 1333.37)" font-size="40.0">1,000</text>
<rect x="219" y="1383.2" width="21" height="4.4"/>
<text transform="matrix(1.0750 0 0 1.0000 171.77 1397.17)" font-size="40.0">0</text>
<rect x="219" y="1161.0" width="11" height="4.4"/>
<rect x="219" y="1224.5" width="11" height="4.4"/>
<rect x="219" y="1287.7" width="11" height="4.4"/>
<rect x="219" y="1351.3" width="11" height="4.4"/>
<rect x="279.9" y="273.0" width="4" height="18.5"/>
<rect x="344.4" y="282.0" width="4" height="9.5"/>
<rect x="408.8" y="273.0" width="4" height="18.5"/>
<rect x="473.2" y="282.0" width="4" height="9.5"/>
<rect x="537.7" y="273.0" width="4" height="18.5"/>
<rect x="602.1" y="282.0" width="4" height="9.5"/>
<rect x="666.6" y="273.0" width="4" height="18.5"/>
<rect x="731.0" y="282.0" width="4" height="9.5"/>
<rect x="795.4" y="273.0" width="4" height="18.5"/>
<rect x="859.9" y="282.0" width="4" height="9.5"/>
<rect x="924.3" y="273.0" width="4" height="18.5"/>
<rect x="988.8" y="282.0" width="4" height="9.5"/>
<rect x="1053.2" y="273.0" width="4" height="18.5"/>
<rect x="1117.6" y="282.0" width="4" height="9.5"/>
<rect x="1182.1" y="273.0" width="4" height="18.5"/>
<rect x="279.9" y="1390.8" width="4" height="18.5"/>
<rect x="344.4" y="1399.8" width="4" height="9.5"/>
<rect x="408.8" y="1390.8" width="4" height="18.5"/>
<rect x="473.2" y="1399.8" width="4" height="9.5"/>
<rect x="537.7" y="1390.8" width="4" height="18.5"/>
<rect x="602.1" y="1399.8" width="4" height="9.5"/>
<rect x="666.6" y="1390.8" width="4" height="18.5"/>
<rect x="731.0" y="1399.8" width="4" height="9.5"/>
<rect x="795.4" y="1390.8" width="4" height="18.5"/>
<rect x="859.9" y="1399.8" width="4" height="9.5"/>
<rect x="924.3" y="1390.8" width="4" height="18.5"/>
<rect x="988.8" y="1399.8" width="4" height="9.5"/>
<rect x="1053.2" y="1390.8" width="4" height="18.5"/>
<rect x="1117.6" y="1399.8" width="4" height="9.5"/>
<rect x="1182.1" y="1390.8" width="4" height="18.5"/>
<text transform="matrix(1.0750 0 0 1.0000 258.02 1459.73)" font-size="40.0">10</text>
<text transform="matrix(1.0750 0 0 1.0000 386.90 1459.73)" font-size="40.0">20</text>
<text transform="matrix(1.0750 0 0 1.0000 515.77 1459.73)" font-size="40.0">30</text>
<text transform="matrix(1.0750 0 0 1.0000 644.65 1459.73)" font-size="40.0">40</text>
<text transform="matrix(1.0750 0 0 1.0000 773.52 1459.73)" font-size="40.0">50</text>
<text transform="matrix(1.0750 0 0 1.0000 902.40 1459.73)" font-size="40.0">60</text>
<text transform="matrix(1.0750 0 0 1.0000 1031.27 1459.73)" font-size="40.0">70</text>
<text transform="matrix(1.0750 0 0 1.0000 1160.15 1459.73)" font-size="40.0">80</text>
<text transform="matrix(0.5810 0 0 0.4978 506.10 1527.67)" font-size="100">Two-Theta(deg)</text>
<text transform="matrix(0 -0.5199 0.4871 0 46.69 869.60)" font-size="100">Intensity(cps)</text>
<text transform="matrix(1.0808 0 0 1.0000 1036.85 63.10)" font-size="44.0">(e)-200</text><text transform="matrix(1.0700 0 0 1.0000 1188.76 62.41)" font-size="49.28">°</text><text transform="matrix(1.1400 0 0 1.0000 1205.89 62.97)" font-size="44.0">C</text>
<text transform="matrix(1.0779 0 0 1.0000 1037.66 342.90)" font-size="44.0">(d)-180</text><text transform="matrix(1.0700 0 0 1.0000 1189.16 342.21)" font-size="49.28">°</text><text transform="matrix(1.1400 0 0 1.0000 1206.29 342.77)" font-size="44.0">C</text>
<text transform="matrix(1.0740 0 0 1.0000 1037.67 624.00)" font-size="44.0">(c)-160</text><text transform="matrix(1.0700 0 0 1.0000 1185.96 623.31)" font-size="49.28">°</text><text transform="matrix(1.1400 0 0 1.0000 1203.09 623.87)" font-size="44.0">C</text>
<text transform="matrix(1.0714 0 0 1.0000 1036.88 899.00)" font-size="44.0">(b)-140</text><text transform="matrix(1.0700 0 0 1.0000 1187.56 898.31)" font-size="49.28">°</text><text transform="matrix(1.1400 0 0 1.0000 1204.69 898.87)" font-size="44.0">C</text>
<text transform="matrix(1.0750 0 0 1.0000 1037.67 1179.00)" font-size="44.0">(a)-120</text><text transform="matrix(1.0700 0 0 1.0000 1188.76 1178.31)" font-size="49.28">°</text><text transform="matrix(1.1400 0 0 1.0000 1205.89 1178.87)" font-size="44.0">C</text>
<text transform="matrix(1.0660 0 0 1.0000 342.77 157.28)" font-size="40.5">M</text>
<text transform="matrix(1.0550 0 0 1.0000 376.76 125.28)" font-size="40.5">H</text>
<text transform="matrix(1.0660 0 0 1.0000 403.77 137.23)" font-size="40.5">M</text>
<text transform="matrix(1.0660 0 0 1.0000 430.77 159.23)" font-size="40.5">M</text>
<text transform="matrix(1.0550 0 0 1.0000 627.06 60.03)" font-size="40.5">H</text>
<text transform="matrix(1.0550 0 0 1.0000 798.86 184.23)" font-size="40.5">H</text>
<text transform="matrix(1.0550 0 0 1.0000 897.86 96.43)" font-size="40.5">H</text>
<text transform="matrix(1.0550 0 0 1.0000 937.86 205.28)" font-size="40.5">H</text>
<text transform="matrix(1.0550 0 0 1.0000 1069.96 229.18)" font-size="40.5">H</text>
<text transform="matrix(1.0950 0 0 1.0000 278.63 522.30)" font-size="39.8">S</text>
<text transform="matrix(1.0950 0 0 1.0000 305.28 435.00)" font-size="39.8">S</text>
<text transform="matrix(1.0950 0 0 1.0000 362.18 341.10)" font-size="39.8">S</text>
<text transform="matrix(1.0950 0 0 1.0000 438.28 419.90)" font-size="39.8">S</text>
<text transform="matrix(1.0950 0 0 1.0000 447.43 482.10)" font-size="39.8">S</text>
<text transform="matrix(1.0950 0 0 1.0000 474.33 518.80)" font-size="39.8">S</text>
<text transform="matrix(1.0950 0 0 1.0000 529.23 513.15)" font-size="39.8">S</text>
<text transform="matrix(1.0950 0 0 1.0000 579.33 500.30)" font-size="39.8">S</text>
<text transform="matrix(1.0950 0 0 1.0000 610.13 522.05)" font-size="39.8">S</text>
<text transform="matrix(1.0950 0 0 1.0000 656.08 491.00)" font-size="39.8">S</text>
<text transform="matrix(1.0950 0 0 1.0000 707.93 513.15)" font-size="39.8">S</text>
<text transform="matrix(1.0950 0 0 1.0000 727.68 495.00)" font-size="39.8">S</text>
<text transform="matrix(1.0950 0 0 1.0000 757.63 523.85)" font-size="39.8">S</text>
<text transform="matrix(1.0950 0 0 1.0000 821.93 528.20)" font-size="39.8">S</text>
<text transform="matrix(1.0950 0 0 1.0000 845.63 515.20)" font-size="39.8">S</text>
<text transform="matrix(1.0950 0 0 1.0000 880.13 523.85)" font-size="39.8">S</text>
<text transform="matrix(1.0950 0 0 1.0000 930.03 525.00)" font-size="39.8">S</text>
<text transform="matrix(1.0950 0 0 1.0000 1005.28 533.85)" font-size="39.8">S</text>
<text transform="matrix(1.0950 0 0 1.0000 1048.03 528.20)" font-size="39.8">S</text>
<text transform="matrix(1.0950 0 0 1.0000 281.28 812.40)" font-size="39.8">S</text>
<text transform="matrix(1.0950 0 0 1.0000 305.43 727.00)" font-size="39.8">S</text>
<text transform="matrix(1.0950 0 0 1.0000 362.38 642.80)" font-size="39.8">S</text>
<text transform="matrix(1.0950 0 0 1.0000 437.48 699.90)" font-size="39.8">S</text>
<text transform="matrix(1.0950 0 0 1.0000 453.23 791.10)" font-size="39.8">S</text>
<text transform="matrix(1.0950 0 0 1.0000 474.43 814.15)" font-size="39.8">S</text>
<text transform="matrix(1.0950 0 0 1.0000 528.43 805.50)" font-size="39.8">S</text>
<text transform="matrix(1.0950 0 0 1.0000 583.38 797.25)" font-size="39.8">S</text>
<text transform="matrix(1.0950 0 0 1.0000 613.33 812.40)" font-size="39.8">S</text>
<text transform="matrix(1.0950 0 0 1.0000 657.28 781.00)" font-size="39.8">S</text>
<text transform="matrix(1.0950 0 0 1.0000 714.08 802.10)" font-size="39.8">S</text>
<text transform="matrix(1.0950 0 0 1.0000 727.63 770.90)" font-size="39.8">S</text>
<text transform="matrix(1.0950 0 0 1.0000 758.53 813.70)" font-size="39.8">S</text>
<text transform="matrix(1.0950 0 0 1.0000 823.33 808.00)" font-size="39.8">S</text>
<text transform="matrix(1.0950 0 0 1.0000 853.53 799.00)" font-size="39.8">S</text>
<text transform="matrix(1.0950 0 0 1.0000 927.23 808.00)" font-size="39.8">S</text>
<text transform="matrix(1.0950 0 0 1.0000 1001.33 811.15)" font-size="39.8">S</text>
<text transform="matrix(1.0950 0 0 1.0000 1048.28 811.15)" font-size="39.8">S</text>
<text transform="matrix(1.0950 0 0 1.0000 281.43 1096.10)" font-size="39.8">S</text>
<text transform="matrix(1.0950 0 0 1.0000 305.43 1008.20)" font-size="39.8">S</text>
<text transform="matrix(1.0950 0 0 1.0000 363.23 923.00)" font-size="39.8">S</text>
<text transform="matrix(1.0550 0 0 1.0000 383.81 1095.13)" font-size="40.5">H</text>
<text transform="matrix(1.0950 0 0 1.0000 421.23 1078.90)" font-size="39.8">S</text>
<text transform="matrix(1.0950 0 0 1.0000 434.43 991.95)" font-size="39.8">S</text>
<text transform="matrix(1.0950 0 0 1.0000 449.83 1072.95)" font-size="39.8">S</text>
<text transform="matrix(1.0950 0 0 1.0000 477.48 1085.50)" font-size="39.8">S</text>
<text transform="matrix(1.0950 0 0 1.0000 528.43 1071.50)" font-size="39.8">S</text>
<text transform="matrix(1.0950 0 0 1.0000 559.33 1088.00)" font-size="39.8">S</text>
<text transform="matrix(1.0950 0 0 1.0000 586.43 1067.00)" font-size="39.8">S</text>
<text transform="matrix(1.0950 0 0 1.0000 609.73 1089.00)" font-size="39.8">S</text>
<text transform="matrix(1.0550 0 0 1.0000 633.51 1085.23)" font-size="40.5">H</text>
<text transform="matrix(1.0950 0 0 1.0000 656.43 1028.10)" font-size="39.8">S</text>
<text transform="matrix(1.0950 0 0 1.0000 712.73 1077.05)" font-size="39.8">S</text>
<text transform="matrix(1.0950 0 0 1.0000 737.23 1080.10)" font-size="39.8">S</text>
<text transform="matrix(1.0950 0 0 1.0000 760.93 1094.70)" font-size="39.8">S</text>
<text transform="matrix(1.0550 0 0 1.0000 799.61 1094.33)" font-size="40.5">H</text>
<text transform="matrix(1.0950 0 0 1.0000 821.23 1090.20)" font-size="39.8">S</text>
<text transform="matrix(1.0950 0 0 1.0000 846.13 1088.55)" font-size="39.8">S</text>
<text transform="matrix(1.0950 0 0 1.0000 875.33 1088.55)" font-size="39.8">S</text>
<text transform="matrix(1.0550 0 0 1.0000 904.11 1090.83)" font-size="40.5">H</text>
<text transform="matrix(1.0950 0 0 1.0000 929.73 1088.15)" font-size="39.8">S</text>
<text transform="matrix(1.0950 0 0 1.0000 1001.08 1090.70)" font-size="39.8">S</text>
<text transform="matrix(1.0950 0 0 1.0000 1048.28 1084.85)" font-size="39.8">S</text>
<text transform="matrix(1.0660 0 0 1.0000 346.02 1360.48)" font-size="40.5">M</text>
<text transform="matrix(1.0550 0 0 1.0000 376.71 1232.23)" font-size="40.5">H</text>
<text transform="matrix(1.0660 0 0 1.0000 403.87 1348.13)" font-size="40.5">M</text>
<text transform="matrix(1.0660 0 0 1.0000 427.12 1366.33)" font-size="40.5">M</text>
<text transform="matrix(1.0550 0 0 1.0000 627.01 1201.43)" font-size="40.5">H</text>
<text transform="matrix(1.0550 0 0 1.0000 795.61 1299.33)" font-size="40.5">H</text>
<text transform="matrix(1.0550 0 0 1.0000 893.81 1311.43)" font-size="40.5">H</text>
<text transform="matrix(1.0550 0 0 1.0000 940.81 1348.53)" font-size="40.5">H</text>
<text transform="matrix(1.0550 0 0 1.0000 1015.81 1354.23)" font-size="40.5">H</text>
<text transform="matrix(1.0550 0 0 1.0000 1065.96 1359.23)" font-size="40.5">H</text>
<text transform="matrix(1.0550 0 0 1.0000 1177.81 1359.23)" font-size="40.5">H</text>
</g>
</svg>
</body></html>
